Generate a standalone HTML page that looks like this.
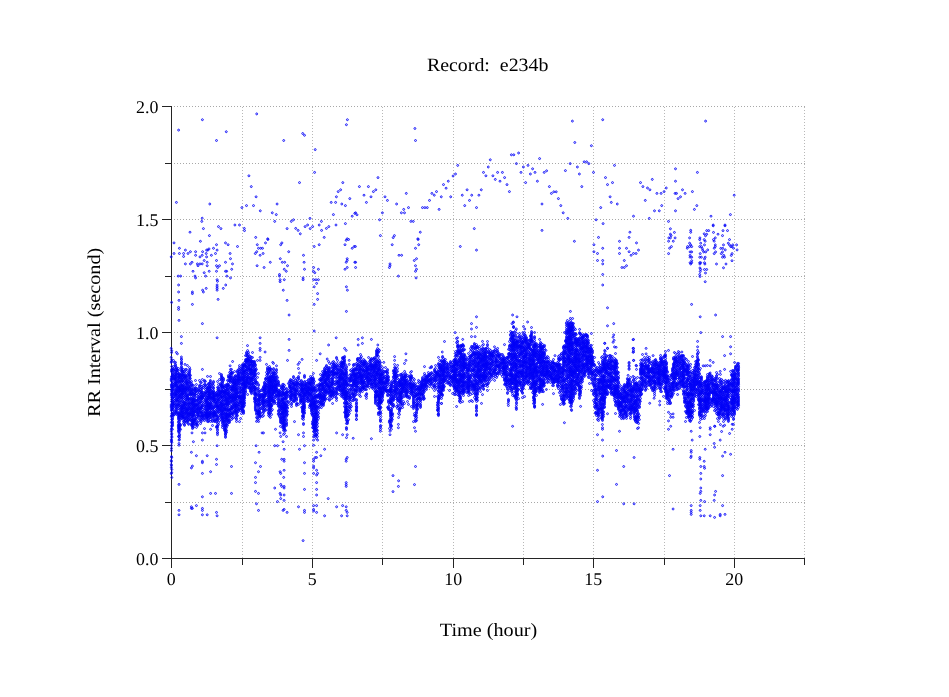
<!DOCTYPE html>
<html><head><meta charset="utf-8"><title>Record: e234b</title>
<style>
html,body{margin:0;padding:0;background:#fff;}
body{width:949px;height:697px;overflow:hidden;position:relative;font-family:"Liberation Serif",serif;color:#000;}
svg{position:absolute;left:0;top:0;}
text{font-family:"Liberation Serif",serif;fill:#000;text-rendering:geometricPrecision;}
</style></head><body>
<svg width="949" height="697" viewBox="0 0 949 697">
<rect width="949" height="697" fill="#fff"/>
<path d="M242.5 558V106M312.5 558V106M382.5 558V106M453.5 558V106M523.5 558V106M593.5 558V106M664.5 558V106M734.5 558V106M804.5 558V106" stroke="#b8b8b8" stroke-width="1" stroke-dasharray="1 2" fill="none"/>
<path d="M174 502.5H806M174 445.5H806M174 389.5H806M174 332.5H806M174 276.5H806M174 219.5H806M174 163.5H806M174 106.5H806" stroke="#a8a8a8" stroke-width="1" stroke-dasharray="1 2" fill="none"/>
<path d="M171.5 106V568M162 558.5H805M242.5 558.5v6.5M312.5 558.5v9.5M382.5 558.5v6.5M453.5 558.5v9.5M523.5 558.5v6.5M593.5 558.5v9.5M664.5 558.5v6.5M734.5 558.5v9.5M804.5 558.5v6.5M171.5 502.5h-6.5M171.5 445.5h-9.5M171.5 389.5h-6.5M171.5 332.5h-9.5M171.5 276.5h-6.5M171.5 219.5h-9.5M171.5 163.5h-6.5M171.5 106.5h-9.5" stroke="#242424" stroke-width="1" fill="none"/>
<defs><marker id="m" markerWidth="4" markerHeight="4" refX="2" refY="2" markerUnits="userSpaceOnUse"><circle cx="2" cy="2" r="0.95" fill="none" stroke="#0606f8" stroke-width="0.9"/></marker></defs>
<polyline points="172.5,369.4 172.6,372.6 172.5,373.4 172.5,374.4 172.5,375.4 172.5,376.6 172.5,377.5 172.5,378.5 172.5,383.5 172.5,384.5 172.6,386.6 172.5,387.6 172.6,388.5 172.5,389.5 172.4,390.5 172.5,393.4 172.5,394.4 172.5,395.5 172.5,397.4 172.5,398.5 172.6,401.5 172.6,402.5 172.6,403.5 172.5,404.5 172.4,405.4 172.5,406.5 172.5,407.6 172.5,408.6 172.4,409.6 172.5,411.5 172.6,413.6 172.5,414.4 172.6,415.5 172.6,417.5 172.4,418.5 172.5,419.5 172.5,421.6 172.4,422.5 172.4,423.4 172.5,424.4 172.6,425.6 172.4,429.4 173.5,360.5 173.5,366.6 173.5,368.6 173.5,369.5 173.5,370.4 173.5,375.5 173.6,376.4 173.5,378.5 173.5,379.5 173.4,382.5 173.4,384.6 173.6,386.5 173.5,388.5 173.5,391.5 173.5,392.6 173.4,396.5 173.5,397.5 173.5,399.6 173.4,401.4 173.5,403.5 173.5,404.4 173.5,405.4 173.4,407.4 173.5,409.5 173.5,413.4 173.5,414.5 173.5,415.5 174.5,362.5 174.5,371.6 174.6,374.6 174.6,378.6 174.4,379.5 174.5,383.4 174.5,385.5 174.4,386.5 174.5,393.5 174.5,394.5 174.5,398.6 174.6,400.6 174.5,403.5 174.6,405.5 174.5,411.5 174.5,414.4 175.5,362.4 175.5,364.5 175.5,365.5 175.4,366.5 175.6,369.5 175.5,371.5 175.5,373.6 175.6,374.6 175.5,375.5 175.4,376.6 175.5,377.4 175.5,378.4 175.5,379.6 175.5,381.5 175.5,382.5 175.4,383.4 175.5,384.5 175.4,385.5 175.4,389.6 175.5,390.5 175.5,391.5 175.5,393.6 175.5,394.5 175.5,395.4 175.4,396.6 175.5,401.5 175.6,404.5 175.6,407.6 175.5,411.4 175.5,412.4 176.5,367.5 176.5,368.4 176.5,369.4 176.6,370.5 176.6,371.5 176.5,373.4 176.5,374.4 176.5,376.4 176.5,377.4 176.5,379.5 176.5,380.5 176.5,381.5 176.4,382.5 176.4,383.5 176.6,384.5 176.6,385.6 176.6,386.5 176.6,387.5 176.6,388.5 176.6,389.6 176.4,390.5 176.5,391.4 176.4,392.5 176.5,393.5 176.5,394.5 176.6,395.6 176.5,396.4 176.5,398.5 176.5,399.5 176.5,400.5 176.5,401.6 176.4,404.5 176.5,405.4 176.4,406.4 176.5,407.5 176.5,408.5 176.5,409.6 176.4,410.5 176.5,411.5 176.5,412.5 176.5,413.6 176.5,414.5 177.5,370.5 177.5,372.5 177.5,383.5 177.5,387.5 177.5,391.6 177.5,393.5 177.5,398.5 177.4,399.5 177.5,401.4 177.5,404.5 178.5,368.5 178.5,370.4 178.4,373.5 178.6,374.4 178.4,375.5 178.5,376.5 178.4,377.5 178.5,378.5 178.6,379.5 178.6,380.6 178.5,381.6 178.5,382.4 178.5,385.5 178.6,386.5 178.4,387.5 178.5,388.5 178.4,389.4 178.5,390.6 178.5,391.6 178.5,392.4 178.6,394.6 178.5,396.5 178.5,397.5 178.6,399.5 178.6,401.4 178.5,403.5 178.6,404.5 178.4,405.5 178.5,406.5 178.5,408.5 178.5,412.5 178.5,413.5 178.6,414.5 178.5,415.5 178.5,416.5 178.5,417.5 178.5,418.5 178.6,419.5 178.6,421.4 178.4,422.5 178.5,424.6 178.4,425.5 178.4,426.5 178.6,427.5 178.5,428.5 178.5,430.5 178.5,431.5 178.5,436.5 179.5,373.6 179.5,374.6 179.6,375.5 179.4,376.5 179.5,377.5 179.5,379.4 179.6,381.5 179.5,382.5 179.4,386.6 179.6,387.5 179.6,388.4 179.4,389.4 179.6,390.6 179.5,391.5 179.5,393.5 179.5,394.5 179.5,395.5 179.5,396.5 179.5,397.5 179.5,398.4 179.5,400.5 179.5,401.5 179.6,403.6 179.5,405.5 179.5,407.5 179.4,409.5 179.5,412.5 179.4,413.4 179.5,414.5 179.5,415.5 179.5,416.5 179.4,417.6 179.6,419.5 179.5,421.5 179.5,423.4 179.6,424.4 179.5,425.5 179.6,426.6 179.5,427.5 179.4,428.6 179.5,429.6 179.5,431.5 179.6,434.5 179.4,435.6 179.5,437.5 179.4,439.5 180.5,377.6 180.6,381.5 180.5,384.5 180.5,385.4 180.5,388.5 180.6,389.6 180.5,390.5 180.5,394.5 180.5,404.4 180.5,406.5 180.5,409.5 180.5,412.5 180.4,415.4 180.5,419.4 180.4,424.5 180.5,425.5 180.6,429.4 181.5,359.5 181.5,361.5 181.5,362.6 181.5,363.5 181.4,364.4 181.5,366.5 181.5,367.5 181.6,368.5 181.6,369.5 181.5,370.5 181.5,371.5 181.6,373.5 181.6,374.5 181.5,375.5 181.5,376.4 181.5,377.5 181.5,378.6 181.6,379.5 181.4,380.5 181.5,381.4 181.5,382.5 181.5,384.5 181.6,385.5 181.5,386.6 181.5,387.5 181.6,388.5 181.5,389.4 181.5,390.4 181.5,391.4 181.5,392.5 181.5,393.5 181.5,394.4 181.5,395.5 181.5,396.6 181.5,397.5 181.4,398.4 181.5,399.5 181.5,401.6 181.5,402.5 181.5,405.4 181.5,406.4 181.5,407.5 181.4,408.5 181.4,409.5 181.4,410.5 181.4,411.5 181.5,412.5 181.5,413.5 181.5,414.4 181.5,415.5 181.5,416.4 181.6,417.5 181.5,418.4 182.4,370.5 182.5,371.6 182.5,372.5 182.4,374.5 182.5,375.5 182.5,377.5 182.5,380.6 182.5,381.5 182.5,385.5 182.5,386.5 182.5,388.5 182.4,389.5 182.4,390.4 182.5,391.4 182.5,392.5 182.6,393.6 182.5,394.5 182.5,396.5 182.5,398.5 182.5,401.5 182.5,405.5 182.4,406.4 182.6,407.6 182.5,408.5 182.6,410.6 182.5,411.4 182.5,412.5 182.5,414.4 182.5,415.5 182.5,416.6 182.5,417.5 183.5,369.4 183.5,371.5 183.4,373.4 183.4,375.4 183.6,376.5 183.5,378.5 183.4,379.5 183.6,382.6 183.6,384.5 183.4,385.4 183.4,386.5 183.5,388.4 183.6,389.4 183.5,390.5 183.5,392.6 183.6,395.5 183.6,397.4 183.5,399.5 183.5,402.5 183.6,403.5 183.5,404.5 183.5,405.5 183.4,407.4 183.5,408.4 183.5,409.5 183.6,412.5 183.6,414.5 183.5,416.5 183.5,417.5 183.4,419.5 183.5,421.5 183.5,423.6 184.5,371.5 184.5,373.5 184.6,375.4 184.6,376.5 184.5,377.6 184.6,378.4 184.5,380.6 184.6,381.6 184.6,383.4 184.5,386.5 184.6,387.5 184.5,388.4 184.5,389.5 184.5,390.6 184.6,392.5 184.5,393.4 184.5,394.6 184.4,396.5 184.6,398.4 184.5,400.6 184.5,402.5 184.5,403.5 184.5,404.5 184.4,406.5 184.4,407.4 184.5,409.5 184.5,411.5 184.5,412.4 184.5,413.6 184.5,414.5 184.5,416.5 184.5,417.6 184.6,418.5 184.6,419.5 184.5,421.4 184.5,422.5 184.5,424.5 184.5,425.4 185.5,369.5 185.5,375.5 185.5,376.5 185.5,387.5 185.6,389.5 185.4,390.5 185.4,392.5 185.5,395.5 185.5,397.4 185.5,401.5 185.5,403.5 185.5,405.4 185.5,406.5 185.5,408.4 185.5,409.5 185.6,412.4 185.4,420.6 186.5,369.4 186.6,371.5 186.5,376.6 186.5,377.5 186.5,378.5 186.5,379.5 186.4,380.6 186.5,381.5 186.5,382.4 186.5,383.5 186.5,384.5 186.5,385.6 186.5,386.6 186.5,387.5 186.5,388.5 186.5,389.5 186.4,391.5 186.5,392.5 186.5,394.5 186.6,395.6 186.5,396.6 186.4,398.5 186.5,399.5 186.4,401.6 186.4,403.5 186.5,404.6 186.5,406.5 186.5,408.5 186.5,409.5 186.4,410.6 186.5,411.4 186.5,412.6 186.6,413.5 186.5,414.6 186.6,415.5 186.5,416.5 186.6,417.5 186.5,418.5 186.5,419.4 186.5,421.4 186.5,422.5 187.4,374.6 187.5,375.5 187.5,380.5 187.5,382.6 187.5,383.5 187.5,384.4 187.5,388.5 187.5,389.5 187.5,390.5 187.6,394.5 187.6,395.5 187.5,396.4 187.5,397.5 187.4,398.5 187.5,399.5 187.6,400.4 187.5,404.5 187.4,408.6 187.5,409.5 187.5,410.5 187.5,412.5 187.6,413.4 187.6,416.4 187.6,418.5 187.5,420.4 187.5,421.6 188.5,373.5 188.5,381.5 188.5,386.6 188.4,387.6 188.4,389.6 188.4,395.5 188.5,398.5 188.5,399.5 188.5,402.5 188.6,403.4 188.5,404.5 188.5,406.5 188.5,407.5 188.5,409.5 188.5,410.5 188.5,413.5 188.5,414.6 188.5,415.6 188.4,417.5 188.5,419.5 188.5,420.5 188.5,423.5 188.6,424.4 189.5,367.6 189.5,370.4 189.6,371.4 189.5,372.4 189.4,373.4 189.5,374.5 189.5,375.6 189.5,376.4 189.5,377.6 189.4,378.5 189.5,379.5 189.5,381.6 189.5,382.6 189.5,384.5 189.4,385.4 189.5,386.4 189.5,387.5 189.5,388.4 189.5,389.4 189.5,390.5 189.5,391.5 189.6,392.5 189.5,393.5 189.6,394.5 189.5,398.6 189.4,399.5 189.5,400.4 189.4,402.5 189.5,403.5 189.5,405.4 189.5,406.5 189.5,407.4 189.5,408.5 189.5,410.4 189.6,412.5 189.6,413.5 189.5,414.6 189.5,415.5 189.5,417.5 189.6,418.5 190.5,375.4 190.4,378.5 190.5,382.4 190.4,393.5 190.5,394.5 190.4,398.5 190.6,404.5 190.5,408.5 190.6,409.5 190.5,412.5 190.5,413.4 190.5,414.5 190.5,419.6 190.5,420.5 191.5,381.5 191.5,383.4 191.6,384.6 191.4,385.5 191.4,387.5 191.5,388.5 191.5,389.5 191.5,390.4 191.5,391.4 191.5,392.5 191.6,393.6 191.5,394.5 191.5,396.5 191.5,398.5 191.5,400.5 191.5,401.5 191.5,402.5 191.5,403.5 191.5,404.6 191.5,405.6 191.5,408.5 191.5,409.6 191.5,410.5 191.5,411.5 191.6,412.5 191.5,414.5 191.5,415.5 191.6,416.5 191.5,418.6 191.5,420.5 191.5,423.5 191.5,424.6 191.5,425.5 192.5,385.5 192.5,390.4 192.5,391.5 192.5,393.5 192.4,394.5 192.4,395.5 192.4,398.4 192.5,399.5 192.5,400.5 192.6,401.6 192.5,402.5 192.6,403.5 192.5,404.5 192.5,406.6 192.5,407.5 192.6,408.5 192.5,409.6 192.4,411.5 192.5,412.6 192.5,414.5 192.4,415.5 192.6,416.5 192.4,417.4 192.6,418.5 192.4,420.4 192.4,421.5 192.5,422.5 192.5,423.5 192.5,424.5 192.5,425.4 192.5,426.5 192.6,427.5 192.5,428.6 193.5,385.4 193.5,388.6 193.5,393.5 193.5,398.6 193.5,399.5 193.6,401.4 193.4,403.5 193.5,405.6 193.5,406.5 193.5,408.6 193.5,410.5 193.5,411.5 193.5,412.5 193.4,413.5 193.6,414.5 193.5,415.5 193.4,419.5 193.5,420.4 193.5,421.6 193.5,422.6 193.5,423.5 193.5,425.5 193.5,427.4 194.5,388.5 194.5,389.5 194.4,390.4 194.5,392.4 194.6,393.4 194.5,394.5 194.5,395.5 194.4,396.6 194.5,397.5 194.5,399.5 194.4,400.6 194.4,401.4 194.6,402.5 194.4,403.6 194.6,404.4 194.5,405.5 194.5,406.5 194.4,407.5 194.4,408.5 194.5,409.5 194.5,410.5 194.4,411.6 194.5,412.5 194.5,414.5 194.5,415.6 194.5,416.5 194.6,419.4 194.6,420.5 194.6,421.5 194.5,423.6 195.5,380.5 195.5,387.5 195.6,388.5 195.4,390.4 195.5,391.5 195.5,394.5 195.5,400.5 195.5,404.6 195.5,405.4 195.5,406.4 195.4,411.4 195.5,418.4 195.4,419.4 195.5,420.4 195.5,424.5 196.4,384.5 196.5,388.5 196.6,390.5 196.5,391.5 196.5,393.4 196.4,395.5 196.5,398.5 196.4,400.6 196.4,401.4 196.5,404.5 196.5,405.4 196.4,407.5 196.4,408.5 196.6,409.5 196.4,410.5 196.5,411.6 196.5,412.4 196.5,416.6 196.5,418.4 196.5,422.5 196.5,423.5 196.5,424.5 196.4,427.4 197.5,400.4 197.5,403.4 197.5,404.6 197.5,405.5 197.6,406.5 197.5,408.5 197.5,409.4 197.5,412.4 197.5,413.5 197.5,414.5 197.4,415.5 197.5,422.4 197.4,424.5 197.6,425.5 198.4,388.4 198.6,389.5 198.5,390.5 198.5,391.5 198.5,394.4 198.5,396.5 198.5,397.5 198.5,398.5 198.5,399.4 198.5,400.5 198.4,401.6 198.4,403.6 198.5,405.6 198.4,407.4 198.6,408.6 198.4,409.5 198.5,410.5 198.5,412.5 198.5,413.5 198.5,415.4 198.5,416.5 198.4,417.5 198.5,420.5 199.5,380.5 199.5,385.5 199.5,386.6 199.6,390.5 199.5,392.5 199.6,395.6 199.5,397.5 199.5,402.5 199.5,403.4 199.5,404.5 199.4,407.5 199.5,408.5 199.4,409.5 199.4,410.4 199.6,412.5 199.4,415.5 200.5,382.5 200.5,385.5 200.5,387.4 200.5,389.5 200.5,391.5 200.4,394.5 200.6,396.5 200.5,397.5 200.6,398.6 200.5,399.5 200.5,401.5 200.5,402.5 200.5,407.5 200.5,408.5 200.4,410.4 200.5,411.6 200.5,412.5 200.4,415.6 200.5,418.5 200.5,419.5 200.5,421.4 200.5,423.6 201.4,382.5 201.5,386.5 201.5,388.4 201.5,390.5 201.5,391.5 201.4,392.4 201.5,393.5 201.5,394.5 201.4,396.6 201.5,397.5 201.5,398.4 201.4,399.5 201.5,401.5 201.4,405.5 201.6,406.5 201.4,407.6 201.6,408.5 201.6,412.5 201.5,413.5 201.5,415.5 201.5,416.5 201.5,417.5 201.6,419.5 201.4,421.5 202.4,388.5 202.5,392.5 202.6,394.5 202.6,395.5 202.5,396.5 202.5,397.5 202.5,398.6 202.6,402.4 202.4,404.6 202.5,405.5 202.5,406.4 202.5,409.4 202.5,411.6 202.5,413.5 202.5,414.5 202.5,415.5 202.6,416.5 202.5,418.4 203.4,385.5 203.5,387.5 203.6,392.6 203.5,395.6 203.5,396.4 203.5,399.5 203.5,403.4 203.5,411.5 203.5,415.5 203.5,418.5 203.4,419.6 204.5,380.4 204.5,381.5 204.5,384.4 204.6,386.5 204.5,393.4 204.5,397.6 204.5,402.4 204.5,406.4 204.5,408.6 204.5,413.5 204.5,415.4 204.4,416.5 204.6,417.5 204.5,420.6 205.4,381.4 205.4,384.5 205.5,385.6 205.5,387.5 205.6,389.5 205.6,391.5 205.5,392.5 205.4,393.5 205.4,394.5 205.5,395.5 205.6,396.6 205.6,399.5 205.5,400.5 205.5,401.5 205.4,404.5 205.6,405.5 205.5,406.5 205.5,408.5 205.5,409.6 205.5,411.5 205.4,412.5 205.5,413.5 205.5,414.4 205.4,415.5 206.6,388.6 206.4,392.4 206.5,397.5 206.5,399.5 206.5,400.5 206.6,401.5 206.5,402.5 206.6,403.4 206.5,405.6 206.6,406.4 206.5,409.5 206.5,410.5 206.5,412.5 206.5,413.5 206.6,414.5 206.5,415.6 206.5,416.5 206.4,417.5 206.5,418.5 206.5,419.5 207.5,385.5 207.6,387.5 207.6,388.4 207.6,389.5 207.4,390.5 207.4,392.4 207.5,393.5 207.6,395.5 207.5,397.5 207.4,398.6 207.5,399.5 207.5,401.4 207.4,402.5 207.5,403.5 207.5,404.6 207.6,405.5 207.4,406.4 207.4,407.4 207.5,408.5 207.5,409.5 207.5,410.6 207.5,411.5 207.6,412.5 207.5,413.4 207.5,414.4 207.5,415.6 207.6,416.6 207.5,417.5 207.4,418.5 207.5,421.5 208.5,383.5 208.6,384.5 208.5,386.4 208.4,387.4 208.4,390.5 208.4,391.5 208.5,392.5 208.5,394.5 208.5,395.4 208.5,396.5 208.5,397.5 208.5,398.5 208.6,400.6 208.5,403.5 208.5,404.5 208.5,405.5 208.5,406.5 208.6,407.5 208.5,408.5 208.5,409.5 208.5,413.5 208.6,414.5 208.5,415.5 208.5,416.5 208.6,418.6 208.4,420.6 208.5,421.6 209.5,383.4 209.6,387.5 209.6,388.4 209.5,389.5 209.4,391.6 209.5,392.5 209.6,393.5 209.5,394.5 209.5,395.4 209.4,396.4 209.5,397.5 209.5,399.5 209.6,401.5 209.4,403.5 209.5,404.5 209.5,405.4 209.4,406.5 209.5,407.5 209.6,410.6 209.5,412.4 209.5,413.5 209.5,414.4 209.5,415.6 209.5,417.5 210.5,376.5 210.4,380.4 210.4,381.5 210.4,382.5 210.4,384.5 210.4,385.5 210.5,386.5 210.5,387.4 210.6,389.4 210.5,390.4 210.6,391.6 210.5,393.5 210.4,394.5 210.5,395.4 210.4,396.5 210.5,397.5 210.5,398.5 210.4,399.4 210.6,402.5 210.4,403.5 210.5,404.5 210.5,405.5 210.5,406.5 210.5,407.5 210.5,408.6 210.5,409.5 210.5,411.5 210.5,412.5 210.5,413.6 210.5,414.4 210.6,415.5 210.5,416.5 210.5,417.5 210.5,419.6 210.6,421.4 211.4,390.5 211.5,393.4 211.5,397.5 211.4,398.5 211.4,401.6 211.5,404.4 211.5,405.6 211.4,406.5 211.4,408.6 211.5,412.5 212.5,383.5 212.5,384.5 212.4,387.5 212.5,391.5 212.6,392.5 212.5,393.4 212.5,394.5 212.5,396.5 212.5,397.4 212.5,398.5 212.5,400.5 212.5,402.5 212.5,408.5 212.4,409.4 212.6,411.5 212.5,413.4 212.6,414.5 212.6,415.5 212.6,417.4 212.5,418.4 212.5,420.4 212.4,421.5 212.5,425.5 213.5,381.4 213.6,382.5 213.5,385.4 213.5,387.6 213.5,388.5 213.5,390.5 213.5,391.4 213.5,392.5 213.5,393.5 213.4,394.6 213.4,395.5 213.4,396.6 213.5,397.4 213.6,398.4 213.5,399.5 213.5,400.5 213.4,401.5 213.5,405.5 213.5,406.5 213.5,407.4 213.5,408.4 213.6,411.5 213.5,412.5 213.4,413.5 213.5,414.5 213.6,415.6 213.5,416.5 214.5,392.5 214.5,394.5 214.5,395.5 214.5,396.5 214.5,397.5 214.5,398.6 214.5,399.5 214.5,400.5 214.6,403.5 214.5,406.5 214.5,409.6 214.6,411.6 214.6,412.5 214.5,413.5 214.6,414.5 214.5,416.5 214.4,419.4 214.5,420.5 214.4,421.5 215.4,393.5 215.5,395.5 215.5,399.5 215.4,401.5 215.5,402.4 215.5,403.6 215.5,406.5 215.5,412.4 215.5,414.5 215.6,415.4 215.5,416.4 215.5,419.4 215.5,421.5 216.5,392.5 216.5,393.5 216.5,394.5 216.4,395.5 216.4,396.6 216.5,399.5 216.6,400.6 216.4,402.5 216.4,403.5 216.6,404.5 216.4,405.6 216.5,406.5 216.6,407.5 216.6,409.6 216.4,411.5 216.6,412.6 216.6,414.5 216.5,415.6 216.6,419.5 216.5,421.5 216.5,426.5 216.5,427.4 217.5,387.5 217.5,391.4 217.6,394.6 217.6,395.6 217.5,396.5 217.5,398.6 217.5,401.5 217.4,402.6 217.5,405.6 217.5,406.5 217.6,407.5 217.5,409.5 217.5,410.6 217.5,416.5 217.6,417.5 217.4,418.5 217.6,419.5 217.4,420.4 217.5,423.5 217.5,425.5 217.5,426.5 217.5,427.4 217.5,430.5 217.5,432.5 218.5,384.6 218.5,387.4 218.5,388.5 218.5,389.6 218.5,390.4 218.6,391.5 218.5,393.5 218.5,394.5 218.4,395.5 218.5,397.6 218.5,398.5 218.5,399.5 218.5,400.5 218.4,401.5 218.5,404.5 218.4,405.5 218.4,406.4 218.5,407.5 218.4,408.6 218.5,411.6 218.4,412.5 218.5,416.6 218.5,422.6 218.5,424.6 219.5,373.5 219.5,379.5 219.4,391.5 219.6,393.5 219.4,394.5 219.6,396.5 219.5,399.5 219.6,403.5 219.6,405.4 219.5,408.5 219.6,409.5 219.4,411.5 219.4,413.5 219.5,417.5 219.5,420.5 220.4,383.5 220.5,384.5 220.5,385.5 220.5,387.6 220.4,390.5 220.5,391.5 220.6,392.5 220.4,393.5 220.5,394.5 220.5,395.5 220.5,396.5 220.5,397.5 220.5,400.4 220.5,402.5 220.6,403.5 220.5,405.5 220.5,406.5 220.5,408.5 220.5,409.6 220.4,410.5 220.5,414.5 220.5,415.6 221.5,374.5 221.4,375.5 221.5,376.4 221.5,377.5 221.6,378.5 221.5,379.5 221.5,380.5 221.6,384.5 221.5,385.5 221.5,386.5 221.5,387.5 221.6,390.5 221.4,391.4 221.5,392.5 221.5,394.5 221.5,396.5 221.5,397.4 221.5,399.5 221.5,401.4 221.5,402.6 221.6,403.4 221.6,404.5 221.5,405.5 221.5,406.5 221.5,407.4 221.5,408.5 221.5,410.6 221.5,411.5 221.5,412.6 221.5,413.5 221.5,414.4 221.5,415.6 221.5,417.5 221.6,418.5 221.5,420.5 222.5,377.5 222.5,381.5 222.5,382.5 222.5,383.5 222.5,386.5 222.5,387.4 222.5,388.5 222.4,390.4 222.5,391.5 222.6,392.4 222.5,393.5 222.6,395.5 222.5,396.5 222.6,397.4 222.5,398.5 222.4,400.5 222.4,402.5 222.5,404.5 222.6,405.5 222.6,407.5 222.5,408.5 222.4,410.5 222.5,411.5 222.6,413.5 222.5,415.5 222.5,417.5 222.5,418.5 222.4,419.5 222.5,420.4 222.5,422.5 222.5,423.5 222.4,425.6 222.5,427.5 223.5,378.5 223.5,379.5 223.4,380.5 223.5,385.6 223.6,386.5 223.5,387.5 223.5,389.5 223.4,391.5 223.6,392.6 223.6,394.5 223.4,397.5 223.5,399.6 223.4,400.5 223.5,401.5 223.5,404.5 223.6,405.5 223.4,406.6 223.5,409.5 223.5,410.4 223.5,412.5 223.5,413.5 223.5,415.5 223.4,416.4 223.4,417.5 223.6,418.4 223.6,420.5 223.5,421.5 223.4,422.5 223.5,425.5 224.6,385.5 224.5,387.4 224.5,390.5 224.5,391.5 224.5,392.5 224.5,393.6 224.6,394.5 224.5,395.5 224.4,396.5 224.4,403.6 224.5,404.5 224.4,407.5 224.5,408.5 224.5,409.6 224.5,410.4 224.5,413.5 224.6,419.4 224.4,421.5 224.6,422.4 224.4,424.5 224.5,425.5 224.5,427.5 224.5,428.5 224.5,429.4 224.5,430.5 225.6,388.5 225.5,390.5 225.6,391.6 225.5,392.5 225.4,393.6 225.4,396.5 225.4,397.5 225.5,398.4 225.6,399.5 225.5,400.5 225.4,401.5 225.6,403.6 225.5,404.5 225.4,405.5 225.4,407.6 225.5,408.4 225.5,409.5 225.4,412.4 225.4,413.4 225.4,414.6 225.5,415.5 225.5,416.4 225.6,417.5 225.5,418.5 225.5,419.5 225.5,424.5 225.6,425.5 225.5,426.4 225.6,427.5 225.5,429.5 225.5,430.5 225.5,431.4 225.5,432.4 225.4,433.5 225.5,434.6 225.5,437.4 226.4,384.5 226.5,385.4 226.4,386.6 226.4,387.5 226.6,389.4 226.5,390.5 226.4,392.5 226.5,393.6 226.4,395.6 226.6,397.6 226.6,398.4 226.5,399.5 226.4,400.6 226.5,401.5 226.5,403.5 226.5,404.4 226.6,407.5 226.5,409.5 226.6,410.6 226.5,413.6 226.5,414.5 226.4,415.4 226.5,416.6 226.4,417.5 226.5,418.5 226.4,420.5 226.4,421.5 226.6,422.6 226.5,424.5 226.4,425.5 226.5,427.6 226.6,430.5 226.5,432.4 227.5,380.4 227.5,384.5 227.4,385.5 227.5,387.4 227.5,389.6 227.4,391.6 227.5,393.6 227.4,394.6 227.4,395.5 227.4,398.5 227.5,401.5 227.6,402.5 227.5,403.5 227.4,404.5 227.6,405.5 227.5,406.6 227.4,409.6 227.4,410.5 227.5,412.4 227.5,413.5 227.6,414.6 227.5,416.4 227.5,417.5 227.5,419.5 227.4,420.4 227.5,423.5 227.5,425.4 228.4,375.5 228.6,376.6 228.5,377.5 228.6,380.5 228.5,382.6 228.5,384.6 228.5,385.5 228.5,387.4 228.5,389.4 228.6,391.6 228.4,392.5 228.6,393.5 228.4,394.5 228.5,395.6 228.6,397.5 228.4,398.5 228.5,399.5 228.5,400.4 228.6,401.5 228.4,402.6 228.5,403.4 228.5,404.5 228.5,408.5 228.5,409.4 228.4,410.4 228.5,414.5 228.5,415.5 228.4,416.5 228.5,418.5 228.5,419.5 228.5,420.4 228.5,422.5 229.6,372.5 229.6,376.6 229.5,377.5 229.5,380.5 229.5,386.5 229.6,389.6 229.5,392.5 229.6,395.6 229.4,396.6 229.5,397.6 229.4,398.6 229.5,400.4 229.4,405.5 229.4,409.5 229.5,410.6 229.5,411.5 229.5,413.5 229.4,414.5 229.5,415.5 229.5,416.5 229.5,420.4 229.5,421.4 229.5,422.5 230.5,369.5 230.6,371.5 230.5,373.4 230.5,374.5 230.6,375.5 230.5,377.6 230.4,378.5 230.5,379.5 230.6,380.5 230.5,381.5 230.5,382.5 230.5,386.6 230.5,388.4 230.5,393.5 230.5,395.5 230.5,396.6 230.5,397.5 230.5,401.5 230.5,402.5 230.5,403.5 230.4,408.4 230.5,409.4 230.5,410.5 230.5,412.5 230.5,413.4 230.5,414.5 230.5,416.6 231.6,372.5 231.5,373.4 231.4,375.6 231.6,377.5 231.5,380.4 231.5,386.5 231.5,388.6 231.5,389.5 231.5,390.4 231.5,392.4 231.5,394.4 231.6,396.5 231.6,397.4 231.5,398.5 231.5,399.4 231.5,400.5 231.5,401.5 231.5,406.5 231.6,407.5 231.5,408.5 231.5,410.6 231.5,413.5 231.5,415.5 231.5,417.5 231.5,419.5 232.5,372.6 232.5,373.6 232.6,377.6 232.6,378.6 232.4,381.5 232.5,382.5 232.5,384.5 232.5,386.5 232.5,387.5 232.5,388.5 232.5,389.5 232.5,390.5 232.4,393.6 232.6,394.6 232.4,395.4 232.5,397.5 232.4,398.5 232.4,400.5 232.4,405.5 232.6,406.4 232.4,407.5 232.5,408.5 232.5,412.5 232.5,413.5 232.5,414.5 232.5,418.5 233.5,379.4 233.5,380.4 233.5,381.5 233.5,382.4 233.6,383.5 233.5,384.6 233.5,386.5 233.6,387.4 233.6,388.5 233.4,390.5 233.6,395.4 233.5,396.4 233.6,397.6 233.6,398.5 233.5,399.5 233.5,400.5 233.4,401.5 233.4,402.4 233.4,403.6 233.5,404.4 233.4,406.5 233.5,409.4 233.6,412.4 233.5,414.5 233.4,417.5 234.6,376.5 234.5,378.5 234.5,379.5 234.5,381.4 234.6,382.4 234.5,383.5 234.5,384.5 234.4,385.5 234.4,386.5 234.5,388.5 234.5,389.6 234.5,390.6 234.6,391.6 234.5,392.5 234.6,393.4 234.5,395.5 234.5,396.4 234.6,398.6 234.5,401.4 234.5,404.4 234.5,405.4 234.6,406.4 234.4,408.4 234.6,410.5 234.6,411.5 234.4,412.5 235.5,375.5 235.5,376.6 235.5,377.4 235.6,379.5 235.4,380.5 235.5,382.5 235.5,383.6 235.5,385.5 235.4,387.5 235.5,388.5 235.5,389.5 235.5,393.5 235.4,394.5 235.6,396.6 235.6,397.6 235.5,398.6 235.5,399.4 235.5,401.5 235.5,403.5 235.6,404.5 235.4,405.5 235.5,406.5 235.5,407.5 235.4,408.5 235.6,410.5 235.5,411.5 235.4,412.4 235.4,417.6 236.5,380.5 236.5,381.6 236.5,382.5 236.5,383.6 236.6,384.6 236.5,385.4 236.6,386.5 236.6,387.4 236.5,388.5 236.5,389.5 236.5,390.5 236.4,391.5 236.5,392.6 236.4,393.4 236.5,394.5 236.6,395.4 236.5,396.5 236.6,397.5 236.5,399.6 236.5,400.5 236.5,402.4 236.4,403.5 236.5,405.5 236.6,406.5 236.5,407.6 236.5,409.5 236.5,410.5 236.5,411.6 236.5,412.5 236.4,413.5 236.5,414.5 236.4,415.5 236.6,416.5 236.5,418.4 236.5,419.5 236.5,421.5 237.5,370.6 237.5,371.6 237.4,372.5 237.4,375.4 237.5,376.6 237.5,378.5 237.4,379.5 237.4,380.6 237.5,389.6 237.6,390.5 237.5,392.5 237.6,393.5 237.5,396.5 237.5,398.5 237.5,403.4 237.6,405.5 237.4,408.5 237.5,412.5 237.5,415.5 238.4,369.6 238.4,373.5 238.5,374.4 238.5,375.5 238.6,376.6 238.5,377.5 238.5,378.6 238.5,379.5 238.5,380.5 238.4,381.6 238.5,382.6 238.5,383.5 238.6,384.4 238.6,385.5 238.5,387.5 238.5,392.5 238.5,394.4 238.5,396.5 238.5,397.5 238.5,401.4 238.6,402.6 238.5,404.5 238.5,405.6 238.5,406.5 238.5,408.5 238.4,409.5 238.5,410.4 238.4,411.5 239.5,365.6 239.5,367.4 239.5,369.5 239.5,371.5 239.5,373.5 239.5,376.5 239.5,378.5 239.5,380.4 239.5,381.4 239.6,383.5 239.5,387.5 239.5,388.5 239.5,392.4 239.5,395.6 239.4,396.5 239.4,397.6 239.5,398.5 239.5,399.5 239.6,402.6 239.5,404.5 239.6,408.5 239.5,409.5 240.4,368.4 240.6,370.5 240.5,371.5 240.6,373.5 240.5,376.5 240.5,378.5 240.5,379.5 240.4,380.5 240.5,389.5 240.5,390.5 240.4,391.5 240.5,392.5 240.5,395.6 240.4,396.4 240.6,397.6 240.4,398.4 240.5,400.5 240.5,401.6 240.5,402.5 240.4,405.5 240.5,410.6 241.5,369.5 241.5,373.4 241.5,376.5 241.4,377.6 241.5,379.5 241.4,380.5 241.5,382.5 241.5,383.5 241.5,384.6 241.4,386.4 241.5,387.4 241.6,388.4 241.5,391.5 241.5,393.5 241.5,396.4 241.5,397.5 241.5,398.5 241.5,400.5 241.4,401.4 241.5,402.6 241.5,403.4 241.6,405.5 241.4,406.5 241.5,407.5 241.5,408.5 241.6,409.6 241.5,413.6 242.5,364.5 242.5,365.4 242.6,366.5 242.5,367.5 242.4,368.5 242.5,369.4 242.6,370.5 242.5,372.4 242.5,373.5 242.4,374.6 242.5,375.5 242.5,377.6 242.4,378.5 242.4,379.4 242.5,383.6 242.5,384.5 242.6,389.5 242.5,390.5 242.5,393.5 242.5,395.4 242.5,396.5 242.5,397.4 242.4,398.5 242.5,399.4 242.5,403.5 242.5,404.5 242.5,405.5 242.5,406.5 242.5,407.5 242.5,409.5 242.5,410.5 242.5,411.6 243.5,364.6 243.6,365.5 243.4,366.5 243.4,367.5 243.5,370.5 243.5,371.5 243.5,372.5 243.5,373.5 243.5,376.5 243.4,377.5 243.5,378.5 243.4,379.5 243.5,380.5 243.5,381.4 243.6,382.5 243.6,383.5 243.5,384.5 243.5,385.5 243.5,387.5 243.5,388.5 243.6,389.5 243.5,390.5 243.5,391.5 243.6,392.5 243.5,393.6 243.6,394.5 243.5,395.6 243.5,396.6 243.5,397.5 243.6,398.6 243.4,399.5 243.6,400.5 243.4,401.5 243.4,402.5 243.6,403.6 243.5,405.5 243.5,406.5 243.4,407.5 243.5,410.4 243.6,411.5 243.5,412.5 243.6,413.4 244.5,362.5 244.6,364.5 244.5,365.5 244.5,367.5 244.6,370.6 244.5,371.6 244.6,372.5 244.6,374.6 244.4,375.5 244.5,376.6 244.5,377.5 244.4,379.6 244.4,380.5 244.5,381.5 244.5,382.6 244.4,383.5 244.5,384.5 244.4,385.5 244.5,386.5 244.5,387.4 244.5,388.4 244.4,391.4 244.5,393.5 244.5,394.5 244.5,395.4 244.5,396.5 244.5,397.6 244.6,398.4 244.5,400.5 244.5,402.5 244.5,403.6 244.5,405.5 245.5,355.6 245.6,359.5 245.6,360.5 245.5,361.6 245.5,364.5 245.4,365.5 245.6,366.5 245.5,368.5 245.5,370.4 245.5,372.5 245.4,374.5 245.5,376.5 245.5,378.4 245.5,382.4 245.5,384.4 245.6,385.5 245.5,386.5 245.5,387.6 245.5,388.5 245.4,390.5 245.6,391.5 245.5,392.5 246.5,352.4 246.5,353.4 246.5,355.5 246.5,359.6 246.5,360.5 246.4,361.5 246.6,362.5 246.5,364.4 246.5,366.5 246.5,367.4 246.4,369.5 246.5,370.5 246.6,371.5 246.5,373.5 246.5,375.5 246.5,377.5 246.5,378.5 246.5,379.6 246.4,380.5 246.6,381.6 246.5,382.5 246.5,383.5 246.4,385.5 246.5,386.5 247.6,350.6 247.6,353.6 247.5,355.5 247.5,356.6 247.4,358.5 247.4,359.6 247.4,360.6 247.5,362.6 247.5,367.6 247.6,369.5 247.5,373.5 247.5,374.6 247.5,376.4 247.6,377.5 247.6,378.5 247.5,379.4 247.5,380.4 247.6,381.5 247.4,382.5 247.5,383.6 247.5,384.6 247.6,387.4 248.5,352.4 248.5,354.4 248.5,357.5 248.5,358.4 248.5,359.6 248.4,360.5 248.4,361.4 248.5,362.5 248.5,364.5 248.6,365.5 248.6,366.5 248.5,367.6 248.4,369.6 248.4,370.5 248.5,372.6 248.5,376.5 248.5,379.4 248.5,383.5 248.6,387.4 249.5,356.4 249.5,358.6 249.5,361.5 249.6,364.5 249.5,365.5 249.5,368.6 249.5,369.5 249.5,373.5 249.4,375.5 249.5,377.5 249.5,378.5 249.5,381.5 249.5,382.5 249.4,383.5 249.5,384.4 249.5,385.4 249.5,387.5 249.5,388.6 250.5,356.5 250.5,359.5 250.5,360.5 250.5,361.5 250.5,363.5 250.5,367.5 250.4,368.6 250.5,369.4 250.5,370.6 250.5,371.4 250.5,372.4 250.5,373.5 250.5,374.5 250.5,377.5 250.4,378.5 250.5,379.5 250.5,380.5 250.5,381.5 250.5,384.5 250.5,386.5 250.6,387.4 250.6,388.5 250.5,390.5 250.4,391.5 251.4,357.5 251.5,360.6 251.5,361.5 251.5,362.5 251.6,363.5 251.5,364.4 251.5,365.5 251.5,368.6 251.4,369.4 251.6,370.6 251.5,372.5 251.5,373.4 251.5,374.5 251.6,377.4 251.4,378.5 251.5,379.4 251.5,380.5 251.5,382.5 251.5,384.5 251.5,385.4 251.5,387.4 251.5,388.4 251.5,389.5 251.6,390.6 251.5,391.5 251.6,392.6 251.5,393.6 252.5,352.5 252.5,357.5 252.5,361.5 252.5,363.5 252.5,365.5 252.5,366.5 252.5,368.6 252.6,370.5 252.5,371.5 252.4,373.5 252.5,375.5 252.5,377.5 252.6,378.4 252.6,379.5 252.5,382.6 252.5,383.5 252.4,384.5 252.5,387.6 252.4,390.5 253.5,361.5 253.4,362.5 253.4,365.5 253.4,366.6 253.5,371.5 253.6,373.5 253.5,374.5 253.5,375.4 253.6,377.5 253.6,379.5 253.5,381.5 253.5,383.5 253.5,385.5 253.5,386.5 253.5,387.4 253.5,389.6 254.6,361.4 254.6,362.5 254.5,363.5 254.5,364.5 254.5,366.5 254.5,368.6 254.6,369.6 254.5,370.4 254.4,371.5 254.4,372.4 254.4,373.4 254.4,375.6 254.5,376.4 254.5,378.5 254.5,382.5 254.4,384.5 254.4,386.6 254.5,387.5 254.5,388.6 254.5,389.5 254.6,390.6 254.4,391.5 254.6,392.5 254.5,393.5 254.4,394.5 254.6,397.4 254.5,398.4 254.5,399.5 254.6,401.6 255.4,364.5 255.5,365.5 255.5,367.5 255.5,369.5 255.4,370.5 255.5,371.5 255.5,373.5 255.5,374.5 255.4,375.4 255.5,377.5 255.5,379.5 255.6,380.5 255.6,381.6 255.6,382.6 255.5,385.5 255.6,387.5 255.6,388.5 255.6,389.5 255.5,393.5 255.5,394.5 255.5,395.4 255.5,397.5 255.6,398.5 255.4,399.5 255.5,400.4 255.4,401.4 255.4,402.5 255.4,403.5 255.5,404.5 255.5,405.5 255.4,406.6 255.4,407.5 255.4,408.5 255.5,409.5 255.5,410.5 256.5,369.5 256.5,382.4 256.4,383.6 256.4,389.5 256.4,392.5 256.5,393.5 256.5,394.5 256.4,395.5 256.4,400.5 256.5,402.5 256.5,410.5 256.6,412.4 256.5,413.4 256.5,414.4 256.5,417.5 256.5,421.4 257.5,377.4 257.4,382.5 257.6,388.5 257.5,397.6 257.5,400.4 257.6,403.6 257.6,404.5 257.4,405.5 257.5,410.5 257.5,411.4 257.6,413.6 257.5,417.5 257.5,418.6 257.5,420.6 258.5,384.5 258.6,385.5 258.5,388.4 258.4,390.6 258.6,391.5 258.6,394.5 258.5,395.5 258.5,398.6 258.5,399.5 258.5,400.5 258.6,401.5 258.5,402.5 258.5,404.4 258.5,405.5 258.5,407.5 258.4,408.5 258.6,411.4 258.5,412.4 258.5,413.4 258.5,414.5 258.5,415.5 258.6,421.5 259.5,391.4 259.5,393.5 259.5,394.4 259.6,395.6 259.5,396.5 259.6,397.5 259.6,398.5 259.5,399.5 259.5,400.5 259.5,403.5 259.6,404.6 259.5,409.6 259.4,410.6 259.4,411.5 259.5,412.4 259.6,413.4 259.6,414.5 259.5,415.5 259.6,416.6 259.4,418.5 260.5,390.6 260.5,396.6 260.5,397.5 260.6,401.4 260.4,403.5 260.4,406.4 260.4,408.5 260.5,412.5 260.5,415.5 260.6,416.6 261.5,390.5 261.6,394.5 261.5,395.4 261.5,400.6 261.6,405.5 261.5,408.6 262.6,388.6 262.4,394.5 262.5,395.5 262.4,396.4 262.6,397.5 262.4,398.5 262.5,399.5 262.6,400.5 262.4,401.5 262.5,402.6 262.4,403.5 262.5,408.5 262.5,413.5 262.5,416.5 263.5,386.5 263.5,387.6 263.6,388.4 263.5,389.4 263.4,390.4 263.5,391.5 263.6,393.5 263.5,395.5 263.5,396.6 263.5,397.5 263.5,398.6 263.6,400.4 263.5,401.5 263.5,402.5 263.5,403.6 263.4,404.4 263.6,405.6 263.6,406.4 263.4,407.5 263.6,409.5 263.5,410.5 263.5,411.4 263.6,412.6 263.5,415.6 264.4,382.4 264.5,383.5 264.6,384.5 264.6,385.5 264.6,386.6 264.6,388.4 264.5,389.4 264.6,390.5 264.6,391.4 264.5,393.6 264.6,394.4 264.4,395.6 264.5,396.5 264.5,397.5 264.5,400.6 264.6,401.5 264.4,402.5 264.4,404.5 264.5,406.5 264.5,408.6 265.5,378.5 265.6,379.4 265.5,381.5 265.5,384.5 265.4,386.4 265.4,387.5 265.5,388.4 265.4,389.5 265.5,390.5 265.5,392.5 265.5,393.6 265.5,394.5 265.4,395.5 265.4,400.5 265.5,402.5 265.5,407.6 265.6,409.6 265.5,410.5 266.5,372.4 266.6,375.4 266.5,377.6 266.5,378.6 266.5,380.4 266.5,382.5 266.5,385.4 266.5,386.4 266.6,387.5 266.5,390.5 266.5,392.5 266.6,395.5 266.4,399.4 266.5,401.4 266.5,402.5 266.5,404.5 266.5,405.6 267.6,367.5 267.5,368.6 267.5,369.5 267.5,370.4 267.5,373.6 267.5,374.5 267.5,379.5 267.5,383.4 267.4,385.6 267.5,389.5 267.5,392.4 267.5,393.6 267.4,399.5 267.5,401.5 267.5,405.5 268.5,371.5 268.5,372.4 268.5,373.5 268.5,376.6 268.6,377.5 268.6,378.4 268.5,379.5 268.5,380.6 268.5,381.5 268.5,383.5 268.6,384.5 268.4,386.6 268.5,387.5 268.6,388.5 268.5,389.5 268.5,390.5 268.5,391.5 268.6,392.5 268.6,393.4 268.4,395.5 268.5,396.6 268.5,397.6 268.5,398.4 268.6,400.4 268.5,401.5 268.6,402.6 268.5,403.5 268.4,404.5 268.6,405.5 268.5,407.5 268.4,409.5 268.5,410.5 268.5,412.4 268.5,413.5 268.6,415.4 269.5,366.5 269.5,368.4 269.5,369.5 269.5,370.4 269.4,377.4 269.5,378.5 269.5,379.4 269.5,380.5 269.5,381.5 269.5,382.5 269.4,384.5 269.5,385.4 269.5,386.5 269.4,387.5 269.6,388.4 269.5,390.5 269.5,391.5 269.5,392.4 269.4,393.4 269.4,394.4 269.6,395.6 269.5,396.5 269.5,397.5 269.5,398.5 269.4,399.5 269.4,400.5 269.5,401.6 269.4,402.5 269.5,403.5 269.5,405.5 269.5,406.4 269.5,407.5 269.5,408.4 269.5,409.6 269.5,411.4 269.5,413.5 269.6,414.5 269.5,416.4 270.5,368.5 270.5,369.4 270.5,371.4 270.5,372.5 270.5,375.5 270.5,376.5 270.6,377.5 270.5,378.5 270.5,379.5 270.5,380.6 270.5,381.4 270.5,382.5 270.5,383.6 270.6,385.5 270.4,386.5 270.5,387.5 270.4,388.5 270.5,389.4 270.5,390.6 270.6,391.5 270.5,392.5 270.4,393.6 270.4,395.6 270.5,396.5 270.5,398.5 270.5,400.5 270.4,401.6 270.5,403.5 270.5,404.5 270.5,405.6 270.5,406.5 270.5,407.4 270.5,408.4 270.4,409.6 270.5,411.5 270.5,412.6 270.4,417.4 271.5,369.5 271.6,374.5 271.5,376.5 271.5,379.5 271.5,380.5 271.5,381.4 271.5,382.5 271.5,383.6 271.5,384.5 271.5,385.5 271.5,386.5 271.5,387.4 271.5,388.5 271.5,389.5 271.5,393.6 271.5,394.5 271.6,396.5 271.5,397.6 271.5,398.5 271.6,399.4 271.4,400.5 271.6,402.5 271.5,404.5 271.5,405.6 271.5,406.5 271.6,410.6 272.6,373.5 272.4,376.6 272.5,377.4 272.5,378.6 272.6,380.5 272.4,382.6 272.5,383.5 272.5,385.5 272.4,386.6 272.4,387.4 272.5,389.5 272.5,390.4 272.5,391.5 272.6,392.5 272.4,393.5 272.4,394.4 272.5,395.4 272.4,396.5 272.5,398.5 272.4,399.5 272.5,400.5 272.4,401.5 272.4,404.6 273.5,363.4 273.6,368.5 273.6,369.6 273.4,371.6 273.5,372.5 273.5,373.5 273.5,374.5 273.5,375.4 273.5,376.5 273.5,377.4 273.5,378.5 273.5,379.5 273.4,380.6 273.5,381.5 273.5,383.5 273.6,384.4 273.5,385.6 273.5,386.5 273.6,387.6 273.5,388.5 273.6,389.6 273.5,390.6 273.5,391.5 273.5,392.6 273.5,393.5 273.5,396.6 273.4,398.5 273.6,400.5 273.5,401.4 274.5,373.6 274.5,377.5 274.5,380.6 274.5,381.5 274.5,382.5 274.6,385.5 274.5,386.6 274.4,387.5 274.5,390.6 274.6,391.5 274.5,392.5 274.6,394.4 274.5,401.5 274.5,402.4 274.5,403.4 275.5,371.5 275.6,373.5 275.5,375.5 275.4,377.5 275.5,378.5 275.4,379.6 275.5,380.4 275.5,381.5 275.6,383.4 275.5,384.5 275.5,385.5 275.5,386.6 275.4,387.4 275.5,388.5 275.5,389.5 275.5,390.4 275.5,391.5 275.5,396.4 275.5,397.6 275.5,399.5 276.5,370.5 276.5,372.5 276.5,375.6 276.6,377.4 276.5,380.4 276.6,383.5 276.5,384.5 276.5,385.5 276.5,386.4 276.4,387.4 276.5,388.5 276.4,389.5 276.5,390.5 276.6,391.4 276.5,393.5 276.4,394.5 276.5,395.5 276.4,396.4 277.6,377.6 277.6,380.5 277.5,382.5 277.5,389.5 277.6,391.6 277.6,394.6 278.5,381.5 278.5,382.6 278.4,383.5 278.4,384.5 278.5,385.5 278.5,390.5 278.5,391.5 278.5,392.6 278.5,393.5 278.4,394.6 278.5,395.6 278.5,396.5 278.4,397.5 278.5,398.6 278.5,399.4 278.5,400.5 278.5,401.6 278.5,402.6 278.5,403.5 278.6,404.5 278.4,405.5 278.5,406.5 278.5,410.5 278.5,411.4 278.4,413.5 278.4,414.5 279.6,385.5 279.5,391.5 279.5,392.5 279.5,393.5 279.5,394.6 279.4,395.5 279.5,401.6 279.5,406.5 279.5,408.5 279.5,410.5 279.6,413.6 279.5,415.5 279.4,416.6 280.6,389.5 280.4,391.6 280.6,394.4 280.5,395.5 280.4,396.5 280.5,399.5 280.5,402.5 280.5,403.5 280.5,404.5 280.5,405.6 280.5,406.5 280.5,408.5 280.5,409.5 280.5,412.5 280.6,414.5 280.6,417.5 280.4,418.4 280.5,419.5 280.6,420.5 280.5,421.5 280.6,422.6 280.4,426.4 281.5,386.5 281.5,387.5 281.4,388.5 281.5,392.5 281.4,395.5 281.4,399.5 281.5,400.5 281.5,402.5 281.4,405.6 281.5,406.4 281.5,408.4 281.5,410.5 281.4,413.5 281.5,414.6 281.5,417.6 281.6,419.6 281.4,422.6 282.6,384.4 282.5,386.5 282.6,389.4 282.5,391.5 282.4,392.4 282.6,393.4 282.5,394.5 282.5,395.5 282.6,397.5 282.5,398.5 282.5,399.4 282.5,400.4 282.6,401.5 282.5,403.6 282.5,404.5 282.5,406.5 282.6,407.5 282.5,408.5 282.5,409.4 282.6,410.5 282.5,411.4 282.5,412.5 282.4,413.5 282.5,414.6 282.5,416.4 282.5,417.4 282.6,418.5 282.5,420.4 282.4,422.6 282.5,424.6 282.5,427.4 283.5,384.4 283.5,386.5 283.5,387.4 283.6,389.4 283.5,390.6 283.5,392.5 283.5,393.6 283.5,394.4 283.5,398.5 283.5,399.5 283.5,401.5 283.5,402.5 283.6,403.5 283.6,404.5 283.5,406.5 283.5,407.6 283.5,408.5 283.5,411.5 283.4,412.6 283.5,413.5 283.5,416.4 283.5,417.6 283.4,419.5 283.4,420.5 283.5,421.5 283.5,422.4 283.4,423.5 283.5,424.5 283.5,425.5 283.5,426.5 283.5,427.4 283.4,428.5 283.5,430.4 284.5,385.5 284.5,388.5 284.5,393.5 284.5,394.5 284.5,395.5 284.4,397.5 284.5,398.5 284.4,399.5 284.5,402.5 284.4,403.4 284.6,404.5 284.4,405.4 284.6,406.5 284.4,407.4 284.5,408.5 284.5,409.5 284.5,410.5 284.6,411.5 284.5,412.4 284.4,413.5 284.5,414.5 284.5,415.5 284.5,416.5 284.6,417.5 284.4,418.5 284.5,419.5 284.4,420.5 284.6,421.6 284.5,423.5 284.5,424.5 284.6,425.5 284.5,426.5 284.5,427.5 284.5,428.5 284.5,429.5 284.5,430.4 284.5,433.4 285.6,392.6 285.5,393.4 285.5,395.5 285.4,396.5 285.5,398.5 285.5,404.5 285.6,405.5 285.4,407.5 285.5,408.5 285.5,409.6 285.4,410.5 285.5,411.5 285.6,430.5 286.5,388.4 286.5,389.5 286.5,391.6 286.6,392.6 286.6,393.6 286.5,394.4 286.5,396.5 286.5,397.5 286.5,398.5 286.5,400.5 286.5,401.5 286.4,402.6 286.5,404.6 286.5,405.5 286.6,406.6 286.5,407.4 286.5,410.4 286.6,411.6 286.6,412.5 286.5,413.6 286.4,414.5 286.5,415.5 286.4,416.6 286.4,419.4 286.5,420.6 286.5,422.6 286.5,423.5 286.5,424.5 286.5,425.6 287.4,391.4 287.5,392.5 287.5,394.6 287.5,407.5 287.5,408.4 287.5,411.5 287.5,414.5 288.4,383.5 288.5,395.4 288.5,396.5 288.5,401.6 288.5,402.5 288.5,404.5 289.4,381.4 289.5,383.5 289.5,385.6 289.5,386.4 289.6,387.5 289.6,389.5 289.5,391.5 289.5,392.5 290.5,379.5 290.5,380.6 290.5,381.4 290.5,384.4 290.5,385.6 290.6,386.6 290.4,387.5 290.6,388.5 290.4,390.4 290.5,391.4 290.5,393.6 290.5,395.5 290.4,396.4 290.5,397.5 290.6,398.5 290.5,399.5 291.5,380.4 291.6,382.5 291.5,383.5 291.5,386.5 291.5,388.5 291.4,390.4 291.5,391.5 291.5,392.5 291.6,393.6 291.5,394.5 291.5,395.5 291.5,396.5 291.4,397.5 291.5,398.4 291.5,399.6 291.5,401.5 291.6,403.5 291.5,404.4 291.5,406.5 292.6,383.5 292.6,387.5 292.4,388.5 292.4,390.4 292.4,392.5 292.4,394.6 292.4,397.5 293.5,376.5 293.5,377.5 293.6,379.5 293.4,381.5 293.5,382.5 293.5,383.4 293.6,384.5 293.5,385.5 293.6,387.5 293.5,388.5 293.6,391.5 293.4,394.5 293.5,395.5 293.4,400.6 293.5,401.5 294.5,383.4 294.6,384.6 294.4,385.4 294.5,388.5 294.5,389.5 294.5,391.5 294.6,393.4 294.4,394.4 294.5,395.4 294.5,396.5 294.6,397.5 294.5,398.5 294.5,399.5 294.4,400.6 294.5,401.5 295.5,380.6 295.5,385.5 295.6,386.5 295.4,389.5 295.5,390.4 295.4,391.5 295.5,393.4 295.6,394.6 295.6,395.5 295.5,397.4 296.5,378.5 296.5,381.5 296.5,382.5 296.5,383.5 296.5,384.5 296.6,385.5 296.5,388.4 296.5,389.5 296.6,390.6 296.5,391.6 296.5,394.5 296.5,397.4 296.5,398.6 296.6,399.4 296.5,400.5 296.5,403.6 296.5,405.6 297.5,379.5 297.5,382.4 297.5,383.6 297.5,387.5 297.5,392.6 298.5,376.5 298.5,377.6 298.5,378.5 298.6,383.5 298.5,384.5 298.4,385.5 298.5,387.5 298.4,390.4 298.4,391.5 298.6,393.5 298.6,394.6 299.5,380.5 299.6,382.5 299.5,394.5 299.4,396.6 300.5,384.5 300.5,385.5 300.5,387.5 300.5,388.6 300.4,391.5 300.5,393.5 300.5,394.5 300.5,395.5 300.5,396.5 300.6,398.6 300.6,399.5 300.5,400.5 300.5,401.4 300.5,402.5 301.4,380.5 301.5,381.5 301.5,383.6 301.4,384.4 301.4,385.5 301.5,386.5 301.6,388.5 301.6,389.4 301.4,390.5 301.4,391.4 301.5,393.5 301.5,395.6 301.5,396.5 301.5,398.5 301.4,399.5 301.5,400.5 301.5,401.5 301.4,403.5 301.6,407.4 302.6,382.5 302.6,383.5 302.5,384.5 302.6,385.4 302.5,386.4 302.5,388.4 302.6,389.5 302.5,390.5 302.5,391.4 302.4,392.5 302.6,397.5 302.5,399.4 302.5,402.5 302.6,406.5 302.6,407.4 302.6,408.5 302.5,409.5 302.5,410.5 302.4,411.4 302.5,412.4 302.6,415.5 302.5,416.5 302.4,418.6 303.6,387.4 303.4,388.6 303.5,389.5 303.4,390.5 303.5,391.5 303.5,392.6 303.5,393.6 303.6,394.5 303.5,395.5 303.6,396.5 303.5,397.6 303.5,398.5 303.4,399.4 303.5,401.5 303.6,402.5 303.5,403.5 303.5,404.5 303.5,405.5 303.5,406.6 303.4,407.5 303.5,408.5 303.4,409.5 303.5,410.6 303.6,411.5 303.5,412.4 303.4,413.4 303.5,415.5 303.5,416.5 303.5,417.5 303.4,419.5 303.5,423.4 303.5,424.5 304.5,375.4 304.5,377.5 304.6,381.5 304.5,382.4 304.6,384.5 304.4,385.5 304.6,386.5 304.5,388.4 304.4,389.5 304.5,393.6 304.5,394.4 304.5,395.4 304.5,396.4 304.5,399.5 304.5,401.4 304.5,402.6 304.5,404.5 304.5,405.5 304.5,406.5 304.6,407.5 304.5,408.6 304.5,410.5 304.5,412.4 304.5,413.4 305.4,384.5 305.5,385.4 305.5,387.4 305.5,388.5 305.4,389.6 305.5,391.5 305.5,392.5 305.6,393.4 305.4,394.6 305.6,396.4 305.4,399.6 306.5,381.5 306.5,383.5 306.5,384.6 306.5,385.4 306.5,387.4 306.6,389.5 306.5,390.6 306.5,391.5 306.6,392.5 306.4,394.4 306.5,396.4 306.5,398.5 306.5,400.6 307.5,383.4 307.6,386.6 307.5,387.5 307.6,388.4 307.4,390.5 307.6,391.5 307.5,392.5 307.5,394.5 307.5,395.6 307.5,397.4 307.5,398.5 307.5,399.5 307.6,401.5 308.5,379.6 308.5,380.4 308.5,382.5 308.5,383.4 308.4,386.5 308.5,387.5 308.4,388.5 308.5,389.5 308.4,390.5 308.4,391.5 308.4,392.5 308.5,393.5 308.5,394.4 308.6,396.5 308.4,397.5 308.5,399.5 308.6,401.5 309.5,382.6 309.6,383.6 309.5,384.4 309.4,385.4 309.5,388.5 309.6,389.5 309.5,391.5 309.5,393.5 309.6,394.5 309.5,397.6 309.4,400.5 309.6,405.5 309.5,407.5 310.5,376.5 310.5,378.4 310.5,379.5 310.6,381.5 310.5,382.4 310.4,383.4 310.5,384.5 310.5,386.5 310.6,388.4 310.5,389.6 310.5,390.5 310.5,392.5 310.6,393.5 310.4,394.5 310.4,395.5 310.6,399.6 310.5,400.5 310.5,401.4 310.5,403.6 310.5,404.5 310.4,405.6 310.4,406.4 311.5,378.5 311.6,379.4 311.5,381.5 311.6,382.6 311.5,384.4 311.5,385.5 311.5,386.5 311.4,387.5 311.4,388.5 311.5,389.5 311.5,390.5 311.6,391.5 311.5,393.5 311.5,394.4 311.5,395.5 311.6,396.5 311.5,397.5 311.6,398.6 311.6,400.4 311.5,401.5 311.5,402.6 311.5,403.6 311.4,404.5 311.4,405.5 311.5,406.6 311.5,407.6 311.5,408.5 311.5,409.5 311.5,410.5 311.5,411.4 311.5,413.5 312.5,376.5 312.5,378.5 312.5,379.6 312.6,381.5 312.6,389.5 312.4,390.6 312.5,398.6 312.5,401.6 312.5,403.5 312.4,404.6 312.4,405.5 312.6,406.5 312.4,409.5 312.6,411.5 312.5,413.5 312.4,414.5 312.4,415.5 312.5,421.6 312.4,423.4 312.6,424.5 312.5,427.6 313.4,373.4 313.6,378.5 313.5,379.5 313.5,380.6 313.6,382.5 313.5,383.5 313.6,384.5 313.5,386.5 313.4,387.4 313.4,388.5 313.5,389.6 313.4,390.4 313.5,391.5 313.5,392.6 313.6,395.5 313.5,396.6 313.6,397.5 313.4,398.4 313.5,399.5 313.6,400.5 313.5,401.5 313.5,402.5 313.5,403.5 313.4,404.5 313.4,405.4 313.5,407.4 313.4,408.4 313.5,409.5 313.5,410.6 313.6,412.5 313.5,414.6 313.5,416.4 313.6,417.5 313.6,418.5 313.5,419.5 313.5,420.4 313.4,421.5 313.5,422.4 313.6,423.4 313.5,424.5 313.6,425.4 313.4,426.5 313.5,427.5 313.6,428.5 313.5,431.5 313.6,436.5 314.4,381.4 314.4,387.5 314.5,388.4 314.4,389.5 314.5,390.5 314.5,394.5 314.5,397.5 314.4,399.5 314.6,401.6 314.4,402.6 314.5,403.4 314.6,404.6 314.5,405.5 314.6,407.4 314.4,408.5 314.6,412.5 314.5,414.5 314.4,416.5 314.5,417.5 314.6,420.5 314.5,423.5 314.5,425.6 314.6,427.5 314.5,428.5 314.5,429.4 314.5,430.4 314.4,431.5 314.4,432.5 314.5,434.5 314.5,436.5 315.5,388.5 315.6,391.5 315.4,394.4 315.5,396.4 315.5,397.5 315.5,400.5 315.5,401.5 315.5,403.5 315.4,404.5 315.6,405.5 315.6,406.6 315.4,407.6 315.5,409.6 315.4,410.4 315.6,412.5 315.6,413.5 315.5,414.5 315.5,416.4 315.4,417.6 315.4,418.5 315.5,419.5 315.5,420.5 315.5,421.4 315.5,422.4 315.6,423.5 315.5,424.4 315.5,425.5 315.5,426.4 315.5,427.5 315.5,428.6 315.6,430.4 315.5,434.4 315.5,435.5 316.6,385.4 316.6,386.5 316.5,390.5 316.5,391.5 316.5,395.6 316.4,396.5 316.5,397.4 316.5,398.6 316.4,401.5 316.5,402.5 316.5,406.5 316.4,407.4 316.5,408.5 316.5,409.5 316.5,410.5 316.5,412.5 316.5,413.5 316.6,414.5 316.4,415.6 316.6,417.5 316.5,418.4 316.5,419.5 316.4,420.5 316.5,421.5 316.6,422.5 316.5,424.4 316.6,427.5 316.6,429.5 316.5,430.5 316.4,432.5 316.6,434.5 316.5,435.5 316.4,438.5 317.6,389.5 317.5,395.4 317.5,396.6 317.5,401.5 317.5,406.6 317.4,407.5 317.5,412.5 317.5,414.6 317.5,416.4 317.4,420.6 317.5,423.5 317.5,426.4 317.5,430.5 317.5,433.4 317.4,436.5 318.5,384.5 318.6,386.5 318.6,389.6 318.4,394.4 318.4,395.5 318.4,396.4 318.6,397.5 318.6,401.5 318.5,403.5 318.4,405.5 318.6,407.5 318.5,410.5 318.6,413.4 318.5,416.6 318.5,418.5 319.4,379.6 319.5,384.6 319.6,385.4 319.4,386.5 319.5,387.6 319.6,388.5 319.5,389.6 319.6,391.6 319.5,393.6 319.5,394.4 319.4,395.5 319.5,396.4 319.6,397.6 319.5,400.5 319.5,402.5 319.6,404.5 319.5,407.5 320.5,374.5 320.6,378.5 320.6,379.6 320.6,380.4 320.4,382.5 320.6,384.5 320.5,385.5 320.5,390.5 320.6,391.4 320.4,392.5 320.6,394.5 320.4,396.5 320.5,397.4 320.5,398.5 320.5,399.5 320.4,402.4 320.5,403.5 321.6,377.5 321.5,379.4 321.5,380.6 321.5,383.5 321.5,384.5 321.6,385.5 321.6,388.6 321.4,389.5 321.4,393.5 321.4,394.6 321.5,395.6 321.6,396.5 321.5,397.5 321.4,398.5 321.6,400.6 321.5,401.5 321.5,402.5 321.5,403.6 321.4,404.5 321.5,405.4 321.4,407.6 322.5,371.5 322.5,374.6 322.5,375.5 322.5,377.5 322.5,379.5 322.5,380.5 322.5,383.5 322.4,384.4 322.4,385.4 322.5,386.6 322.5,387.5 322.5,388.5 322.5,389.5 322.6,391.5 322.5,394.6 322.4,396.4 322.5,397.5 322.5,398.5 322.5,400.5 322.5,404.4 323.4,372.5 323.5,374.5 323.6,375.5 323.5,376.4 323.5,377.5 323.6,378.5 323.4,382.6 323.5,383.5 323.5,385.6 323.5,386.6 323.5,387.6 323.5,388.4 323.5,390.5 323.6,392.5 323.5,393.5 323.5,395.5 323.5,396.4 323.4,397.5 323.5,398.5 323.4,399.4 323.6,400.5 323.6,402.6 323.5,403.5 323.4,404.5 323.4,405.6 324.5,368.4 324.6,369.6 324.5,370.4 324.6,371.6 324.5,372.5 324.5,373.5 324.5,374.5 324.5,375.4 324.5,378.4 324.6,380.5 324.5,381.4 324.6,382.5 324.5,384.5 324.5,386.5 324.5,389.5 324.4,390.5 324.5,391.4 324.5,393.5 324.6,395.5 324.5,396.5 324.5,397.4 324.4,398.4 324.5,399.6 324.5,401.4 325.5,367.4 325.5,371.5 325.6,372.5 325.5,373.5 325.6,374.5 325.5,377.5 325.5,379.5 325.5,380.6 325.5,381.5 325.5,382.5 325.6,383.5 325.5,385.4 325.4,388.4 325.6,389.6 325.5,391.5 325.5,392.5 325.5,394.5 325.5,395.6 325.5,398.5 325.5,399.6 326.5,365.4 326.5,366.5 326.5,368.5 326.5,370.4 326.5,372.6 326.4,374.4 326.5,375.5 326.5,376.5 326.6,377.6 326.5,379.4 326.5,380.4 326.6,382.4 326.4,383.6 326.5,384.4 326.4,385.5 326.5,386.4 326.4,387.5 326.6,389.5 326.5,390.6 326.5,391.4 326.5,392.4 327.5,368.5 327.4,371.5 327.5,372.6 327.5,374.5 327.5,376.5 327.5,378.4 327.5,379.4 327.5,384.5 327.6,385.4 327.4,392.5 327.6,393.5 327.5,398.5 328.5,361.4 328.4,367.6 328.5,369.5 328.5,370.5 328.5,371.6 328.6,372.5 328.6,374.6 328.5,375.5 328.4,376.5 328.5,377.5 328.5,378.5 328.5,380.6 328.5,382.4 328.4,384.5 328.5,385.5 328.5,386.5 328.6,387.5 328.4,388.4 328.4,390.5 328.5,392.6 329.6,363.4 329.5,367.5 329.5,368.5 329.5,369.6 329.5,371.6 329.4,373.5 329.5,374.5 329.5,375.6 329.5,378.5 329.5,380.6 329.4,381.5 329.5,382.5 329.6,385.6 329.6,386.5 329.6,387.6 329.6,388.4 329.4,389.4 329.4,390.4 329.5,391.5 329.5,392.6 329.5,394.6 329.5,396.4 329.4,399.5 329.5,400.4 330.5,371.5 330.5,374.6 330.4,377.5 330.4,383.5 330.5,387.5 330.5,390.5 330.5,391.5 330.5,392.4 330.4,394.4 330.6,395.5 330.5,396.5 331.5,364.5 331.5,371.6 331.5,372.4 331.6,373.5 331.6,379.5 331.4,382.5 331.5,383.5 331.6,384.4 331.5,385.5 331.4,386.5 331.4,390.5 331.5,391.5 331.6,392.5 331.6,394.6 331.5,395.5 331.6,398.5 332.4,362.4 332.4,366.5 332.6,367.5 332.4,368.4 332.5,370.5 332.5,371.5 332.6,372.4 332.5,374.5 332.4,375.5 332.5,377.5 332.5,378.6 332.5,379.6 332.4,380.5 332.5,381.5 332.5,382.5 332.5,383.4 332.4,384.6 332.5,386.5 332.5,388.5 332.6,389.5 332.4,391.5 332.6,392.5 332.5,393.5 332.4,394.5 332.5,397.5 333.5,361.5 333.6,363.5 333.4,364.5 333.6,367.5 333.5,369.6 333.5,370.5 333.5,372.5 333.5,373.5 333.4,374.5 333.5,375.5 333.6,377.5 333.6,381.4 333.5,383.5 333.5,388.5 333.5,390.4 333.5,391.5 333.6,392.4 333.5,394.5 333.5,395.5 334.4,362.6 334.4,364.5 334.5,365.6 334.6,367.4 334.5,369.6 334.5,371.6 334.6,372.5 334.6,373.5 334.5,374.5 334.5,382.5 334.5,384.6 334.5,388.4 334.5,391.5 334.5,392.5 334.5,394.5 334.4,396.5 335.5,365.6 335.4,366.5 335.6,367.5 335.5,368.6 335.5,373.5 335.6,374.5 335.5,377.5 335.5,384.5 335.5,395.5 336.5,357.4 336.6,358.5 336.4,364.6 336.5,369.5 336.4,372.5 336.6,373.4 336.6,374.5 336.6,377.5 336.4,380.5 336.6,381.6 336.5,383.4 336.6,387.5 336.5,388.6 336.5,389.5 336.4,390.5 336.6,391.5 336.4,392.4 336.5,393.4 336.5,394.5 336.4,397.5 336.5,398.4 336.5,400.5 337.5,360.5 337.4,363.5 337.5,365.6 337.5,366.5 337.5,367.6 337.5,369.5 337.5,370.4 337.5,372.6 337.5,373.5 337.6,374.5 337.5,376.5 337.6,381.5 337.4,382.5 337.5,383.5 337.4,384.5 337.5,387.5 337.5,393.6 338.6,369.5 338.4,371.4 338.5,372.5 338.5,377.5 338.6,378.6 338.5,380.4 338.5,382.6 338.5,383.5 338.5,385.5 338.5,386.6 338.6,388.4 338.5,389.5 339.5,365.4 339.6,369.5 339.5,370.5 339.5,373.6 339.5,375.6 339.4,376.5 339.5,377.4 339.5,379.5 339.4,380.5 339.5,381.4 339.5,385.5 339.4,386.6 339.5,387.5 339.5,389.4 339.6,390.5 339.6,394.5 340.5,362.4 340.5,364.5 340.5,366.6 340.5,367.6 340.5,370.5 340.5,372.5 340.5,373.4 340.5,374.5 340.5,375.6 340.5,376.5 340.6,377.4 340.5,378.5 340.5,379.5 340.4,381.5 340.5,382.5 340.5,383.5 340.5,384.4 340.5,385.5 340.5,386.6 340.4,387.5 340.5,390.6 341.5,362.5 341.4,363.5 341.5,364.6 341.5,365.4 341.5,366.5 341.4,368.4 341.5,370.5 341.6,371.6 341.4,373.5 341.5,374.5 341.5,377.4 341.5,378.4 341.4,379.6 341.5,385.4 341.5,386.4 341.5,387.5 341.4,389.5 341.5,390.5 341.4,392.5 341.4,394.4 341.5,396.4 342.5,357.6 342.5,358.5 342.4,360.6 342.5,362.6 342.5,363.5 342.4,366.4 342.5,367.5 342.5,369.5 342.5,371.5 342.5,372.5 342.5,374.6 342.5,375.5 342.5,377.5 342.6,378.5 342.5,379.4 342.5,380.4 342.5,382.4 342.5,383.5 342.5,384.6 342.5,388.5 342.5,389.5 342.5,390.5 342.4,391.5 342.4,392.6 342.4,394.4 342.4,396.5 343.5,357.5 343.6,358.5 343.5,361.4 343.6,362.6 343.5,363.5 343.5,364.6 343.6,365.6 343.5,367.4 343.5,369.6 343.4,372.5 343.5,373.5 343.6,374.4 343.5,376.5 343.5,377.5 343.6,379.5 343.5,380.5 343.5,382.6 343.6,383.5 343.5,384.4 343.5,385.4 343.5,386.6 343.5,387.4 343.4,388.4 343.4,389.6 343.4,390.4 343.5,391.5 343.5,392.5 343.4,393.6 343.6,394.6 343.4,396.5 343.6,398.5 344.6,356.4 344.5,357.6 344.5,359.5 344.5,360.6 344.5,361.4 344.4,362.5 344.5,364.5 344.4,367.5 344.5,373.5 344.6,374.5 344.5,375.4 344.5,377.5 344.5,380.4 344.5,381.5 344.5,382.6 344.4,384.5 344.4,385.5 344.5,387.5 344.5,388.5 344.4,390.6 344.5,391.5 344.4,393.5 344.5,394.6 344.5,395.5 344.6,397.6 344.5,398.4 344.5,402.6 344.5,403.5 344.5,406.5 345.5,364.5 345.5,369.4 345.5,370.4 345.5,371.4 345.4,373.4 345.6,375.6 345.5,377.6 345.5,379.4 345.4,380.5 345.5,381.5 345.6,383.5 345.5,384.4 345.4,386.6 345.5,387.6 345.5,389.5 345.4,391.5 345.4,392.5 345.5,393.5 345.5,394.5 345.5,395.4 345.6,396.6 345.5,397.5 345.6,398.4 345.5,399.5 345.5,400.5 345.5,401.5 345.5,403.6 345.5,406.5 345.5,407.4 345.6,408.5 345.5,409.5 345.5,410.4 345.5,411.6 345.5,412.5 345.5,413.5 345.6,414.5 345.5,415.5 345.5,416.5 345.5,417.5 346.6,366.5 346.5,367.5 346.6,369.5 346.4,371.5 346.5,372.5 346.5,373.5 346.5,374.6 346.5,375.5 346.6,377.5 346.5,379.6 346.5,381.4 346.5,382.5 346.5,383.5 346.5,384.5 346.5,385.5 346.5,389.6 346.5,391.5 346.5,392.5 346.6,393.6 346.5,394.6 346.6,395.5 346.5,396.5 346.5,398.5 346.5,399.5 346.5,402.5 346.6,403.5 346.5,404.5 346.6,406.5 346.4,407.4 346.4,409.4 346.4,410.4 346.4,411.6 346.6,412.4 346.5,414.5 346.4,415.5 346.5,416.5 346.5,417.5 346.6,419.4 346.4,420.5 346.4,423.5 346.4,427.5 346.5,428.4 346.5,429.5 347.5,377.6 347.5,378.5 347.5,381.5 347.5,383.6 347.6,384.5 347.5,385.4 347.5,387.5 347.6,390.6 347.6,392.4 347.5,393.5 347.6,396.4 347.5,397.6 347.4,400.4 347.4,402.5 347.5,403.6 347.5,405.5 347.6,407.4 347.4,409.5 347.4,410.5 347.6,414.4 347.6,415.4 347.5,416.5 347.5,420.6 347.5,421.5 347.5,422.5 347.4,423.6 348.5,392.5 348.5,395.5 348.4,397.5 348.5,411.5 348.4,412.5 348.4,415.4 348.6,419.6 349.5,375.4 349.5,378.6 349.5,379.4 349.5,380.4 349.5,381.5 349.5,384.5 349.5,385.5 349.6,389.4 349.5,390.5 349.6,393.5 349.5,395.5 349.5,396.6 349.5,398.4 349.5,399.5 349.5,400.5 349.5,404.5 349.5,406.5 349.5,407.6 349.4,409.5 349.4,413.5 350.4,370.4 350.4,374.5 350.6,377.4 350.4,378.5 350.5,380.5 350.5,381.4 350.4,385.4 350.5,389.4 350.5,393.6 350.4,396.4 350.5,397.5 350.5,398.4 350.4,401.5 350.5,403.5 350.5,405.4 350.4,407.6 350.5,410.4 351.6,369.5 351.5,371.5 351.5,374.6 351.6,375.5 351.5,376.5 351.5,377.5 351.5,378.5 351.5,379.6 351.5,380.5 351.6,385.5 351.5,387.5 351.5,388.5 351.5,390.5 351.5,391.5 351.5,395.6 351.4,406.5 352.5,371.5 352.5,374.5 352.5,376.5 352.5,381.5 352.6,384.4 352.4,385.5 352.6,386.4 352.5,389.5 352.6,393.5 352.6,394.5 352.5,398.4 352.5,400.5 353.5,364.6 353.5,365.5 353.5,367.6 353.4,370.4 353.5,371.5 353.4,372.5 353.5,373.5 353.5,374.5 353.5,375.5 353.5,378.5 353.5,379.5 353.4,380.6 353.4,381.5 353.6,382.5 353.5,383.5 353.6,384.5 353.5,386.4 353.6,389.5 353.5,392.5 353.6,393.6 353.5,394.5 353.5,396.6 353.4,397.5 353.5,400.5 354.4,364.4 354.6,369.5 354.5,370.4 354.5,373.5 354.6,374.5 354.4,375.5 354.4,376.5 354.5,377.5 354.5,379.4 354.4,380.4 354.5,381.6 354.5,382.5 354.6,383.6 354.6,385.5 354.5,387.4 354.6,389.4 354.5,390.5 354.5,395.5 354.5,396.4 354.5,398.5 354.5,399.5 355.6,369.5 355.5,370.5 355.4,373.4 355.5,374.5 355.6,375.6 355.6,376.4 355.6,377.6 355.4,378.4 355.4,379.5 355.6,381.5 355.5,382.4 355.5,383.5 355.5,385.6 355.5,386.4 355.5,389.6 355.4,390.4 355.5,391.5 355.5,392.6 355.5,394.6 356.5,363.5 356.6,365.5 356.4,367.5 356.5,368.5 356.5,369.5 356.5,373.5 356.5,374.4 356.5,375.5 356.4,378.4 356.5,379.5 356.4,381.6 356.5,383.4 356.4,384.4 356.5,385.5 356.6,386.4 356.6,389.4 356.4,390.5 356.6,391.5 356.5,394.5 357.5,358.6 357.5,359.4 357.5,360.4 357.5,362.6 357.6,364.6 357.4,365.4 357.4,367.5 357.5,371.5 357.4,373.4 357.5,376.5 357.5,377.4 357.6,379.4 357.5,380.6 357.6,381.6 357.5,383.6 357.5,386.5 357.4,387.6 357.5,388.5 357.6,391.5 358.4,358.5 358.5,360.5 358.6,366.6 358.4,369.6 358.5,370.5 358.5,372.5 358.5,373.4 358.6,374.5 358.4,376.6 358.5,377.5 358.4,378.5 358.5,381.5 358.4,382.5 358.5,383.5 358.5,385.5 358.6,387.4 359.4,363.6 359.6,365.6 359.5,366.5 359.6,368.6 359.5,369.5 359.5,371.5 359.5,372.4 359.5,373.6 359.6,375.5 359.4,376.4 359.5,378.5 359.5,389.5 359.4,390.4 359.6,393.5 359.5,395.4 360.5,354.5 360.5,357.6 360.5,358.5 360.5,360.4 360.6,361.5 360.5,362.6 360.5,364.5 360.4,366.5 360.5,368.5 360.6,369.4 360.4,370.5 360.5,373.5 360.5,374.5 360.5,375.5 360.5,376.4 360.6,378.5 360.5,379.6 360.5,380.5 360.6,381.5 360.6,382.5 360.5,383.6 360.5,387.5 360.6,388.4 360.4,389.5 360.6,390.6 360.5,391.5 360.5,396.5 361.5,356.6 361.5,361.5 361.5,363.5 361.4,365.6 361.5,367.5 361.6,370.5 361.5,371.5 361.6,373.5 361.4,374.5 361.5,375.5 361.5,376.6 361.5,377.5 361.6,378.4 361.6,379.5 361.5,380.4 361.5,381.5 361.4,383.5 361.6,384.5 361.6,386.5 362.5,361.5 362.6,363.5 362.6,365.5 362.4,366.6 362.6,368.4 362.6,369.6 362.4,375.4 362.5,376.6 362.5,377.5 362.4,380.5 362.5,381.6 362.5,382.5 362.5,383.5 362.5,385.5 362.6,386.5 362.6,387.5 362.5,388.5 362.5,389.5 362.4,391.5 363.5,359.5 363.5,362.5 363.6,363.6 363.4,364.5 363.5,369.5 363.5,370.4 363.5,371.5 363.5,372.4 363.5,374.5 363.6,375.6 363.5,376.5 363.6,379.5 363.5,380.5 363.4,381.4 363.5,382.6 363.5,383.5 363.5,386.5 363.5,387.5 363.5,388.5 364.5,360.4 364.6,361.5 364.6,362.5 364.5,363.5 364.5,364.5 364.5,365.5 364.5,366.5 364.6,368.5 364.5,370.5 364.6,371.6 364.5,373.6 364.5,374.5 364.4,378.5 364.5,382.5 364.5,383.4 364.5,384.5 364.6,386.5 364.6,387.5 364.6,389.6 365.5,361.4 365.5,363.5 365.5,365.5 365.5,367.5 365.5,371.5 365.5,372.5 365.5,374.5 365.5,376.5 365.5,377.5 365.6,380.5 365.4,382.5 365.5,385.5 365.5,389.5 365.5,395.6 366.5,362.6 366.6,363.6 366.6,366.5 366.6,367.5 366.6,368.5 366.5,369.5 366.5,370.5 366.5,371.5 366.4,374.5 366.5,376.5 366.5,377.4 366.5,378.6 366.6,379.5 366.4,385.6 366.6,386.6 366.5,389.6 366.6,393.6 366.6,394.4 366.5,396.4 367.5,365.5 367.5,366.6 367.5,368.5 367.5,369.5 367.6,370.5 367.5,371.5 367.5,372.4 367.5,373.5 367.5,374.5 367.5,376.5 367.5,377.5 367.5,378.4 367.6,380.5 367.5,381.5 367.5,383.4 367.5,384.4 367.5,385.6 367.5,386.6 368.4,364.5 368.5,368.5 368.5,369.5 368.5,373.5 368.5,374.5 368.5,375.5 368.6,377.5 368.5,378.5 368.6,380.5 368.4,381.5 368.4,382.5 368.5,383.5 369.5,361.5 369.5,363.6 369.6,365.5 369.5,366.6 369.4,367.6 369.5,369.5 369.5,372.6 369.5,373.5 369.5,374.5 369.5,376.5 369.5,379.5 369.4,380.4 369.6,381.5 369.5,385.5 369.5,387.6 370.5,359.6 370.4,360.4 370.6,361.5 370.6,363.5 370.5,365.5 370.4,366.5 370.5,369.5 370.6,370.5 370.5,372.6 370.4,376.5 370.5,377.6 370.6,379.6 370.5,380.6 370.6,383.4 370.4,384.4 371.5,358.5 371.5,359.4 371.4,363.5 371.6,364.5 371.4,365.5 371.6,366.5 371.6,367.4 371.6,368.6 371.5,369.5 371.4,370.5 371.4,372.4 371.5,374.5 371.5,375.5 371.5,376.5 371.4,378.5 371.5,379.6 371.5,380.6 371.5,383.4 371.4,384.5 371.5,386.6 372.4,360.5 372.5,365.5 372.5,366.4 372.5,367.5 372.5,368.5 372.5,373.4 372.6,374.5 372.5,376.6 372.5,380.5 372.4,382.5 372.4,383.5 372.4,384.5 372.5,386.5 372.5,387.5 372.6,388.5 373.5,358.5 373.5,359.5 373.6,361.5 373.5,365.5 373.5,366.6 373.4,367.5 373.5,369.4 373.6,370.4 373.5,371.6 373.4,372.5 373.5,374.5 373.4,376.5 373.4,378.5 373.6,381.5 373.5,384.5 374.5,357.6 374.5,358.5 374.6,362.4 374.5,363.5 374.4,364.6 374.5,365.4 374.5,367.5 374.5,368.6 374.4,369.4 374.5,370.6 374.5,371.4 374.5,372.6 374.5,375.4 374.5,376.5 374.4,377.6 374.5,378.4 374.5,379.5 374.4,380.5 374.6,381.5 374.5,382.5 374.6,383.6 374.5,385.5 374.5,387.5 374.5,390.5 375.5,359.5 375.5,361.5 375.6,364.5 375.4,365.5 375.5,366.5 375.4,367.5 375.5,368.5 375.5,372.4 375.4,374.4 375.5,375.6 375.5,378.4 375.5,379.5 375.6,380.5 375.5,383.6 375.5,384.5 375.5,385.5 375.4,386.5 375.4,387.5 375.5,389.5 375.5,391.6 375.5,392.5 375.6,394.5 375.5,395.4 375.5,396.6 375.4,397.5 376.5,350.5 376.5,351.4 376.6,352.5 376.6,353.5 376.5,354.4 376.5,355.6 376.5,356.6 376.5,359.5 376.5,361.4 376.5,362.4 376.5,363.5 376.4,364.5 376.6,365.5 376.5,366.5 376.5,367.6 376.5,370.5 376.6,372.5 376.5,373.4 376.5,374.5 376.6,376.4 376.5,377.6 376.5,380.5 376.5,383.6 376.6,385.5 376.6,390.5 376.5,391.5 376.5,392.4 376.5,393.5 376.5,395.4 377.5,348.6 377.5,350.5 377.6,352.4 377.5,354.5 377.5,355.6 377.6,361.5 377.5,363.5 377.5,367.6 377.5,369.4 377.4,370.5 377.5,371.6 377.5,372.5 377.6,373.4 377.5,374.5 377.5,375.4 377.5,377.4 377.5,379.5 377.5,382.6 377.5,384.5 377.6,385.5 377.5,387.6 377.5,389.4 377.5,391.5 377.4,393.5 377.5,394.6 377.4,395.5 377.5,396.6 377.6,397.4 377.5,401.5 377.5,404.4 377.5,405.6 378.5,351.5 378.5,352.5 378.6,356.5 378.5,359.5 378.5,361.5 378.6,362.4 378.6,364.5 378.6,365.5 378.5,366.6 378.4,368.4 378.5,369.6 378.6,370.5 378.5,372.5 378.5,375.4 378.6,378.5 378.5,380.5 378.5,382.6 378.5,383.4 378.5,387.5 378.5,388.4 378.4,391.5 378.5,392.4 378.5,395.5 378.5,396.6 378.5,399.6 378.5,400.5 378.5,402.5 378.6,403.5 378.5,405.6 378.6,408.4 378.5,412.6 378.5,413.4 378.4,414.6 379.5,360.4 379.5,362.4 379.5,363.6 379.5,365.4 379.4,367.5 379.5,368.5 379.5,369.5 379.5,370.6 379.5,373.4 379.5,374.5 379.6,375.6 379.4,377.4 379.4,378.5 379.5,379.4 379.5,380.6 379.5,381.5 379.5,382.5 379.4,384.6 379.5,386.5 379.6,387.5 379.5,388.6 379.5,389.4 379.6,391.5 379.5,393.4 379.6,394.5 379.5,395.5 379.6,396.6 379.6,397.5 379.5,398.5 379.4,399.6 379.5,401.5 379.6,402.5 379.5,403.5 379.4,404.5 379.6,406.5 379.5,407.6 379.6,408.5 379.5,409.4 379.6,412.5 380.5,362.5 380.6,365.5 380.5,367.4 380.5,370.5 380.6,372.5 380.5,373.5 380.5,374.5 380.5,375.6 380.4,376.6 380.5,377.5 380.4,378.5 380.5,379.5 380.4,380.6 380.5,381.5 380.5,382.6 380.5,383.5 380.6,384.4 380.6,385.4 380.6,387.6 380.5,388.6 380.5,389.4 380.6,390.6 380.5,391.5 380.5,393.5 380.4,394.5 380.4,397.5 380.4,398.6 380.4,399.6 380.5,401.5 380.5,402.6 380.6,403.5 380.5,406.6 380.5,407.4 381.5,370.5 381.6,373.5 381.5,374.5 381.5,375.6 381.5,378.5 381.5,379.4 381.6,380.5 381.6,381.5 381.4,383.5 381.5,388.5 381.4,391.6 381.5,392.5 381.5,393.5 381.4,395.5 381.5,396.6 381.5,401.5 381.5,402.5 382.6,367.6 382.6,370.4 382.5,372.5 382.6,373.5 382.5,375.4 382.6,376.6 382.5,378.4 382.5,380.5 382.4,381.5 382.5,382.5 382.6,383.5 382.5,385.5 382.5,386.5 382.4,387.6 382.5,388.4 382.6,389.5 382.6,390.6 382.5,391.5 382.5,392.6 382.5,393.5 382.4,394.6 382.6,395.5 382.5,396.5 382.5,397.6 382.4,399.6 382.5,400.6 383.5,371.6 383.6,373.5 383.5,375.4 383.5,377.5 383.6,378.5 383.5,380.5 383.5,382.4 383.6,383.6 383.5,384.6 383.5,386.6 383.5,387.5 383.5,388.5 383.5,393.4 384.6,371.4 384.4,377.6 384.4,382.5 384.6,383.5 384.5,388.5 384.5,389.5 384.5,390.5 384.5,391.4 385.5,367.5 385.5,371.6 385.5,376.4 385.5,378.5 385.4,381.4 385.5,382.6 385.5,383.5 385.4,385.6 385.4,386.5 385.5,387.5 385.5,389.5 385.6,390.5 386.4,371.6 386.5,372.5 386.5,375.6 386.5,377.6 386.6,378.6 386.5,379.6 386.6,380.6 386.5,381.5 386.5,384.5 386.5,387.5 386.5,389.5 386.5,390.4 386.4,391.5 387.5,369.5 387.5,370.5 387.6,372.4 387.5,373.5 387.5,375.5 387.6,377.4 387.4,379.4 387.6,380.5 387.4,381.5 387.5,382.6 387.5,384.5 387.5,386.5 387.5,390.4 387.4,391.5 387.5,392.5 387.6,394.4 387.5,395.6 388.4,376.5 388.5,377.6 388.5,379.5 388.5,380.5 388.5,382.5 388.6,390.5 388.5,395.4 388.5,400.4 388.5,401.5 388.5,402.5 388.5,406.5 388.5,407.6 388.5,408.4 388.5,409.5 389.5,384.5 389.5,389.5 389.5,390.6 389.5,391.5 389.5,393.4 389.6,401.4 389.5,404.4 389.5,409.5 389.6,420.5 389.4,421.4 389.4,422.5 390.4,385.6 390.6,387.6 390.5,388.5 390.4,389.5 390.5,390.4 390.4,391.5 390.5,392.5 390.5,394.5 390.5,395.4 390.6,397.5 390.5,398.6 390.5,399.5 390.6,400.5 390.5,401.6 390.5,402.5 390.5,403.5 390.6,408.5 390.5,410.5 390.5,411.6 390.4,412.5 390.5,413.5 390.6,414.5 390.6,415.6 390.5,416.5 390.4,418.5 390.5,420.6 390.5,421.6 390.6,423.5 390.4,424.4 390.4,425.4 390.6,426.6 391.6,381.5 391.6,382.4 391.5,383.6 391.6,384.6 391.5,385.5 391.5,386.5 391.5,387.5 391.5,388.5 391.5,389.5 391.5,390.5 391.5,391.4 391.5,392.5 391.6,393.6 391.5,395.5 391.5,396.6 391.4,398.5 391.5,400.6 391.6,402.5 391.4,403.6 391.5,404.5 391.6,409.5 391.5,410.5 391.5,411.5 391.4,413.5 391.5,414.4 391.4,415.5 391.5,417.4 391.5,418.5 391.5,419.6 391.6,421.6 391.5,425.5 391.4,426.5 392.5,390.5 392.4,398.5 392.5,400.5 392.5,403.5 392.5,405.5 392.4,407.5 392.6,413.5 392.6,414.6 392.5,416.4 392.4,419.5 393.5,370.4 393.4,371.4 393.6,373.4 393.4,376.6 393.4,377.5 393.4,379.5 393.5,382.5 393.4,384.5 393.5,386.6 393.6,391.6 393.4,392.5 393.5,394.5 393.5,395.6 393.5,396.6 393.5,397.5 393.5,398.5 393.5,399.5 393.5,400.5 393.6,404.5 393.5,405.6 393.4,406.5 394.6,364.5 394.5,367.6 394.6,370.5 394.5,371.4 394.5,372.5 394.5,373.5 394.4,374.5 394.5,375.4 394.5,376.5 394.5,378.5 394.4,380.6 394.5,381.5 394.4,382.6 394.5,386.5 394.4,387.5 394.5,389.5 394.5,390.5 394.6,391.4 394.5,393.5 395.5,367.6 395.5,368.5 395.5,369.5 395.6,372.5 395.5,373.4 395.4,374.4 395.4,375.4 395.5,376.5 395.5,377.5 395.4,378.4 395.4,379.4 395.5,380.4 395.5,381.6 395.6,383.6 395.5,384.5 395.6,385.5 395.6,387.6 395.4,389.5 395.6,390.5 395.5,391.5 395.4,393.6 395.5,395.5 395.5,396.4 395.4,398.5 396.5,371.6 396.6,374.5 396.5,376.4 396.5,377.5 396.6,382.4 396.5,384.6 396.5,387.4 396.5,388.5 396.5,390.5 396.5,393.5 396.5,394.5 397.6,365.4 397.5,368.6 397.5,371.4 397.4,375.4 397.5,378.5 397.5,382.5 397.4,385.5 397.5,386.5 397.5,388.6 397.5,389.5 397.4,391.4 397.4,392.5 397.6,393.5 397.5,396.4 397.5,397.5 397.5,398.5 397.4,399.4 397.5,400.5 397.5,402.5 397.5,405.6 397.5,408.5 398.6,375.6 398.6,379.5 398.6,382.4 398.5,383.5 398.5,385.5 398.5,387.5 398.5,389.6 398.5,398.5 398.5,400.5 398.5,405.6 398.5,407.5 398.5,413.6 398.6,417.5 399.5,380.5 399.6,381.5 399.5,382.5 399.6,383.5 399.5,385.5 399.6,386.4 399.5,388.6 399.6,391.5 399.5,392.5 399.5,393.6 399.5,394.5 399.5,395.4 399.5,396.5 399.5,399.6 399.5,400.4 399.5,401.5 399.5,408.5 399.5,409.5 399.5,410.5 399.5,411.5 399.5,414.5 400.4,374.5 400.6,379.5 400.5,380.5 400.5,382.5 400.5,383.6 400.6,384.6 400.5,385.5 400.5,387.4 400.5,390.6 400.5,391.5 400.5,393.5 400.5,394.4 400.5,395.4 400.5,396.5 400.5,397.5 400.6,398.5 400.6,399.5 400.5,400.4 400.5,401.6 400.5,402.5 400.6,403.5 400.5,404.5 400.5,407.4 400.5,408.5 401.5,374.4 401.5,375.5 401.4,376.5 401.6,377.6 401.5,378.5 401.5,380.6 401.6,382.4 401.5,383.5 401.6,384.5 401.5,385.4 401.5,386.4 401.5,388.4 401.5,389.4 401.6,391.5 401.4,392.5 401.5,393.4 401.5,394.6 401.5,396.5 401.4,397.5 401.6,398.5 401.4,400.5 402.5,373.6 402.5,378.5 402.5,379.4 402.5,380.4 402.5,381.5 402.4,383.6 402.4,384.5 402.5,385.5 402.4,386.6 402.5,387.6 402.5,388.5 402.5,389.5 402.5,391.4 402.6,392.4 402.5,394.4 402.5,397.5 403.6,375.5 403.5,376.6 403.4,377.5 403.5,380.5 403.5,383.5 403.5,384.6 403.6,387.5 403.4,388.5 403.4,389.5 403.5,391.5 403.5,401.6 404.6,371.4 404.4,376.5 404.5,377.4 404.6,378.5 404.5,379.5 404.6,380.6 404.5,381.4 404.5,382.4 404.6,383.4 404.5,384.5 404.4,385.6 404.4,386.5 404.6,387.4 404.6,388.6 404.5,390.5 404.5,391.5 404.5,395.5 404.5,396.5 405.5,373.6 405.5,374.6 405.5,375.6 405.5,376.6 405.5,379.4 405.5,381.5 405.4,382.6 405.5,384.4 405.6,386.4 405.5,390.6 405.5,392.5 405.6,393.4 406.5,376.5 406.5,378.6 406.5,380.5 406.5,381.5 406.5,382.4 406.5,383.6 406.6,384.6 406.6,385.5 406.5,387.5 406.4,388.5 406.6,389.4 406.5,390.4 406.6,392.4 406.5,393.4 406.5,394.5 406.5,395.5 406.4,396.5 407.6,375.5 407.5,380.4 407.4,384.5 407.6,386.4 407.5,388.5 407.4,390.5 407.4,391.5 407.4,392.6 407.5,395.5 407.5,396.5 407.5,397.5 407.5,401.5 408.4,382.5 408.5,383.5 408.5,385.5 408.5,386.5 409.5,376.6 409.6,377.4 409.5,381.4 409.6,383.5 409.5,384.5 409.5,388.5 409.5,390.6 409.4,392.5 409.5,396.5 409.5,397.6 409.5,398.5 410.5,372.5 410.5,375.5 410.4,377.5 410.4,378.5 410.4,379.5 410.6,380.5 410.5,382.6 410.4,383.4 410.6,384.5 410.6,385.6 410.5,386.5 410.5,387.5 410.4,388.4 410.4,389.5 410.6,391.5 410.4,393.5 411.5,375.6 411.5,376.5 411.6,377.5 411.4,378.5 411.5,381.5 411.5,384.6 411.5,386.6 411.5,387.6 411.5,388.4 411.4,390.4 411.4,391.5 411.4,393.5 411.5,394.4 412.5,384.5 412.5,385.5 412.5,387.4 412.5,388.5 412.5,389.5 412.4,390.5 412.4,391.5 412.4,392.4 412.5,395.5 413.4,378.5 413.4,381.6 413.5,383.4 413.4,384.4 413.5,385.6 413.4,386.4 413.4,387.5 413.5,392.4 413.5,393.5 413.4,395.5 413.5,396.5 413.5,397.6 413.5,398.5 413.5,399.5 413.5,400.4 413.4,401.5 413.5,402.5 413.5,403.4 413.5,404.5 413.6,405.4 413.5,406.5 413.6,407.4 413.4,408.6 414.4,379.6 414.6,384.5 414.5,386.6 414.5,389.6 414.4,392.5 414.6,396.5 414.4,402.5 414.6,413.5 414.4,415.4 415.5,383.6 415.5,385.5 415.5,386.5 415.5,388.5 415.5,389.5 415.5,390.4 415.5,392.5 415.5,394.4 415.5,395.5 415.6,396.6 415.5,403.5 415.5,406.5 415.5,415.5 415.5,416.6 415.5,418.6 415.5,420.5 415.5,421.5 416.6,387.5 416.5,389.6 416.5,393.6 416.5,394.5 416.6,395.5 416.4,397.5 416.5,399.4 416.5,400.5 416.6,402.4 416.5,404.4 416.5,405.5 416.4,406.6 416.5,408.4 416.5,409.6 416.5,411.4 416.5,412.5 416.5,413.5 416.4,415.6 416.6,417.6 416.6,420.5 417.5,386.4 417.4,388.6 417.5,389.4 417.5,392.5 417.6,394.6 417.5,395.4 417.5,398.6 417.5,399.5 417.5,403.5 417.5,404.5 417.6,405.5 417.4,406.5 417.4,408.4 417.5,409.5 418.5,380.4 418.5,382.5 418.5,386.5 418.5,387.5 418.5,388.5 418.5,389.5 418.5,391.5 418.6,392.6 418.5,394.5 418.5,397.6 418.5,398.5 418.4,400.5 418.4,402.5 419.5,381.4 419.5,383.5 419.4,387.6 419.5,389.5 419.5,390.5 419.5,392.4 419.5,393.4 419.5,394.5 419.5,395.4 419.4,397.5 419.5,398.5 419.5,403.5 420.4,385.6 420.5,386.5 420.5,387.6 420.5,388.5 420.5,389.5 420.5,390.6 420.6,391.5 420.5,394.5 420.4,397.6 420.5,398.5 420.6,400.5 421.5,381.6 421.5,382.4 421.4,383.6 421.5,384.6 421.4,385.5 421.5,386.6 421.5,387.5 421.4,388.4 421.5,390.6 421.4,393.5 421.5,394.5 421.5,395.5 422.6,377.4 422.5,378.5 422.5,379.6 422.4,380.5 422.6,381.5 422.5,383.6 422.4,384.4 422.5,385.4 422.5,386.5 422.5,387.6 422.6,389.6 422.4,392.5 422.5,393.5 422.6,394.4 422.5,398.5 423.6,380.5 423.5,384.6 423.5,385.6 423.5,387.5 423.5,389.6 423.6,390.5 423.6,391.4 423.5,393.4 423.4,395.6 423.5,396.4 423.5,397.5 423.4,398.6 424.5,373.5 424.4,375.5 424.6,379.5 424.6,380.4 424.5,381.6 424.6,382.4 424.4,383.4 424.5,384.5 424.4,385.5 424.5,386.5 424.4,387.5 424.5,389.5 424.5,391.6 425.6,375.5 425.5,377.6 425.5,378.5 425.4,379.5 425.5,380.5 425.6,383.5 425.5,384.5 425.5,385.4 425.5,388.5 426.6,376.5 426.6,377.5 426.5,380.6 426.4,381.6 426.4,382.5 426.4,383.5 426.5,385.5 426.6,386.4 426.6,387.6 426.5,389.5 427.5,376.4 427.5,377.5 427.4,379.6 427.6,380.6 427.5,381.4 427.5,384.6 428.4,372.5 428.5,374.4 428.5,375.5 428.5,376.4 428.5,378.5 428.6,379.6 428.6,380.5 428.5,381.5 428.4,382.5 429.5,374.5 429.6,375.5 429.5,379.5 429.5,380.4 429.5,381.5 429.6,383.6 429.5,386.6 430.5,373.5 430.4,376.5 430.5,379.6 430.4,380.4 430.5,382.6 430.5,384.5 431.5,366.5 431.5,367.4 431.6,372.5 431.5,373.5 431.5,375.6 431.5,377.4 431.5,378.5 431.4,379.4 431.5,382.6 431.5,383.5 431.5,384.4 432.6,374.6 432.6,378.5 432.5,380.6 432.5,381.5 432.5,387.6 433.5,379.5 433.5,385.5 434.6,369.4 434.5,370.4 434.5,371.4 434.4,373.4 434.5,375.5 434.5,376.5 434.5,377.5 434.5,378.5 434.5,379.5 434.4,380.5 434.5,382.5 434.5,384.4 434.5,385.4 434.4,386.4 434.6,387.6 434.5,390.5 435.6,365.5 435.5,368.4 435.5,371.4 435.4,372.5 435.5,374.6 435.4,377.5 435.4,380.6 435.5,386.5 436.5,372.5 436.5,373.5 436.6,374.6 436.4,375.4 436.5,376.5 436.4,377.5 436.5,379.5 436.4,380.5 436.5,382.5 436.5,387.6 437.5,371.5 437.5,372.5 437.5,373.6 437.5,374.6 437.6,376.4 437.6,379.5 437.5,384.4 437.5,389.6 437.5,396.5 438.5,363.5 438.5,364.5 438.5,366.5 438.5,369.5 438.4,371.5 438.5,374.6 438.5,375.6 438.5,377.4 438.5,382.4 438.5,384.5 438.5,386.4 438.6,387.4 438.6,390.6 438.6,391.5 438.5,393.5 438.6,396.5 438.6,397.5 438.5,398.5 439.6,360.5 439.4,364.4 439.5,366.5 439.6,367.5 439.6,368.4 439.5,370.5 439.6,372.5 439.5,373.6 439.6,374.6 439.4,375.4 439.5,376.5 439.5,377.5 439.4,379.4 439.4,380.6 439.4,382.4 439.6,383.5 439.5,385.6 439.6,386.5 439.6,387.5 439.6,388.5 439.5,391.5 439.5,394.5 439.5,395.5 439.5,396.6 439.5,398.5 440.5,364.4 440.5,365.4 440.6,366.6 440.6,367.6 440.5,368.5 440.5,369.4 440.5,370.4 440.5,371.5 440.4,375.5 440.5,376.5 440.6,377.5 440.6,379.5 440.5,380.4 440.6,382.6 440.5,383.5 440.5,386.5 440.6,387.4 440.5,388.6 440.5,391.5 440.5,392.6 441.5,360.5 441.4,361.4 441.5,363.5 441.5,366.4 441.5,367.5 441.5,368.5 441.5,369.5 441.5,371.5 441.4,372.5 441.5,374.5 441.5,375.5 441.5,379.5 441.4,381.5 441.5,384.5 441.5,389.6 441.6,390.5 441.4,392.5 441.4,393.5 441.6,394.4 442.6,356.4 442.4,357.5 442.5,361.4 442.5,362.6 442.5,364.4 442.5,365.4 442.5,366.4 442.5,369.5 442.5,370.6 442.5,371.5 442.4,373.4 442.4,374.6 442.4,375.6 442.4,377.5 442.5,378.5 442.5,379.5 442.5,380.5 442.6,381.5 442.6,382.4 442.6,383.4 442.6,384.6 442.5,385.6 442.5,386.5 442.5,387.5 442.5,388.4 442.5,389.5 442.5,390.5 442.5,394.5 442.5,395.5 443.5,358.5 443.6,360.5 443.5,361.5 443.5,363.5 443.5,365.5 443.5,367.4 443.5,368.5 443.5,369.5 443.5,370.5 443.6,371.5 443.5,372.4 443.5,373.6 443.5,374.5 443.5,375.6 443.5,376.4 443.5,378.5 443.5,379.5 443.6,381.4 443.4,385.5 443.5,386.5 443.6,387.5 443.4,388.5 443.6,390.4 444.5,360.5 444.5,361.5 444.5,362.5 444.5,363.5 444.4,364.5 444.4,365.4 444.5,366.5 444.4,367.5 444.5,368.6 444.5,369.5 444.5,370.5 444.6,371.6 444.5,372.4 444.4,373.4 444.5,375.5 444.5,376.5 444.6,377.5 444.5,378.5 444.6,379.5 444.5,380.6 444.4,381.5 444.5,383.4 444.5,386.5 445.4,359.5 445.4,363.5 445.5,378.4 445.6,380.5 446.5,362.4 446.6,364.5 446.5,366.5 446.4,367.5 446.4,368.5 446.5,369.5 446.5,371.5 446.5,372.5 446.5,374.5 446.5,375.5 446.5,376.5 446.6,377.5 446.6,380.5 447.5,363.5 447.5,364.4 447.5,366.5 447.6,367.5 447.6,368.6 447.5,369.6 447.5,370.5 447.5,372.5 447.5,373.5 447.4,375.4 447.5,376.5 447.5,379.5 447.6,382.5 447.5,383.4 448.5,364.6 448.5,372.4 448.5,382.5 449.5,366.5 449.5,368.5 449.4,369.5 449.4,371.6 449.4,373.6 449.4,374.6 449.5,375.5 449.5,376.5 449.6,377.6 449.5,378.5 449.4,380.4 449.4,382.5 449.5,384.5 449.5,390.5 450.5,361.5 450.5,362.5 450.5,363.5 450.5,364.5 450.6,366.5 450.5,372.4 450.5,376.6 450.5,377.4 450.4,379.4 450.5,382.5 450.5,384.5 450.5,385.6 451.5,366.5 451.6,367.4 451.5,369.5 451.6,370.5 451.5,371.4 451.6,374.5 451.6,376.5 451.4,377.5 451.5,378.5 451.5,380.4 451.6,383.6 452.5,362.4 452.4,366.5 452.4,368.5 452.6,370.6 452.5,371.5 452.5,375.5 452.5,377.5 452.5,378.5 452.5,380.5 452.5,381.6 453.6,360.5 453.5,363.4 453.4,364.6 453.5,365.6 453.5,366.5 453.5,367.5 453.5,368.6 453.5,370.5 453.5,371.6 453.6,372.4 453.6,374.6 453.6,375.5 453.6,376.6 453.6,377.6 453.5,378.5 453.4,379.5 453.4,380.4 453.5,381.5 453.5,382.5 453.5,383.6 453.4,385.5 453.5,386.5 454.5,359.5 454.5,360.5 454.5,361.6 454.5,362.5 454.5,364.5 454.4,365.5 454.5,366.5 454.6,368.4 454.4,370.5 454.5,371.5 454.5,372.4 454.4,373.6 454.4,374.6 454.6,375.6 454.5,376.6 454.4,377.5 454.5,378.5 454.5,379.5 454.5,384.5 454.6,385.5 454.5,386.5 454.5,387.5 454.4,388.5 454.5,389.5 454.5,392.5 454.6,394.5 455.5,351.6 455.5,353.5 455.5,355.5 455.6,356.5 455.5,358.5 455.6,359.6 455.5,360.5 455.5,361.5 455.5,362.4 455.6,363.5 455.4,364.4 455.5,366.6 455.5,368.5 455.5,369.4 455.5,370.5 455.5,371.5 455.5,372.5 455.5,373.5 455.4,374.5 455.5,375.5 455.5,376.5 455.5,377.5 455.5,378.5 455.5,379.5 455.6,380.5 455.5,381.5 455.5,382.5 455.6,383.5 455.4,385.5 455.5,387.5 455.5,388.5 455.5,391.5 455.5,394.5 456.5,338.5 456.6,342.5 456.5,353.5 456.5,355.5 456.5,359.5 456.5,362.6 456.5,363.5 456.5,364.4 456.6,365.5 456.6,368.5 456.5,369.5 456.5,371.5 456.5,375.5 456.5,378.5 456.5,379.6 456.5,380.4 456.5,381.5 456.5,382.5 456.5,384.5 456.6,386.4 456.5,387.6 456.4,388.5 456.5,389.5 456.5,390.6 456.5,391.6 457.6,341.5 457.4,343.5 457.5,345.5 457.6,346.4 457.6,347.4 457.5,350.5 457.4,351.5 457.5,354.6 457.6,355.5 457.6,361.5 457.5,362.5 457.5,364.4 457.4,365.5 457.6,368.4 457.5,369.4 457.5,371.5 457.5,373.5 457.5,374.6 457.6,375.4 457.4,377.5 457.5,380.5 457.6,381.5 457.5,382.5 457.5,384.6 457.5,386.5 457.5,389.5 457.5,390.5 457.5,394.5 458.4,345.5 458.4,346.6 458.5,348.6 458.5,350.6 458.5,351.6 458.5,352.5 458.5,353.5 458.5,357.5 458.5,360.5 458.6,361.5 458.4,362.5 458.5,364.5 458.5,365.4 458.5,366.5 458.5,370.5 458.5,375.5 458.5,379.5 458.6,380.5 458.4,381.5 458.4,382.5 458.6,383.5 458.5,384.4 458.5,385.5 458.6,386.5 458.5,387.4 458.5,388.4 458.5,389.5 458.5,391.5 458.6,392.4 458.5,393.5 458.5,395.4 459.6,348.6 459.5,351.5 459.5,352.5 459.5,353.4 459.5,358.5 459.5,359.5 459.5,361.5 459.4,367.5 459.5,371.6 459.5,372.5 459.5,373.6 459.5,374.5 459.5,375.5 459.5,377.5 459.5,379.5 459.6,380.5 459.6,381.5 459.5,382.5 459.5,383.5 459.6,386.5 459.5,391.5 459.5,392.6 459.5,394.5 459.4,395.5 459.6,396.5 459.5,398.4 459.6,400.5 459.5,401.5 460.4,345.5 460.5,346.5 460.4,350.5 460.5,351.5 460.5,352.4 460.6,353.6 460.5,354.5 460.5,356.4 460.5,357.4 460.5,359.5 460.5,360.5 460.4,361.5 460.5,362.5 460.4,363.5 460.5,364.5 460.5,365.5 460.5,366.5 460.4,367.5 460.5,368.4 460.6,369.4 460.5,371.5 460.4,373.4 460.5,374.6 460.5,375.5 460.5,376.5 460.5,377.6 460.4,378.6 460.6,379.4 460.5,380.5 460.5,381.4 460.4,382.4 460.5,384.6 460.5,385.5 460.5,387.5 460.4,388.5 460.5,390.4 460.5,391.5 460.4,392.4 460.5,394.5 460.5,396.5 460.4,397.5 460.6,398.5 460.4,399.4 460.5,402.5 461.5,345.5 461.4,346.5 461.5,348.5 461.5,350.4 461.4,353.5 461.4,354.5 461.5,355.6 461.5,356.5 461.5,357.4 461.5,358.4 461.5,360.5 461.5,363.5 461.5,364.6 461.4,366.5 461.5,369.5 461.5,370.6 461.5,374.5 461.5,375.5 461.5,376.5 461.5,378.5 461.5,380.6 461.5,381.5 461.5,385.5 461.5,386.4 461.5,388.4 461.6,392.5 462.6,345.5 462.4,347.5 462.4,350.6 462.4,352.5 462.4,357.5 462.4,358.5 462.4,359.5 462.6,361.5 462.4,362.6 462.5,364.5 462.4,365.4 462.5,366.5 462.5,367.6 462.5,370.5 462.5,371.5 462.5,373.5 462.5,375.5 462.6,376.4 462.6,377.4 462.4,378.5 462.5,379.6 462.5,381.5 462.5,382.5 462.5,383.4 462.5,385.6 462.5,386.5 462.6,389.4 462.5,390.5 462.5,391.4 462.5,393.5 463.5,345.5 463.6,346.4 463.5,349.5 463.5,350.5 463.5,354.5 463.6,355.6 463.6,356.5 463.5,357.4 463.6,358.5 463.5,359.5 463.6,360.5 463.5,361.5 463.5,362.5 463.4,363.4 463.5,364.5 463.4,365.5 463.5,366.5 463.5,367.5 463.5,368.4 463.5,369.4 463.5,370.6 463.5,372.5 463.4,373.6 463.5,374.5 463.5,375.5 463.6,376.5 463.5,377.5 463.6,378.5 463.5,379.5 463.4,381.5 463.5,382.4 463.4,383.6 463.5,384.4 463.4,385.6 463.5,386.4 463.6,387.6 463.4,388.4 463.4,389.5 463.5,390.6 463.4,391.6 463.4,392.5 463.5,393.5 463.5,395.5 464.6,349.6 464.6,354.4 464.4,355.5 464.5,358.5 464.5,359.4 464.5,360.5 464.5,362.6 464.5,363.6 464.5,365.5 464.5,366.5 464.6,367.6 464.4,368.6 464.5,373.5 464.4,374.5 464.6,375.5 464.6,378.5 464.6,381.6 464.5,382.5 464.5,384.4 464.5,385.6 464.5,389.5 464.5,390.5 464.5,391.6 465.4,356.4 465.5,357.5 465.6,359.5 465.5,362.5 465.6,363.5 465.6,364.5 465.6,365.5 465.5,367.4 465.5,369.5 465.5,373.5 465.5,376.4 465.5,377.5 465.5,381.5 465.4,382.4 465.5,385.6 465.5,388.5 466.4,359.5 466.5,364.5 466.5,366.5 466.5,367.5 466.5,368.5 466.4,371.5 466.5,376.5 466.6,378.5 466.5,382.5 466.4,383.6 466.5,385.5 466.5,387.4 466.6,388.5 466.5,392.5 467.5,359.5 467.5,361.6 467.5,364.6 467.6,366.6 467.5,368.6 467.6,369.6 467.6,370.5 467.5,371.5 467.4,372.4 467.5,373.5 467.5,374.5 467.5,376.5 467.5,379.5 467.6,380.5 467.5,382.6 467.5,383.4 467.5,385.4 467.6,386.4 467.5,387.6 467.6,388.5 467.6,390.4 467.6,392.4 468.4,357.5 468.4,364.5 468.5,365.5 468.5,368.5 468.5,369.5 468.4,370.5 468.5,374.5 468.6,376.5 468.5,377.5 468.4,378.5 468.5,379.4 468.6,380.4 468.4,381.5 468.6,383.5 468.5,384.5 468.5,385.6 468.5,386.5 468.5,387.5 468.5,389.5 468.4,390.5 468.5,391.6 468.6,392.5 468.6,395.5 469.5,356.5 469.5,359.5 469.4,361.5 469.5,362.5 469.5,363.4 469.5,364.5 469.6,365.6 469.4,366.4 469.6,367.5 469.5,368.5 469.5,369.5 469.4,370.5 469.5,371.4 469.5,374.6 469.5,376.5 469.5,378.5 469.6,379.5 469.5,380.4 469.6,381.4 469.4,382.5 469.5,384.6 469.5,385.6 469.4,386.4 469.6,387.6 469.5,389.5 469.4,390.5 469.5,392.5 470.5,348.5 470.5,351.4 470.6,355.4 470.4,356.5 470.5,357.5 470.5,358.5 470.5,359.5 470.5,361.6 470.4,363.5 470.5,366.5 470.6,375.5 470.5,376.4 470.5,377.5 470.5,378.5 470.5,381.4 470.5,382.4 470.5,383.5 470.5,387.5 470.5,394.5 471.5,346.4 471.6,349.5 471.4,355.5 471.5,356.5 471.5,361.5 471.5,364.5 471.5,367.5 471.5,370.5 471.4,371.5 471.5,374.5 471.5,384.5 471.4,385.5 472.5,346.5 472.5,347.5 472.4,350.6 472.5,353.5 472.6,354.5 472.5,355.5 472.5,357.5 472.5,360.5 472.6,361.5 472.5,363.5 472.5,364.5 472.5,365.5 472.5,368.5 472.5,369.5 472.5,370.5 472.5,372.6 472.5,374.4 472.6,377.6 472.5,380.5 472.5,381.5 472.5,382.6 472.6,383.5 472.5,384.5 472.4,385.5 472.5,386.6 472.6,387.5 472.4,388.5 472.5,389.5 472.4,390.5 472.5,393.5 473.6,347.6 473.4,352.5 473.5,353.5 473.4,358.4 473.5,360.4 473.5,363.5 473.6,369.6 473.4,370.5 473.5,375.6 473.4,384.6 473.5,385.4 473.4,386.5 474.4,343.5 474.5,344.5 474.5,345.5 474.5,348.6 474.4,350.5 474.5,352.5 474.5,353.5 474.5,354.5 474.4,355.5 474.5,357.6 474.5,360.5 474.4,361.5 474.5,363.5 474.5,364.6 474.4,366.5 474.5,367.5 474.5,368.4 474.5,369.5 474.5,370.5 474.6,371.5 474.6,373.5 474.5,374.5 474.6,375.5 474.4,376.5 474.5,377.4 474.6,379.5 474.5,380.4 474.5,384.4 474.5,385.4 474.6,386.6 474.4,387.5 474.5,388.5 474.5,389.5 474.6,390.5 474.6,391.5 474.5,393.4 474.5,397.5 475.4,347.6 475.5,348.4 475.5,353.5 475.5,354.5 475.4,355.5 475.4,357.4 475.5,358.4 475.5,359.5 475.5,361.5 475.5,362.5 475.5,363.4 475.4,365.5 475.4,366.5 475.5,370.5 475.6,372.5 475.6,375.4 475.5,377.5 475.5,380.6 475.5,381.5 475.5,382.5 475.6,383.5 475.5,384.5 475.6,386.5 475.4,387.5 475.5,388.5 475.6,390.5 475.5,393.5 475.5,394.4 475.5,395.5 475.5,399.5 476.5,344.6 476.5,346.5 476.5,347.4 476.5,351.6 476.5,353.4 476.6,359.6 476.5,365.4 476.5,366.5 476.6,372.6 476.5,373.5 476.5,375.5 476.5,376.5 476.5,378.4 476.4,380.5 476.6,383.4 476.5,385.5 476.5,387.6 476.5,389.4 476.4,393.4 476.5,394.5 476.5,396.4 476.5,399.5 476.6,401.5 477.5,346.5 477.6,347.5 477.5,349.4 477.4,351.6 477.5,353.6 477.4,354.5 477.5,355.6 477.6,356.5 477.5,357.5 477.5,358.5 477.5,361.4 477.5,362.5 477.5,363.5 477.5,364.6 477.5,366.5 477.4,367.4 477.5,368.4 477.5,369.5 477.5,370.4 477.5,371.5 477.6,372.5 477.5,373.5 477.5,374.5 477.5,375.5 477.5,376.5 477.5,379.5 477.5,381.5 477.4,382.5 477.4,383.4 477.6,385.5 477.5,386.4 477.5,389.4 477.4,390.4 477.4,391.4 477.5,392.5 477.4,393.4 477.6,394.6 477.5,397.5 477.6,400.4 478.5,352.5 478.5,354.5 478.6,356.6 478.5,357.5 478.5,358.4 478.5,359.6 478.5,362.5 478.5,363.5 478.5,364.5 478.5,365.5 478.5,368.4 478.5,369.5 478.5,370.5 478.5,371.5 478.4,374.5 478.5,376.5 478.5,377.4 478.6,378.5 478.5,380.6 478.4,383.5 478.5,384.6 478.6,387.5 478.6,388.5 478.4,389.5 479.5,346.6 479.5,348.5 479.5,351.5 479.5,352.5 479.5,353.5 479.5,354.4 479.5,355.5 479.4,357.6 479.5,358.4 479.5,361.4 479.6,362.5 479.6,363.5 479.6,365.6 479.5,366.5 479.4,367.5 479.4,369.5 479.4,370.4 479.6,371.6 479.6,373.4 479.5,374.5 479.5,375.6 479.6,376.5 479.5,377.5 479.4,378.5 479.5,379.4 479.4,380.5 479.4,381.6 479.5,383.5 480.6,354.5 480.5,355.5 480.5,358.6 480.6,359.5 480.5,360.5 480.5,361.5 480.6,366.5 480.4,368.5 480.4,369.4 480.5,370.5 480.5,371.6 480.5,372.5 480.5,374.5 480.4,375.5 480.4,376.5 480.6,377.5 480.4,379.5 480.5,380.5 480.4,381.5 480.4,386.6 480.6,387.6 480.5,388.6 480.5,391.5 481.5,349.4 481.4,350.4 481.6,353.4 481.6,354.5 481.4,355.6 481.5,357.5 481.6,358.5 481.4,359.5 481.4,360.4 481.5,361.6 481.4,363.5 481.5,364.5 481.5,366.5 481.6,368.5 481.5,369.5 481.4,374.5 481.5,375.5 481.5,376.6 481.5,378.5 481.4,380.5 481.5,381.5 481.5,382.6 481.4,384.6 482.5,345.5 482.5,348.5 482.6,350.6 482.6,352.5 482.6,354.4 482.6,356.5 482.5,357.5 482.6,358.6 482.5,360.4 482.5,361.6 482.5,363.4 482.5,364.5 482.4,365.5 482.4,366.5 482.5,367.5 482.6,369.4 482.5,371.5 482.5,373.5 482.5,375.5 482.6,376.5 482.5,377.5 482.5,378.5 482.6,380.5 482.6,381.6 482.4,383.4 482.5,385.5 482.6,386.4 483.5,344.5 483.5,348.5 483.5,349.5 483.5,351.5 483.6,352.5 483.5,355.5 483.5,356.5 483.4,357.5 483.5,359.5 483.5,360.5 483.5,361.4 483.5,364.5 483.5,365.5 483.5,366.5 483.5,368.5 483.5,372.5 483.5,373.4 483.5,374.5 483.5,375.6 483.6,376.5 483.5,377.5 483.5,378.5 483.5,379.5 483.5,384.5 483.4,385.5 483.5,386.5 483.5,388.6 483.6,389.4 484.6,353.5 484.5,354.5 484.5,355.5 484.5,356.6 484.6,358.4 484.5,359.6 484.5,360.5 484.5,362.5 484.5,363.5 484.4,364.6 484.5,365.5 484.5,366.5 484.4,369.5 484.5,370.5 484.5,371.5 484.6,372.6 484.5,374.5 484.4,375.5 484.5,376.5 484.6,377.4 484.4,378.5 484.5,379.5 484.5,380.5 484.5,383.6 485.4,348.5 485.5,349.4 485.4,350.4 485.5,351.6 485.6,352.4 485.5,353.5 485.6,354.5 485.5,355.4 485.6,356.5 485.5,357.6 485.4,358.5 485.4,359.5 485.4,360.5 485.4,362.6 485.4,363.5 485.5,364.5 485.6,366.4 485.4,367.6 485.5,368.5 485.4,369.6 485.5,370.4 485.5,372.4 485.5,373.5 485.5,375.5 485.5,376.4 485.5,377.6 485.5,378.4 485.5,380.5 485.5,381.5 485.5,385.5 486.4,348.4 486.5,351.5 486.5,353.5 486.4,356.4 486.4,357.5 486.5,360.5 486.6,362.5 486.5,363.4 486.4,364.5 486.6,365.5 486.5,366.4 486.5,367.6 486.6,369.5 486.5,370.5 486.4,374.6 486.5,375.5 486.5,376.5 486.5,377.5 486.5,380.4 486.5,384.5 487.5,344.5 487.4,345.5 487.5,347.5 487.5,349.4 487.5,352.5 487.5,356.5 487.6,357.5 487.5,359.5 487.5,360.6 487.5,361.6 487.4,362.5 487.4,363.6 487.5,364.5 487.5,365.6 487.6,366.5 487.5,367.4 487.5,368.5 487.6,372.5 487.4,373.4 487.6,375.6 487.6,377.5 487.5,381.5 487.5,383.6 487.5,384.5 487.5,386.5 488.5,351.5 488.5,352.4 488.4,356.5 488.4,363.5 488.5,368.5 488.5,370.6 488.5,373.5 488.4,379.4 488.4,380.5 488.5,383.5 489.5,349.5 489.5,352.5 489.5,353.5 489.5,354.5 489.5,355.5 489.5,357.6 489.4,358.6 489.4,359.5 489.4,362.5 489.5,363.5 489.5,364.5 489.6,365.5 489.5,367.5 489.4,368.5 489.5,369.5 489.5,371.4 489.6,372.6 489.5,373.5 489.5,375.5 489.5,377.5 489.5,378.5 489.6,381.5 490.6,350.5 490.5,353.5 490.6,354.5 490.6,355.6 490.5,356.5 490.5,358.5 490.5,359.5 490.5,361.6 490.6,363.5 490.5,364.4 490.5,366.5 490.5,367.5 490.4,369.6 490.5,370.5 490.4,372.6 490.5,373.5 490.6,374.6 490.5,376.5 491.5,352.6 491.5,353.4 491.6,354.6 491.5,355.6 491.5,356.4 491.4,357.5 491.5,360.6 491.5,362.6 491.5,365.6 491.6,368.4 491.5,369.5 491.6,374.5 491.6,375.5 491.5,376.5 491.5,379.5 492.5,351.5 492.5,353.5 492.5,354.4 492.5,355.5 492.5,356.5 492.5,358.5 492.5,359.5 492.6,360.5 492.5,361.6 492.5,362.5 492.5,363.6 492.5,364.4 492.5,365.5 492.5,370.6 492.6,371.6 492.6,374.5 493.5,351.5 493.6,353.5 493.4,355.4 493.6,356.5 493.5,357.5 493.5,361.6 493.4,366.5 493.5,368.5 493.5,371.5 493.5,372.5 493.5,373.6 493.6,375.4 493.5,377.5 494.5,350.4 494.5,351.6 494.5,354.4 494.5,362.5 494.5,365.5 494.5,368.4 494.5,369.5 494.5,370.5 494.6,371.5 494.5,372.6 494.6,380.4 495.5,349.4 495.5,351.5 495.5,355.5 495.5,356.5 495.6,358.5 495.6,359.5 495.5,360.5 495.6,361.5 495.5,362.6 495.5,364.5 495.6,365.4 495.5,366.6 495.5,369.6 495.5,370.5 495.5,373.5 495.6,374.6 495.5,376.5 496.6,353.6 496.4,358.4 496.5,359.5 496.5,361.6 496.5,362.5 496.6,365.5 496.5,366.6 496.5,367.5 496.5,369.5 496.5,373.5 496.6,377.5 497.4,350.5 497.6,351.5 497.5,352.5 497.5,354.5 497.5,355.5 497.4,356.5 497.5,360.5 497.4,361.5 497.5,364.5 497.5,365.6 497.6,366.5 497.5,372.6 497.4,373.5 497.5,375.5 498.5,355.5 498.5,356.5 498.5,361.6 498.5,364.5 498.5,365.5 498.6,366.5 498.6,367.5 498.5,371.5 498.5,373.4 499.4,353.6 499.5,354.5 499.5,355.5 499.5,356.5 499.5,357.5 499.5,358.5 499.4,360.5 499.5,362.5 499.5,365.4 499.5,366.5 499.5,367.4 499.5,368.5 499.4,369.5 499.5,370.5 499.6,371.5 499.5,373.5 500.4,359.5 500.4,362.5 500.4,363.5 500.4,364.5 500.5,365.6 500.4,367.5 500.6,371.4 501.4,354.6 501.4,358.5 501.5,359.4 501.5,362.6 501.5,363.5 501.5,369.4 501.5,374.6 502.5,354.5 502.5,357.4 502.5,359.6 502.5,360.4 502.5,361.5 502.5,362.5 502.4,363.5 502.5,365.5 502.4,366.5 502.6,367.6 502.5,368.5 502.6,370.5 502.6,372.5 502.5,376.5 503.6,356.4 503.4,357.5 503.5,359.6 503.4,360.4 503.5,362.5 503.5,363.5 503.5,366.4 503.5,367.5 503.5,368.6 503.4,369.6 503.5,370.5 503.6,372.5 503.6,373.5 503.5,374.5 504.6,358.4 504.6,359.6 504.6,360.6 504.4,361.6 504.5,362.6 504.5,363.5 504.4,364.5 504.4,365.6 504.5,366.5 504.5,367.5 504.5,368.5 504.6,369.5 504.6,371.4 504.5,372.5 504.5,373.5 504.5,374.4 504.5,377.6 504.5,378.5 504.5,379.6 504.4,380.5 505.6,358.5 505.5,362.5 505.4,365.6 505.6,367.5 505.6,368.5 505.5,369.4 505.4,371.6 505.6,373.5 505.5,374.4 505.5,375.5 505.5,378.6 505.5,380.5 505.5,382.5 505.4,383.5 505.5,384.5 506.6,357.5 506.6,359.6 506.5,362.4 506.5,364.5 506.5,365.6 506.5,366.5 506.5,369.5 506.5,371.5 506.6,372.4 506.5,375.6 506.6,376.5 506.5,377.5 506.5,378.5 506.4,379.5 506.5,380.5 506.5,381.6 506.5,384.5 506.4,386.5 507.5,357.5 507.4,358.5 507.4,360.4 507.4,362.5 507.4,363.4 507.4,365.5 507.4,366.5 507.5,367.5 507.5,368.4 507.5,370.5 507.6,372.6 507.5,374.5 507.4,375.6 507.5,378.5 507.4,381.4 507.5,382.5 507.5,384.5 507.5,386.6 507.5,388.5 507.6,389.5 507.5,392.5 507.5,393.5 508.5,349.4 508.6,353.5 508.6,354.5 508.4,356.4 508.5,357.5 508.5,361.5 508.5,374.5 508.4,376.5 508.6,379.4 508.5,380.4 508.6,381.5 508.5,383.5 509.5,341.5 509.5,345.5 509.5,346.5 509.5,347.6 509.6,349.5 509.5,353.4 509.6,354.4 509.5,356.5 509.5,359.6 509.6,361.4 509.5,362.5 509.6,363.6 509.5,364.5 509.5,369.5 509.6,372.6 509.6,374.5 509.5,375.5 509.5,379.5 509.5,380.4 509.4,382.4 509.5,383.6 509.5,385.5 509.4,386.6 509.4,390.5 510.6,331.5 510.4,334.5 510.5,335.5 510.5,338.5 510.5,339.5 510.5,344.5 510.5,345.4 510.5,350.5 510.5,352.5 510.6,354.4 510.6,355.5 510.5,356.4 510.5,360.5 510.6,364.5 510.6,368.5 510.5,369.5 510.5,370.5 510.4,371.5 510.5,372.6 510.6,374.5 510.5,375.5 510.5,377.5 510.5,379.5 510.5,380.5 510.5,383.5 510.5,384.4 510.6,386.6 510.4,387.5 510.5,388.5 511.5,332.6 511.5,333.5 511.6,337.5 511.5,338.6 511.5,340.5 511.5,341.5 511.5,345.5 511.5,346.5 511.5,347.5 511.6,348.5 511.5,349.6 511.5,350.5 511.6,353.6 511.5,354.5 511.4,357.5 511.5,358.6 511.5,359.5 511.5,362.5 511.5,363.5 511.5,364.5 511.5,366.5 511.5,367.5 511.6,369.6 511.5,370.5 511.6,372.4 511.5,373.6 511.5,374.6 511.6,375.6 511.5,376.4 511.5,377.5 511.5,378.5 511.5,379.6 511.5,380.6 511.5,381.4 511.6,382.6 511.5,383.6 511.6,389.4 511.5,391.5 512.5,332.5 512.5,334.5 512.5,335.4 512.5,336.5 512.5,337.5 512.6,338.6 512.6,341.4 512.6,342.6 512.5,343.6 512.6,344.6 512.5,345.6 512.5,346.5 512.5,347.6 512.5,348.5 512.6,350.5 512.5,353.6 512.5,354.5 512.5,356.5 512.5,357.5 512.5,358.4 512.4,359.5 512.4,361.5 512.5,363.5 512.4,364.6 512.5,365.6 512.5,367.4 512.6,368.5 512.5,369.4 512.5,370.4 512.4,373.6 512.5,374.5 512.6,375.6 512.5,376.5 512.5,378.5 512.5,381.4 512.5,382.5 512.6,383.5 512.4,385.5 512.5,387.5 512.4,388.5 512.5,389.4 512.4,391.5 512.6,393.5 512.6,395.4 513.5,322.4 513.5,326.4 513.4,327.4 513.5,332.5 513.5,335.5 513.4,336.4 513.5,339.5 513.5,340.5 513.5,341.5 513.4,342.5 513.5,343.4 513.4,344.6 513.5,345.5 513.5,347.5 513.5,349.4 513.6,350.5 513.5,351.6 513.5,355.5 513.4,356.5 513.5,357.5 513.5,360.6 513.6,361.6 513.5,364.5 513.5,366.5 513.4,367.4 513.6,377.5 513.4,378.6 513.5,379.6 513.4,381.5 513.6,383.5 514.5,332.5 514.5,335.4 514.4,338.5 514.5,339.5 514.6,342.6 514.5,343.5 514.6,344.6 514.5,345.5 514.5,346.6 514.5,347.4 514.5,348.5 514.5,349.4 514.5,350.5 514.5,352.4 514.4,353.6 514.4,354.5 514.5,355.5 514.5,356.6 514.4,357.4 514.5,359.4 514.5,361.4 514.5,362.5 514.5,363.5 514.5,364.6 514.5,366.5 514.5,367.5 514.5,369.5 514.5,370.6 514.5,371.5 514.6,374.5 514.4,375.5 514.6,376.5 514.5,377.4 514.5,378.6 514.5,379.5 514.5,380.4 514.5,381.5 514.6,382.5 514.5,383.5 514.6,384.5 514.5,386.5 514.5,387.4 514.5,388.4 514.5,395.6 514.5,396.5 515.5,335.6 515.5,340.5 515.5,342.4 515.5,343.6 515.5,344.6 515.5,346.5 515.5,347.5 515.4,353.5 515.5,354.5 515.5,355.6 515.5,357.5 515.5,358.5 515.5,359.5 515.4,363.5 515.6,364.5 515.4,365.5 515.5,366.5 515.6,368.5 515.4,370.5 515.5,372.4 515.4,374.4 515.5,375.4 515.6,377.5 515.4,378.5 515.5,379.5 515.5,380.5 515.5,383.6 515.5,384.5 515.4,386.5 515.4,388.6 515.5,389.5 515.5,391.5 515.5,392.5 515.6,395.5 515.5,396.5 515.5,398.5 516.5,337.4 516.4,340.5 516.6,341.5 516.4,342.5 516.6,343.5 516.4,344.5 516.4,345.5 516.4,346.4 516.4,349.4 516.5,350.6 516.5,352.6 516.4,355.4 516.4,356.5 516.6,358.5 516.5,359.6 516.4,360.5 516.4,362.5 516.5,363.4 516.6,364.5 516.5,365.5 516.5,366.6 516.5,367.5 516.5,368.5 516.4,369.5 516.5,370.5 516.5,372.6 516.6,373.5 516.5,374.6 516.6,375.4 516.5,376.4 516.5,377.4 516.6,379.5 516.6,380.5 516.5,381.4 516.6,382.5 516.5,383.5 516.5,384.4 516.5,385.5 516.4,386.4 516.6,387.5 516.5,388.5 516.4,390.5 516.5,391.5 516.5,392.4 516.4,394.6 516.5,397.4 517.5,337.4 517.4,340.5 517.5,341.6 517.4,342.6 517.5,345.6 517.5,346.4 517.5,347.5 517.5,348.4 517.5,349.5 517.5,351.5 517.6,354.5 517.4,356.6 517.5,358.5 517.6,360.5 517.5,361.4 517.5,364.6 517.6,367.6 517.5,369.5 517.6,371.6 517.5,372.6 517.6,374.5 517.5,376.5 517.6,377.4 517.5,381.6 517.5,382.5 517.5,383.4 517.4,385.5 517.5,386.4 517.5,388.6 517.5,389.4 517.5,390.5 517.5,391.6 517.6,393.6 517.5,394.4 517.6,395.5 518.5,341.4 518.6,342.6 518.6,344.6 518.5,345.5 518.6,346.4 518.5,347.4 518.5,351.5 518.5,353.5 518.6,356.4 518.5,360.5 518.5,361.5 518.5,365.6 518.6,371.5 518.5,372.5 518.6,373.5 518.5,375.5 518.5,376.5 518.6,380.5 518.6,381.5 518.5,389.5 519.5,333.5 519.5,335.5 519.5,336.6 519.5,337.5 519.5,339.5 519.6,341.6 519.5,345.4 519.5,346.6 519.4,348.5 519.6,353.5 519.5,354.5 519.6,356.5 519.5,358.4 519.6,360.4 519.6,361.4 519.5,362.6 519.5,363.4 519.4,364.5 519.6,366.4 519.6,367.5 519.5,368.5 519.5,370.6 519.5,371.5 519.4,372.5 519.6,373.5 519.5,374.5 519.6,376.4 519.5,377.5 519.5,378.5 519.5,379.4 519.5,381.6 519.4,382.5 519.6,383.5 519.5,384.4 519.5,385.6 520.4,338.4 520.5,339.5 520.5,342.5 520.5,345.6 520.5,346.6 520.4,347.5 520.6,348.6 520.5,349.4 520.5,350.5 520.6,351.4 520.6,353.5 520.5,354.6 520.5,356.5 520.4,360.5 520.5,361.4 520.6,364.6 520.4,365.5 520.5,366.5 520.6,370.5 520.4,372.6 520.6,373.5 520.5,382.5 520.4,383.4 520.4,384.5 520.5,389.5 521.4,337.6 521.5,340.5 521.6,341.4 521.5,342.5 521.5,343.6 521.5,344.5 521.5,345.6 521.4,346.6 521.6,347.6 521.5,348.4 521.5,351.5 521.6,352.5 521.4,353.5 521.6,354.4 521.4,359.5 521.5,361.5 521.5,364.5 521.5,365.4 521.5,366.5 521.5,370.5 521.4,372.5 521.5,373.5 521.4,374.5 521.6,375.5 521.4,376.5 521.5,380.5 521.5,383.4 521.5,386.5 521.5,387.5 521.5,390.6 521.6,391.5 522.5,335.5 522.6,337.6 522.6,339.5 522.6,342.5 522.5,343.5 522.5,347.5 522.5,351.6 522.4,353.4 522.6,355.5 522.4,357.5 522.5,358.5 522.6,361.5 522.4,362.4 522.6,363.5 522.5,365.5 522.5,366.4 522.4,368.6 522.5,370.6 522.5,371.4 522.6,372.5 522.6,374.5 522.5,375.6 522.5,376.5 522.6,377.6 522.4,379.5 522.5,381.6 522.5,385.5 522.5,388.4 522.6,389.5 523.6,336.5 523.5,340.5 523.6,341.5 523.4,342.5 523.6,345.4 523.4,346.5 523.5,347.5 523.5,348.5 523.5,349.4 523.4,350.5 523.5,351.5 523.4,352.5 523.5,354.5 523.6,355.6 523.5,356.5 523.6,357.6 523.5,359.4 523.6,360.4 523.5,361.6 523.5,362.5 523.6,363.5 523.5,364.5 523.5,365.6 523.6,366.5 523.5,367.5 523.5,368.4 523.4,369.6 523.4,371.6 523.5,372.5 523.5,373.5 523.4,374.5 523.5,375.4 523.4,376.4 523.5,378.5 523.5,379.4 523.5,380.4 523.6,381.5 523.5,383.5 523.5,384.5 523.4,385.5 523.4,386.5 523.5,388.5 524.5,332.5 524.5,334.4 524.6,335.4 524.6,338.6 524.5,339.6 524.5,342.5 524.5,343.5 524.6,346.6 524.4,349.6 524.5,350.5 524.5,352.5 524.6,356.5 524.5,357.4 524.4,359.5 524.4,361.6 524.4,362.6 524.5,364.5 524.5,369.5 524.5,377.5 524.5,379.5 524.6,381.5 524.5,384.6 525.5,335.4 525.5,337.5 525.5,338.5 525.6,339.5 525.5,340.5 525.4,341.5 525.5,347.5 525.5,348.4 525.5,350.4 525.5,353.5 525.6,354.6 525.5,355.4 525.5,356.5 525.5,357.4 525.4,358.5 525.5,360.5 525.5,361.6 525.5,362.4 525.5,363.5 525.6,365.6 525.4,366.6 525.5,368.5 525.6,371.5 525.5,372.6 525.5,373.4 525.5,375.6 525.4,376.5 525.5,377.5 525.4,378.6 525.4,382.6 525.5,383.4 526.5,337.5 526.5,338.4 526.5,340.5 526.5,341.6 526.5,342.5 526.5,343.5 526.6,344.6 526.6,345.5 526.4,346.5 526.5,348.4 526.4,349.5 526.5,350.6 526.5,351.5 526.5,352.4 526.4,353.5 526.4,354.5 526.5,355.5 526.4,356.4 526.5,357.6 526.5,360.5 526.5,361.4 526.5,362.5 526.5,363.5 526.4,365.6 526.5,366.5 526.6,367.4 526.4,368.5 526.5,369.6 526.6,370.5 526.5,371.5 526.4,372.6 526.5,373.6 526.5,374.5 526.5,375.5 526.5,376.5 526.4,377.4 526.5,378.6 526.6,380.5 526.5,381.5 527.6,340.4 527.5,343.5 527.5,347.4 527.5,348.5 527.5,354.4 527.6,358.5 527.4,359.5 527.4,363.6 527.5,367.5 527.5,368.5 527.5,370.5 527.5,375.5 527.5,376.5 527.5,381.5 527.5,382.5 527.4,383.5 528.5,340.4 528.5,343.5 528.5,344.5 528.5,345.4 528.6,346.6 528.5,347.5 528.4,349.5 528.5,352.5 528.6,354.5 528.6,358.6 528.5,361.5 528.5,362.4 528.5,363.4 528.5,365.5 528.5,367.6 528.5,368.5 528.6,370.5 528.4,372.6 528.5,373.5 528.5,374.5 528.4,375.4 528.6,379.4 528.4,380.5 528.6,381.5 528.5,384.5 529.5,340.5 529.6,342.5 529.5,343.5 529.5,344.5 529.6,345.6 529.5,346.4 529.4,347.5 529.4,348.5 529.4,350.5 529.6,352.5 529.4,353.4 529.5,355.5 529.5,356.5 529.4,357.4 529.5,358.5 529.6,359.6 529.4,360.6 529.5,361.5 529.6,363.5 529.5,364.5 529.6,365.5 529.6,366.5 529.5,367.4 529.6,369.6 529.5,370.4 529.5,372.6 529.5,373.5 529.4,376.5 529.4,377.6 529.5,378.5 529.5,381.5 529.6,383.5 530.5,335.6 530.4,336.5 530.6,338.5 530.6,339.6 530.6,340.5 530.6,344.5 530.5,348.5 530.4,349.5 530.5,354.5 530.5,355.6 530.5,358.5 530.5,359.5 530.4,360.5 530.5,362.5 530.4,363.4 530.6,364.4 530.5,365.6 530.6,366.4 530.6,367.5 530.5,368.5 530.5,369.5 530.4,371.5 530.5,372.4 530.4,373.4 530.4,374.5 530.5,375.4 530.5,376.5 530.5,377.5 530.5,378.5 530.5,382.5 530.5,386.6 530.5,387.5 530.4,388.6 531.5,327.5 531.5,331.5 531.5,333.5 531.5,334.5 531.5,335.5 531.5,336.6 531.6,337.5 531.6,338.6 531.6,339.5 531.5,340.5 531.5,341.5 531.5,342.4 531.5,343.5 531.4,349.5 531.4,350.5 531.5,353.5 531.6,354.6 531.4,356.5 531.5,358.5 531.5,360.5 531.5,361.6 531.5,363.5 531.4,364.5 531.6,365.6 531.5,367.5 531.5,368.4 531.5,369.5 531.5,370.5 531.6,371.5 531.6,372.4 531.4,374.5 531.5,375.6 531.6,383.4 531.4,384.6 531.6,387.6 531.6,388.4 532.5,340.5 532.4,341.5 532.4,345.5 532.5,348.5 532.5,350.5 532.4,351.5 532.5,352.5 532.5,354.4 532.6,355.5 532.4,356.5 532.5,357.5 532.5,358.5 532.5,359.5 532.6,360.5 532.5,361.5 532.4,362.5 532.4,364.5 532.5,365.5 532.4,369.4 532.5,372.6 532.5,373.5 532.5,374.5 532.5,375.5 532.5,376.4 532.5,377.6 532.5,378.6 532.5,379.4 532.4,380.4 532.5,382.5 532.4,384.4 532.4,385.5 532.5,386.5 532.4,388.5 532.6,392.5 533.5,345.4 533.5,346.5 533.6,347.5 533.5,349.5 533.5,350.5 533.6,351.4 533.5,352.5 533.6,353.5 533.5,354.5 533.5,356.6 533.5,359.5 533.4,360.5 533.5,361.4 533.5,362.6 533.6,363.5 533.5,364.4 533.6,365.5 533.5,367.5 533.5,368.5 533.5,369.6 533.6,370.5 533.5,371.5 533.4,372.5 533.5,373.5 533.5,375.5 533.5,376.4 533.6,377.5 533.4,378.5 533.5,380.4 533.5,381.5 533.5,382.5 533.5,383.4 533.5,384.4 533.5,385.4 533.4,386.5 533.5,390.5 533.5,391.5 533.5,393.5 533.5,396.6 533.5,397.6 534.5,336.6 534.5,337.5 534.5,338.5 534.6,340.6 534.5,342.5 534.6,343.4 534.5,344.5 534.5,345.5 534.5,346.5 534.5,347.4 534.6,348.5 534.5,349.6 534.6,350.4 534.4,352.5 534.5,353.5 534.4,354.5 534.6,355.4 534.5,356.6 534.6,357.4 534.5,359.6 534.4,360.5 534.5,361.6 534.5,363.5 534.5,364.5 534.5,366.5 534.5,367.5 534.5,368.5 534.6,369.5 534.6,370.5 534.5,371.4 534.5,372.4 534.6,373.4 534.5,375.6 534.4,377.5 534.4,378.4 534.5,379.4 534.6,381.5 534.5,382.5 534.5,383.5 534.6,385.5 534.4,387.4 534.5,388.4 534.5,389.6 534.5,390.6 534.5,391.5 534.6,392.5 534.5,393.5 534.4,395.5 534.5,396.6 534.5,398.6 534.4,399.5 535.5,344.5 535.5,345.5 535.5,346.5 535.5,352.5 535.5,353.5 535.6,355.4 535.5,356.5 535.5,366.4 535.5,367.5 535.5,368.6 535.6,369.5 535.5,370.4 535.5,372.5 535.4,375.5 535.4,381.6 535.4,383.5 535.6,384.5 535.5,385.5 535.4,387.4 535.5,388.6 535.5,390.6 535.5,391.4 535.5,392.5 536.5,343.6 536.4,344.5 536.5,346.5 536.6,347.5 536.5,349.4 536.4,350.6 536.4,351.5 536.5,352.5 536.4,353.6 536.6,354.5 536.5,356.5 536.5,357.5 536.5,359.4 536.5,363.5 536.4,364.5 536.5,365.5 536.5,366.5 536.5,367.5 536.5,369.5 536.4,370.6 536.4,371.6 536.4,372.5 536.4,373.5 536.5,374.5 536.4,375.5 536.5,376.5 536.4,377.5 536.5,380.5 536.5,381.4 536.4,382.4 536.5,383.4 536.5,384.4 536.4,386.6 536.6,388.5 536.5,389.5 536.4,390.5 536.5,391.5 536.5,395.4 537.4,346.5 537.4,349.4 537.4,352.5 537.5,354.5 537.6,357.4 537.5,358.6 537.4,359.5 537.5,360.5 537.6,362.5 537.4,363.4 537.6,367.4 537.5,368.6 537.5,370.4 537.6,371.5 537.5,372.6 537.4,373.5 537.4,375.6 537.5,377.6 537.4,379.5 537.5,380.4 537.6,382.5 537.5,387.5 538.5,345.5 538.5,350.5 538.6,351.5 538.5,353.5 538.6,354.5 538.6,355.4 538.5,356.4 538.4,359.5 538.5,360.5 538.5,362.5 538.5,366.5 538.5,371.5 538.5,372.5 538.5,375.5 538.5,376.5 538.6,378.4 538.6,380.5 538.5,385.5 538.5,387.4 538.6,388.5 539.6,344.5 539.5,346.5 539.5,347.4 539.4,351.6 539.5,352.6 539.6,354.5 539.5,356.5 539.4,357.4 539.5,358.5 539.6,359.4 539.5,360.5 539.5,362.5 539.5,363.5 539.5,366.5 539.5,367.5 539.6,368.5 539.5,369.6 539.6,371.4 539.5,377.5 539.4,378.5 539.6,379.4 539.5,380.4 539.5,384.5 539.6,386.5 539.5,387.5 539.5,388.6 539.5,389.5 539.5,390.5 539.5,391.5 539.4,392.5 540.5,342.4 540.5,344.6 540.5,345.5 540.5,346.5 540.4,347.5 540.6,348.5 540.4,349.5 540.6,350.4 540.5,351.4 540.5,353.6 540.5,354.5 540.6,355.5 540.5,356.6 540.4,357.5 540.5,358.4 540.4,359.4 540.4,361.5 540.5,362.5 540.6,363.5 540.5,364.5 540.5,365.6 540.5,368.5 540.5,370.5 540.5,371.5 540.4,372.5 540.5,373.5 540.5,374.5 540.5,375.4 540.6,376.5 540.5,378.5 540.5,379.5 540.6,380.6 540.4,381.6 540.5,382.5 540.5,383.4 540.4,384.5 540.5,385.5 540.4,386.5 540.5,387.5 540.5,389.5 541.5,347.4 541.6,348.5 541.5,349.5 541.5,351.5 541.4,352.5 541.6,354.5 541.4,355.4 541.4,356.6 541.5,357.4 541.5,358.6 541.5,360.6 541.5,361.5 541.6,362.5 541.5,363.6 541.4,365.5 541.5,366.5 541.6,367.4 541.5,369.5 541.5,372.6 541.6,373.6 541.5,374.5 541.6,379.5 541.5,380.6 541.5,382.5 541.6,384.6 541.5,386.5 541.5,387.4 541.4,388.5 541.5,389.6 541.5,391.4 542.5,344.5 542.6,346.4 542.4,347.5 542.5,348.6 542.5,349.4 542.5,350.6 542.4,352.5 542.5,353.5 542.5,354.5 542.5,356.5 542.5,358.5 542.4,359.4 542.5,360.6 542.6,361.5 542.5,364.6 542.5,366.4 542.5,368.5 542.6,369.5 542.5,370.5 542.6,371.5 542.4,372.5 542.5,374.5 542.6,376.5 542.4,379.4 542.4,381.5 542.4,382.5 542.4,384.5 542.5,385.5 542.5,389.5 542.5,391.5 543.5,346.5 543.5,352.4 543.5,353.6 543.5,355.5 543.4,356.5 543.5,357.6 543.6,360.6 543.5,361.5 543.4,362.4 543.6,363.6 543.6,364.6 543.5,365.5 543.6,366.5 543.5,367.5 543.4,368.5 543.5,369.4 543.6,370.5 543.4,371.5 543.5,372.5 543.4,373.6 543.5,374.5 543.5,375.5 543.5,376.5 543.5,379.5 543.5,380.5 543.4,381.5 543.5,382.6 543.5,383.4 543.4,384.5 543.5,385.5 543.5,386.5 543.5,391.6 544.6,345.4 544.4,346.5 544.5,348.5 544.5,350.4 544.5,352.4 544.5,353.5 544.6,354.4 544.5,355.5 544.5,357.5 544.5,359.4 544.4,361.6 544.5,362.5 544.4,367.5 544.5,368.4 544.4,372.5 544.6,374.5 544.5,375.5 544.6,377.6 544.5,380.6 544.5,382.6 544.5,383.5 544.4,385.6 545.4,358.5 545.6,361.6 545.4,362.5 545.5,363.5 545.5,364.6 545.6,365.5 545.4,366.6 545.6,368.5 545.5,370.4 545.4,371.4 545.6,372.6 545.5,374.5 545.5,375.5 545.6,376.6 545.5,378.6 546.5,357.5 546.4,358.4 546.5,361.5 546.5,362.5 546.5,365.5 546.6,366.5 546.5,368.4 546.6,369.4 546.6,370.5 546.5,371.5 546.6,372.5 546.5,373.5 546.5,374.5 546.5,376.5 547.4,356.5 547.5,361.5 547.5,362.4 547.6,364.6 547.4,366.5 547.6,367.6 547.6,368.5 547.5,370.5 547.6,371.5 547.6,372.4 547.4,373.6 547.5,374.4 547.5,375.4 547.4,377.5 547.6,378.6 547.5,379.5 547.5,381.5 547.5,382.6 548.4,357.6 548.5,359.5 548.5,361.4 548.5,362.4 548.6,363.5 548.5,364.6 548.5,365.6 548.5,367.4 548.5,370.5 548.5,371.6 548.5,372.5 548.5,374.5 548.5,375.5 548.5,377.5 548.6,380.6 549.5,369.4 549.4,371.6 549.5,372.4 549.5,375.4 549.6,376.5 549.6,378.5 550.5,361.5 550.5,363.4 550.5,364.5 550.5,365.5 550.6,366.5 550.5,367.5 550.5,368.5 550.5,370.5 550.5,373.5 550.5,374.5 550.5,375.4 550.5,376.5 550.4,377.5 550.5,379.4 550.4,382.5 551.6,362.5 551.5,365.5 551.5,367.5 551.5,368.5 551.5,369.6 551.5,371.6 551.5,372.4 551.5,373.6 551.4,374.5 551.5,375.4 551.5,376.4 551.5,377.5 551.6,378.6 551.4,379.5 552.5,361.6 552.6,362.4 552.4,364.4 552.6,366.6 552.4,367.6 552.5,368.6 552.6,370.4 552.6,375.4 552.6,377.5 552.5,378.5 552.6,379.5 552.6,380.4 552.5,381.5 552.4,382.5 552.5,385.5 553.5,359.5 553.6,362.6 553.6,363.5 553.4,364.4 553.4,366.5 553.5,367.5 553.5,369.5 553.5,370.4 553.5,371.4 553.4,372.5 553.6,373.6 553.5,374.6 553.6,377.5 553.4,378.6 553.5,379.5 553.5,382.5 553.4,383.4 553.5,385.6 554.5,363.6 554.5,366.5 554.6,369.5 554.5,370.5 554.5,371.5 554.4,373.5 554.5,375.4 554.5,378.5 554.5,379.5 554.5,380.5 554.5,381.5 554.5,382.5 555.6,363.6 555.5,364.5 555.5,366.5 555.4,367.6 555.4,369.4 555.4,370.5 555.5,371.5 555.4,372.6 555.5,374.5 555.5,375.6 555.5,376.5 555.6,377.6 555.5,378.5 555.5,379.4 555.5,381.5 556.6,364.5 556.4,365.5 556.5,369.5 556.5,371.5 556.5,375.5 556.5,376.4 556.5,378.4 556.4,379.5 556.5,381.5 557.5,362.5 557.4,364.5 557.5,365.4 557.5,366.6 557.5,367.5 557.5,371.5 557.5,372.4 557.5,373.5 557.4,374.5 557.5,375.6 557.6,378.5 557.5,379.5 557.5,380.5 557.4,381.5 557.6,382.5 557.5,384.5 557.5,385.4 557.5,386.5 558.5,356.5 558.5,358.4 558.6,359.5 558.5,361.6 558.6,363.6 558.5,364.6 558.5,365.4 558.6,366.6 558.4,367.5 558.5,368.6 558.6,369.5 558.5,370.6 558.4,371.6 558.5,373.5 558.6,374.5 558.5,376.6 558.6,377.4 558.5,378.5 558.6,379.5 558.5,380.6 558.6,381.5 558.5,382.5 558.5,386.5 558.4,388.6 559.5,355.5 559.6,358.5 559.5,359.5 559.5,360.4 559.5,364.5 559.6,365.5 559.4,366.5 559.5,369.4 559.5,370.5 559.5,371.5 559.5,374.4 559.4,375.6 559.5,376.5 559.5,377.5 559.5,380.5 559.6,382.5 559.5,384.5 559.4,392.6 560.6,359.6 560.6,364.5 560.5,367.5 560.4,368.5 560.6,369.5 560.5,372.5 560.5,373.5 560.5,377.4 560.6,378.5 560.5,381.5 560.5,385.4 560.5,388.4 560.5,390.4 560.5,391.5 560.5,395.6 561.5,353.6 561.4,355.5 561.4,357.5 561.5,358.5 561.5,367.5 561.5,368.5 561.4,371.5 561.5,372.4 561.5,373.6 561.5,374.5 561.5,376.6 561.5,377.5 561.5,380.5 561.6,381.6 561.5,383.5 561.5,384.5 561.6,386.5 561.5,387.5 561.5,392.6 561.5,395.5 561.5,397.5 561.4,398.4 561.5,399.4 562.5,359.5 562.4,367.5 562.5,370.5 562.6,371.5 562.4,372.6 562.6,375.5 562.5,377.4 562.4,378.6 562.5,380.5 562.5,386.5 562.5,388.5 562.5,389.5 562.6,399.5 562.5,400.4 562.6,402.5 563.5,346.5 563.4,347.5 563.5,348.5 563.4,351.5 563.6,352.4 563.4,353.5 563.4,354.5 563.4,355.6 563.6,356.6 563.5,357.5 563.6,358.4 563.5,359.5 563.6,360.5 563.5,361.5 563.5,362.5 563.5,363.5 563.5,364.5 563.4,365.4 563.4,366.5 563.5,367.4 563.6,368.6 563.5,369.5 563.5,370.4 563.5,371.5 563.5,372.5 563.5,373.6 563.6,374.5 563.4,375.5 563.4,377.5 563.6,379.5 563.4,380.5 563.6,381.5 563.4,382.5 563.6,384.5 563.4,385.5 563.5,386.5 563.4,387.4 563.5,388.5 563.4,389.5 563.4,391.5 563.5,392.5 563.4,394.6 563.4,395.5 563.5,396.5 563.6,397.5 563.6,398.4 563.5,399.4 563.6,400.5 563.5,401.4 563.5,402.5 563.6,403.5 563.6,404.5 564.5,345.5 564.5,346.5 564.5,349.5 564.6,350.5 564.5,351.6 564.5,353.6 564.4,355.6 564.6,357.4 564.5,358.5 564.5,361.6 564.5,362.4 564.4,365.5 564.4,369.6 564.5,370.5 564.5,378.5 564.4,379.6 564.5,380.6 564.5,381.4 564.5,383.5 564.5,391.6 564.5,394.6 564.5,395.4 564.6,396.5 564.6,399.6 564.5,400.4 564.6,403.5 565.5,340.5 565.5,341.4 565.5,346.6 565.5,347.5 565.5,351.6 565.5,352.4 565.4,353.5 565.5,359.5 565.4,361.4 565.5,362.5 565.6,365.5 565.5,366.5 565.6,370.5 565.5,377.5 565.5,384.6 565.5,385.5 565.5,387.6 565.6,388.5 565.5,391.5 565.6,392.5 566.5,322.6 566.4,323.6 566.5,325.4 566.5,327.5 566.6,329.4 566.6,330.5 566.4,331.5 566.4,332.6 566.5,333.6 566.6,334.5 566.6,336.5 566.6,337.4 566.5,338.4 566.6,339.6 566.5,340.5 566.5,341.5 566.4,342.5 566.5,343.4 566.5,344.4 566.5,346.5 566.5,347.5 566.5,348.5 566.4,350.5 566.5,353.5 566.5,354.5 566.5,357.5 566.5,358.5 566.6,359.6 566.5,360.5 566.5,361.6 566.5,363.5 566.5,364.5 566.5,367.5 566.5,369.5 566.5,370.5 566.4,371.5 566.5,372.4 566.4,373.4 566.6,374.6 566.5,375.6 566.5,376.5 566.4,378.5 566.5,379.5 566.5,380.5 566.5,382.6 566.4,384.5 566.6,385.5 566.5,387.5 566.5,388.5 566.4,389.5 566.5,390.5 566.4,391.6 566.4,392.4 566.6,393.5 566.5,394.5 566.5,395.4 566.5,396.6 566.5,397.5 566.6,398.5 567.4,320.5 567.5,325.6 567.6,331.6 567.5,333.5 567.5,337.5 567.5,340.5 567.4,342.5 567.5,344.5 567.4,347.5 567.5,350.5 567.5,353.5 567.5,355.5 567.4,356.5 567.5,358.6 567.5,364.5 567.5,365.5 567.5,367.6 567.5,368.4 567.5,377.6 567.4,378.4 567.6,383.6 567.5,387.5 567.4,391.5 567.6,394.4 568.5,322.5 568.5,323.5 568.6,324.6 568.6,325.5 568.6,327.5 568.6,328.5 568.5,329.6 568.5,330.6 568.5,331.6 568.5,332.5 568.5,333.5 568.5,334.4 568.6,336.5 568.5,337.5 568.5,338.4 568.5,339.5 568.4,340.5 568.5,342.5 568.6,343.5 568.4,344.6 568.5,345.4 568.5,346.6 568.5,347.4 568.5,348.4 568.4,349.5 568.6,350.5 568.6,351.5 568.6,353.5 568.4,355.4 568.6,356.5 568.5,357.5 568.5,358.5 568.5,359.5 568.6,360.5 568.5,361.5 568.5,362.5 568.4,363.4 568.5,365.5 568.5,369.5 568.4,370.4 568.5,371.6 568.6,373.5 568.5,374.5 568.6,375.5 568.4,376.5 568.6,377.5 568.6,379.4 568.4,381.4 568.6,382.4 568.4,384.5 568.5,385.5 568.5,387.6 568.5,388.5 568.5,389.6 568.5,391.5 568.5,395.5 568.5,396.4 568.6,398.6 569.6,323.4 569.5,325.5 569.5,326.5 569.4,327.4 569.4,328.4 569.5,329.5 569.5,330.4 569.6,331.4 569.5,332.5 569.5,333.4 569.5,335.6 569.6,336.4 569.5,337.5 569.5,338.5 569.4,339.4 569.5,340.5 569.6,342.5 569.5,343.5 569.5,345.6 569.4,347.5 569.6,349.5 569.4,350.5 569.5,351.6 569.4,352.5 569.6,354.5 569.5,356.5 569.5,357.4 569.5,358.6 569.5,359.5 569.5,361.5 569.4,362.5 569.5,363.5 569.5,365.5 569.5,367.5 569.5,368.5 569.5,370.5 569.4,371.5 569.5,372.4 569.5,374.5 569.5,377.5 569.5,378.5 569.5,383.5 569.5,385.5 569.5,386.5 569.5,390.5 569.5,391.5 569.4,392.5 569.5,393.5 569.4,396.6 569.5,397.5 569.6,399.5 569.4,400.5 569.6,402.5 570.4,318.4 570.5,320.5 570.5,323.4 570.5,325.5 570.5,326.5 570.6,328.6 570.5,329.6 570.5,330.6 570.6,331.5 570.4,332.4 570.6,333.5 570.4,335.4 570.5,336.4 570.5,337.6 570.5,339.6 570.5,340.5 570.5,342.4 570.5,343.4 570.5,344.6 570.5,345.5 570.5,346.6 570.5,347.5 570.5,349.6 570.5,350.5 570.5,352.5 570.5,353.6 570.5,354.5 570.5,357.5 570.5,359.5 570.5,360.6 570.5,361.5 570.6,364.4 570.4,366.5 570.5,367.5 570.5,368.6 570.5,369.5 570.5,370.6 570.6,371.5 570.4,372.5 570.5,373.5 570.4,374.5 570.6,375.6 570.5,376.5 570.6,379.5 570.5,380.4 570.5,381.5 570.5,382.5 570.6,383.5 570.5,384.6 570.5,385.6 570.6,387.5 570.5,388.5 570.5,391.5 570.6,393.5 570.6,394.5 570.6,395.5 570.5,396.6 570.6,397.5 570.6,398.5 570.6,399.6 570.5,400.5 570.4,401.5 570.5,402.6 570.5,406.4 571.5,322.5 571.5,323.5 571.6,326.6 571.5,327.4 571.5,328.5 571.5,329.5 571.5,330.5 571.5,332.5 571.5,334.5 571.5,335.5 571.5,337.6 571.5,338.4 571.4,339.5 571.5,340.5 571.5,341.4 571.5,342.4 571.5,343.5 571.5,344.5 571.6,345.4 571.5,346.5 571.6,348.5 571.5,349.5 571.6,350.5 571.5,351.5 571.5,353.4 571.6,354.4 571.6,355.5 571.4,359.5 571.5,361.5 571.5,362.5 571.6,363.5 571.5,365.5 571.6,367.5 571.5,368.5 571.5,370.5 571.5,371.6 571.5,372.6 571.6,374.5 571.5,375.4 571.6,377.5 571.5,380.4 571.4,381.5 571.5,383.5 571.5,384.4 571.5,386.4 571.5,387.5 571.5,388.5 571.5,389.5 571.4,390.4 571.6,391.5 571.5,392.5 571.5,394.5 571.4,395.5 571.6,397.5 571.5,398.5 571.5,399.5 571.6,400.5 571.6,401.5 571.5,402.5 571.5,403.5 571.4,404.6 571.4,406.4 571.4,409.6 571.6,410.5 572.6,318.5 572.5,323.4 572.6,324.6 572.5,325.5 572.5,326.4 572.5,327.4 572.5,328.5 572.5,330.6 572.5,331.5 572.6,333.5 572.5,334.5 572.5,336.5 572.6,338.4 572.5,342.5 572.5,343.5 572.5,344.5 572.5,345.4 572.5,346.5 572.5,347.4 572.5,348.5 572.5,349.5 572.5,350.5 572.5,353.5 572.5,356.5 572.5,358.5 572.5,359.5 572.6,360.5 572.4,361.5 572.5,362.5 572.5,365.5 572.5,369.4 572.5,370.5 572.5,371.5 572.5,372.5 572.5,373.4 572.5,374.6 572.5,375.6 572.5,376.5 572.5,378.5 572.5,379.5 572.5,380.5 572.5,381.5 572.5,382.5 572.5,383.5 572.5,385.4 572.5,386.5 572.5,387.5 572.5,389.5 572.5,390.6 572.5,392.5 572.6,393.5 572.6,395.5 572.4,398.5 572.6,401.6 573.5,323.5 573.5,326.5 573.6,329.5 573.4,330.6 573.5,333.6 573.6,335.6 573.4,336.5 573.5,342.5 573.5,347.5 573.6,349.5 573.5,352.4 573.5,353.5 573.6,357.5 573.4,359.4 573.5,361.5 573.5,362.5 573.6,363.6 573.5,364.6 573.4,366.5 573.5,367.4 573.5,369.5 573.6,370.4 573.5,371.5 573.5,372.5 573.5,373.5 573.5,374.4 573.6,376.4 573.4,377.4 573.5,380.6 573.6,381.4 573.5,384.6 573.5,385.5 573.5,389.4 573.6,390.5 573.5,393.5 573.6,395.5 573.5,396.5 573.5,397.5 573.5,399.5 574.5,328.4 574.6,333.5 574.5,335.5 574.6,337.5 574.6,339.5 574.6,340.4 574.4,342.5 574.5,343.5 574.5,344.5 574.5,348.6 574.5,350.5 574.5,352.4 574.5,354.4 574.5,355.5 574.6,356.5 574.5,357.4 574.5,358.5 574.5,359.5 574.5,361.5 574.4,363.5 574.5,364.6 574.4,365.5 574.5,366.6 574.6,368.4 574.5,371.4 574.5,372.4 574.5,373.6 574.6,376.5 574.5,377.4 574.5,379.4 574.5,381.4 574.5,386.4 574.5,387.5 574.4,388.4 574.4,390.5 574.5,393.5 575.5,329.5 575.5,333.5 575.5,334.5 575.4,337.6 575.5,339.4 575.5,340.5 575.5,341.5 575.5,342.6 575.6,343.4 575.5,345.5 575.5,347.5 575.4,349.6 575.5,350.5 575.5,351.5 575.5,352.4 575.5,353.5 575.6,354.5 575.5,355.5 575.5,356.4 575.4,357.5 575.6,358.5 575.5,359.5 575.4,360.5 575.5,361.5 575.4,362.4 575.5,363.5 575.5,365.5 575.5,366.5 575.5,367.5 575.5,368.4 575.5,369.5 575.5,370.5 575.4,371.5 575.5,372.6 575.5,373.6 575.6,374.5 575.6,376.5 575.4,380.6 575.4,381.5 575.5,382.5 575.4,383.5 575.5,384.5 575.6,385.5 575.5,387.5 575.6,388.5 575.5,389.5 575.5,391.6 575.5,393.6 576.4,334.5 576.6,338.5 576.6,339.5 576.4,340.4 576.5,341.5 576.4,342.6 576.6,343.5 576.6,345.5 576.5,346.5 576.6,348.5 576.4,349.4 576.5,350.4 576.6,351.5 576.4,353.5 576.4,354.5 576.5,357.5 576.5,358.5 576.5,359.5 576.5,360.5 576.4,361.5 576.5,362.5 576.6,363.5 576.5,365.5 576.6,366.5 576.5,367.5 576.5,368.5 576.5,370.5 576.5,371.4 576.5,374.4 576.5,376.5 576.6,378.5 576.4,379.5 576.5,380.6 576.4,382.6 576.6,384.5 577.5,340.4 577.5,341.5 577.5,342.5 577.5,343.5 577.4,344.6 577.5,345.5 577.5,349.6 577.5,350.5 577.5,351.4 577.6,352.5 577.6,354.4 577.5,355.4 577.5,356.5 577.6,357.5 577.5,358.5 577.5,360.4 577.5,364.6 577.6,366.5 577.6,368.6 577.5,369.4 577.6,370.5 577.6,374.4 577.6,376.5 577.5,377.5 577.4,378.5 577.5,379.4 577.6,382.4 577.6,383.5 577.5,384.5 578.4,338.5 578.5,339.5 578.5,340.4 578.5,341.4 578.5,343.4 578.6,345.5 578.5,353.5 578.6,354.6 578.4,355.5 578.4,358.4 578.4,359.5 578.5,360.6 578.6,361.6 578.5,362.5 578.5,363.5 578.5,364.4 578.5,365.4 578.6,366.6 578.6,367.5 578.5,369.5 578.5,370.6 578.5,373.6 578.6,374.5 578.5,375.6 578.4,376.6 578.6,378.4 578.5,381.4 578.6,382.5 578.5,383.6 578.5,385.6 578.4,386.5 578.6,389.4 579.5,332.6 579.4,333.5 579.4,338.5 579.4,339.5 579.6,341.5 579.5,342.4 579.6,343.5 579.6,344.6 579.5,345.6 579.5,347.4 579.6,349.5 579.5,351.6 579.5,352.5 579.5,354.5 579.5,355.6 579.6,357.5 579.4,358.5 579.4,359.5 579.6,360.6 579.6,361.5 579.5,362.5 579.5,365.4 579.5,366.5 579.5,367.5 579.4,368.4 579.4,370.5 579.4,371.4 579.5,372.5 579.5,373.4 579.5,376.5 579.5,379.6 579.5,380.6 579.5,383.5 579.4,385.5 579.5,386.5 579.5,387.5 579.5,388.6 579.6,389.5 579.4,390.5 579.4,391.5 579.4,393.4 579.4,394.4 579.4,395.5 579.4,397.5 579.5,398.5 580.5,333.4 580.6,334.5 580.5,336.5 580.5,339.5 580.5,344.5 580.5,345.5 580.4,347.6 580.6,348.5 580.5,349.5 580.6,350.5 580.5,353.4 580.5,354.5 580.5,357.5 580.6,358.6 580.5,360.5 580.4,362.6 580.5,365.5 580.6,369.5 580.6,371.5 580.5,373.5 580.5,378.5 580.5,380.5 580.5,382.5 580.4,386.5 580.5,387.5 580.5,388.5 580.5,390.5 580.5,391.5 580.5,392.5 580.4,393.6 580.5,395.5 581.4,335.4 581.4,337.5 581.6,338.4 581.4,340.5 581.6,341.5 581.4,342.5 581.5,343.5 581.5,345.5 581.6,347.5 581.5,348.5 581.5,349.4 581.4,352.4 581.6,355.5 581.5,361.4 581.5,362.5 581.6,364.5 581.5,365.5 581.6,367.4 581.6,368.6 581.5,369.5 581.4,370.6 581.5,371.5 581.5,375.5 581.5,376.6 581.5,377.5 581.5,378.6 581.6,380.6 581.6,382.5 581.4,385.6 581.5,387.4 582.5,336.6 582.5,337.5 582.6,338.5 582.5,340.4 582.6,342.5 582.5,343.5 582.5,346.5 582.5,347.6 582.5,348.6 582.5,350.6 582.5,352.5 582.5,353.6 582.5,355.5 582.5,356.5 582.5,357.5 582.5,358.4 582.5,359.4 582.5,361.5 582.5,364.5 582.6,365.5 582.6,367.5 582.5,372.5 582.5,373.5 582.5,376.6 582.5,378.6 582.5,379.5 582.5,381.5 583.5,334.5 583.5,335.5 583.5,336.6 583.5,337.4 583.6,339.4 583.5,340.6 583.6,341.5 583.6,342.5 583.6,343.6 583.6,344.5 583.5,345.4 583.5,346.5 583.5,347.5 583.5,348.5 583.5,349.5 583.5,350.5 583.4,351.4 583.5,352.5 583.4,354.5 583.4,355.4 583.6,356.6 583.4,359.6 583.4,360.5 583.5,363.6 583.5,364.5 583.6,366.5 583.6,367.5 583.4,368.5 583.5,369.5 583.5,370.5 583.5,371.5 583.4,373.6 583.5,375.5 584.5,342.6 584.5,343.5 584.5,345.5 584.4,346.4 584.5,348.5 584.5,351.5 584.5,353.4 584.5,354.5 584.4,355.5 584.5,363.4 584.5,364.5 584.5,365.5 584.4,366.6 584.4,367.5 584.6,372.4 584.5,373.6 584.6,374.5 584.5,375.4 584.4,376.6 585.5,334.5 585.5,335.6 585.5,337.5 585.4,339.5 585.6,340.5 585.6,341.6 585.5,344.5 585.6,345.5 585.4,346.5 585.5,347.5 585.4,348.5 585.5,350.5 585.4,351.5 585.5,352.5 585.5,355.5 585.6,356.4 585.5,357.5 585.5,358.5 585.5,359.5 585.5,360.5 585.4,364.5 585.5,367.5 585.5,369.5 585.4,370.4 585.4,371.6 585.6,372.5 586.5,334.5 586.5,335.5 586.5,336.5 586.5,340.6 586.6,342.5 586.5,343.5 586.6,345.5 586.5,346.5 586.4,347.5 586.5,348.4 586.6,350.5 586.5,351.6 586.5,352.6 586.6,353.4 586.5,355.5 586.5,356.5 586.5,358.5 586.4,359.5 586.6,361.5 586.5,362.5 586.5,363.5 586.5,364.5 586.5,365.4 586.4,366.6 586.6,368.5 586.4,370.5 587.5,335.5 587.5,336.5 587.6,337.6 587.4,339.5 587.4,340.6 587.5,341.6 587.4,342.6 587.5,343.5 587.5,344.5 587.6,345.4 587.6,347.4 587.5,348.5 587.5,349.5 587.5,351.5 587.6,352.6 587.5,356.4 587.5,357.5 587.6,358.5 587.5,359.5 587.5,360.4 587.5,361.5 587.5,362.6 587.4,363.6 587.5,364.6 587.5,365.5 587.6,366.6 587.5,367.4 587.6,368.5 587.5,369.5 587.5,370.5 587.6,375.5 588.6,340.5 588.5,342.4 588.6,343.5 588.4,347.6 588.6,348.4 588.5,349.5 588.5,350.4 588.4,351.5 588.4,354.4 588.5,356.5 588.5,357.5 588.6,359.5 588.5,360.5 588.5,362.5 588.4,364.5 588.5,368.5 588.5,369.4 588.6,371.4 588.5,372.4 588.5,373.5 588.5,377.5 589.5,346.6 589.5,349.5 589.6,351.5 589.5,352.4 589.5,353.5 589.5,354.5 589.5,355.5 589.5,356.5 589.5,357.5 589.6,358.6 589.6,360.4 589.5,362.5 589.5,363.6 589.5,365.5 589.5,367.4 589.5,370.4 589.6,371.5 589.4,373.6 589.5,374.6 589.5,377.5 590.4,345.5 590.6,347.5 590.4,348.5 590.5,349.4 590.5,351.5 590.5,352.4 590.4,356.6 590.5,357.4 590.4,359.5 590.5,360.6 590.4,361.6 590.5,362.5 590.6,363.5 590.5,364.5 590.5,366.5 590.5,367.5 590.4,368.5 590.5,369.5 590.5,371.6 591.5,345.4 591.5,348.5 591.6,349.5 591.5,351.4 591.6,353.5 591.5,354.6 591.5,355.6 591.6,356.4 591.6,358.4 591.5,359.5 591.4,360.5 591.4,361.4 591.5,362.5 591.4,363.5 591.5,364.5 591.5,365.5 591.4,367.6 591.4,369.4 591.5,371.5 591.5,372.4 591.6,373.5 591.4,374.5 591.4,377.5 591.4,379.5 592.4,350.5 592.4,351.6 592.5,352.6 592.6,356.6 592.6,357.5 592.4,358.5 592.4,359.5 592.5,360.5 592.5,361.5 592.4,362.4 592.5,363.6 592.4,364.5 592.5,365.5 592.4,366.5 592.5,370.5 592.5,372.6 592.4,373.5 592.4,374.5 592.6,375.5 592.4,377.5 592.4,379.5 592.5,380.5 592.6,382.5 592.5,383.6 593.5,361.5 593.4,363.6 593.5,364.6 593.6,369.6 593.4,371.5 593.6,372.5 593.5,374.5 593.5,383.4 593.6,385.5 593.5,390.4 593.4,391.5 593.5,393.4 593.4,394.5 593.5,400.5 594.6,364.6 594.5,365.6 594.6,370.4 594.5,373.6 594.4,375.5 594.4,377.6 594.6,378.5 594.5,379.5 594.5,381.5 594.5,384.6 594.5,385.5 594.4,386.5 594.5,387.5 594.6,389.4 594.5,393.5 594.5,395.6 594.5,402.5 594.6,404.4 594.5,406.6 595.5,366.6 595.5,370.5 595.5,372.4 595.5,374.5 595.5,375.5 595.5,376.4 595.4,378.5 595.4,379.5 595.5,381.5 595.5,384.5 595.6,385.5 595.5,389.5 595.5,390.5 595.5,391.5 595.5,392.6 595.6,394.4 595.5,396.5 595.5,398.6 595.5,399.5 595.5,400.5 595.5,402.5 595.5,403.4 595.5,406.5 595.5,407.5 595.5,408.5 595.4,412.5 595.5,413.5 596.5,368.5 596.5,369.5 596.5,370.4 596.5,371.4 596.5,373.5 596.5,375.4 596.5,382.5 596.4,387.5 596.4,388.6 596.5,389.5 596.4,390.5 596.5,392.5 596.5,393.5 596.5,394.5 596.5,395.5 596.5,396.5 596.5,398.4 596.5,399.5 596.6,401.5 596.5,403.4 596.5,404.5 596.6,405.4 596.5,406.5 596.5,411.6 596.6,412.5 596.5,413.5 596.4,415.5 597.6,367.5 597.5,372.5 597.5,379.5 597.6,383.5 597.5,386.5 597.5,389.5 597.5,396.4 597.5,399.5 597.5,404.5 597.5,405.6 597.5,406.6 597.5,408.5 597.6,409.5 597.5,413.5 597.4,414.5 597.5,419.5 598.5,362.5 598.5,368.5 598.6,370.4 598.5,371.5 598.4,372.5 598.5,373.4 598.4,375.6 598.5,379.5 598.4,380.5 598.5,382.5 598.5,383.5 598.4,385.5 598.4,386.6 598.5,387.5 598.6,389.5 598.4,391.5 598.5,394.5 598.6,400.5 598.6,402.5 598.5,408.5 598.5,409.5 598.5,410.5 598.4,411.5 598.5,412.4 598.5,413.4 598.6,414.5 598.6,415.5 598.4,416.5 598.5,418.6 598.5,420.5 599.5,364.4 599.5,367.4 599.6,369.6 599.5,370.5 599.4,371.6 599.6,373.5 599.5,379.4 599.4,380.6 599.5,382.4 599.5,383.4 599.5,385.4 599.5,386.5 599.5,387.6 599.5,388.5 599.6,389.5 599.4,390.5 599.5,391.4 599.5,393.5 599.6,394.5 599.6,397.4 599.5,401.4 599.6,402.5 599.5,405.5 599.5,407.5 599.6,408.5 599.5,409.6 599.5,412.5 600.5,365.4 600.5,367.5 600.6,371.5 600.5,372.4 600.6,374.5 600.4,375.6 600.6,377.5 600.5,379.4 600.5,380.4 600.4,381.4 600.5,382.6 600.6,383.4 600.5,387.5 600.5,390.5 600.5,392.6 600.5,393.5 600.4,398.5 600.5,399.6 600.5,400.5 600.5,403.5 600.5,404.5 600.5,405.5 600.5,406.5 600.5,408.6 600.6,409.5 601.5,368.5 601.5,369.6 601.4,371.5 601.5,372.5 601.5,377.5 601.6,379.4 601.5,380.5 601.5,381.5 601.5,385.5 601.5,387.6 601.4,388.6 601.5,389.5 601.5,393.6 601.5,394.5 601.5,396.5 601.5,397.5 601.5,398.5 601.5,399.5 601.5,400.4 601.5,401.4 601.5,403.5 601.5,407.5 601.4,408.5 601.5,409.6 601.5,411.5 601.5,412.4 601.5,413.4 601.4,415.5 601.5,417.5 601.5,418.5 602.5,356.5 602.6,358.5 602.5,360.5 602.6,361.5 602.5,362.5 602.5,363.5 602.5,364.6 602.6,366.5 602.4,367.4 602.5,368.5 602.5,369.5 602.5,370.6 602.5,371.5 602.5,374.5 602.6,375.5 602.5,376.4 602.6,377.5 602.6,379.5 602.5,381.6 602.5,382.5 602.5,383.5 602.4,384.4 602.6,385.5 602.5,386.5 602.4,387.5 602.5,388.5 602.4,389.6 602.4,390.4 602.5,391.5 602.5,392.5 602.5,394.5 602.5,395.5 602.5,396.5 602.5,397.6 602.5,398.5 602.4,399.5 602.4,400.5 602.4,403.6 602.5,404.5 602.5,405.4 602.5,406.6 602.4,407.5 602.5,408.5 602.5,409.5 602.5,411.5 602.5,413.5 602.4,414.5 602.5,415.5 602.4,416.5 602.5,417.4 602.5,418.4 602.4,419.5 602.5,420.5 602.4,424.5 603.5,363.5 603.6,364.6 603.5,365.6 603.5,367.5 603.5,368.5 603.5,369.5 603.4,376.5 603.5,377.5 603.5,379.6 603.6,380.5 603.4,381.5 603.5,382.5 603.5,383.4 603.5,384.5 603.5,386.5 603.4,387.6 603.5,390.6 603.4,392.5 603.5,393.6 603.5,394.5 603.5,396.5 603.5,398.4 603.6,399.5 603.4,400.5 603.6,402.4 603.5,404.5 603.6,407.5 603.5,411.5 603.4,412.4 603.6,414.5 603.5,416.6 604.6,353.6 604.5,354.5 604.5,357.4 604.5,359.5 604.5,360.6 604.4,361.5 604.5,362.5 604.5,363.6 604.5,364.5 604.4,365.5 604.4,366.5 604.5,367.5 604.6,368.5 604.4,369.5 604.5,371.5 604.5,372.4 604.6,374.5 604.6,375.5 604.5,376.5 604.5,377.4 604.5,378.5 604.5,379.5 604.5,380.5 604.4,381.5 604.5,383.5 604.5,385.5 604.4,386.6 604.4,388.5 604.5,389.6 604.4,390.5 604.5,391.5 604.6,392.5 604.4,393.5 604.4,395.5 604.6,396.6 604.6,397.6 604.5,398.5 604.5,399.4 604.5,400.5 604.5,401.5 604.6,402.5 604.4,403.5 604.5,404.6 604.5,406.6 604.5,407.5 605.4,357.5 605.4,358.5 605.4,359.4 605.5,363.4 605.5,365.5 605.5,366.4 605.5,367.5 605.5,368.6 605.4,369.5 605.5,370.5 605.5,372.5 605.5,376.6 605.5,380.4 605.5,381.4 605.5,382.5 605.4,385.5 605.5,386.5 605.6,387.5 605.5,388.5 605.5,389.4 605.4,390.6 605.6,391.5 605.5,392.5 605.5,393.5 605.5,394.6 605.4,397.5 606.6,355.5 606.5,356.5 606.5,361.4 606.5,363.5 606.5,364.5 606.5,366.5 606.5,368.5 606.4,369.5 606.6,370.6 606.6,371.5 606.5,372.6 606.5,373.5 606.5,381.5 606.5,382.5 606.6,384.5 606.5,385.5 606.5,386.5 606.5,390.5 606.4,393.5 606.6,394.5 607.5,360.6 607.6,361.5 607.5,363.6 607.5,364.4 607.5,365.4 607.4,366.6 607.5,367.5 607.5,369.5 607.5,371.5 607.5,373.5 607.5,374.4 607.5,376.5 607.5,378.5 607.4,379.5 607.5,380.6 607.4,382.5 607.6,384.6 607.5,385.4 607.6,386.5 607.5,387.6 607.4,388.4 607.5,391.4 607.5,392.5 607.5,393.4 607.5,394.5 608.5,356.5 608.6,362.5 608.5,364.4 608.5,365.5 608.5,366.6 608.5,367.5 608.5,368.5 608.5,372.5 608.6,374.5 608.4,376.5 608.5,380.5 608.5,381.5 608.5,383.5 608.5,385.5 608.5,386.5 608.5,387.5 609.5,355.5 609.5,358.5 609.5,359.5 609.5,360.5 609.5,362.5 609.6,364.5 609.5,366.4 609.6,368.5 609.5,369.6 609.4,372.5 609.5,373.5 609.5,374.5 609.4,375.5 609.5,379.5 609.5,381.6 609.4,382.4 609.5,385.5 609.5,386.5 609.5,387.6 610.5,355.5 610.5,356.5 610.4,361.5 610.5,362.5 610.6,363.6 610.6,364.5 610.4,367.5 610.4,368.6 610.5,369.5 610.4,373.5 610.4,375.5 610.5,377.4 610.4,378.4 610.4,379.5 610.5,380.5 610.4,381.5 610.4,383.4 610.4,384.5 610.4,385.5 610.6,386.5 610.5,387.5 610.5,388.4 610.5,389.5 610.5,392.5 611.5,357.5 611.5,358.6 611.5,360.6 611.6,361.4 611.6,365.5 611.6,366.4 611.5,367.5 611.4,368.6 611.6,369.6 611.5,371.5 611.5,372.4 611.5,373.4 611.5,375.6 611.5,376.5 611.5,377.5 611.5,380.5 611.5,381.6 611.6,383.5 611.5,384.4 611.5,386.6 611.6,388.5 611.5,389.5 611.5,391.6 611.6,392.5 611.6,393.5 611.4,394.5 612.4,356.5 612.6,360.6 612.5,361.6 612.5,362.6 612.5,365.5 612.6,366.5 612.6,370.5 612.6,373.4 612.4,376.5 612.5,377.4 612.6,379.4 612.5,380.5 612.5,381.5 612.6,382.5 612.5,385.5 612.5,388.5 612.4,390.6 613.5,360.5 613.5,366.5 613.5,368.6 613.5,369.4 613.5,377.5 613.5,378.4 613.5,379.5 613.6,385.6 613.5,387.6 613.4,389.4 613.5,392.6 613.6,393.5 613.5,394.5 613.5,395.4 614.5,358.4 614.4,361.5 614.6,362.5 614.5,363.5 614.5,364.5 614.4,365.6 614.5,366.5 614.5,367.6 614.5,368.5 614.5,369.5 614.5,370.5 614.5,371.5 614.4,372.6 614.5,373.4 614.5,374.5 614.5,378.5 614.5,379.4 614.5,380.5 614.4,381.5 614.5,384.5 614.4,385.5 614.5,386.5 614.5,387.5 614.5,388.5 614.4,389.5 614.6,390.4 614.4,391.5 614.5,392.5 614.5,393.5 614.5,394.4 614.4,395.5 614.5,396.5 614.4,398.5 614.6,400.5 615.5,353.5 615.6,359.5 615.5,360.5 615.4,362.4 615.5,363.4 615.5,364.5 615.5,366.5 615.5,367.5 615.5,368.5 615.5,371.6 615.6,372.6 615.5,374.5 615.5,376.6 615.5,377.4 615.5,379.6 615.5,380.5 615.4,382.5 615.5,386.5 615.5,388.5 615.4,389.6 615.4,390.5 615.5,391.5 615.6,392.6 615.6,393.5 615.5,394.5 615.5,396.5 615.5,398.5 615.5,401.5 615.6,402.5 615.5,404.5 615.6,405.6 616.5,360.5 616.5,361.5 616.5,362.5 616.5,363.5 616.6,364.5 616.5,365.5 616.5,366.5 616.4,367.5 616.5,369.5 616.5,370.6 616.6,373.5 616.5,374.6 616.5,376.5 616.6,378.5 616.5,379.5 616.5,380.5 616.6,383.4 616.5,385.5 616.6,386.6 616.6,387.5 616.6,388.6 616.5,389.5 616.5,390.5 616.5,392.5 616.4,394.4 616.5,395.6 616.6,397.4 616.4,401.5 616.5,403.5 617.5,363.5 617.5,367.5 617.4,371.6 617.5,372.5 617.5,373.4 617.5,377.4 617.5,379.5 617.6,380.5 617.4,384.5 617.4,385.6 617.5,386.5 617.5,387.4 617.5,389.4 617.6,390.5 617.5,391.6 617.5,392.5 617.4,393.6 617.4,394.5 617.5,396.4 617.5,397.5 617.5,398.6 617.6,401.5 617.4,403.5 617.4,406.4 618.6,372.5 618.5,375.5 618.5,377.5 618.5,378.5 618.4,381.5 618.5,382.5 618.5,383.5 618.5,386.5 618.5,387.6 618.6,388.5 618.6,390.5 618.4,391.4 618.6,393.5 618.6,394.5 618.5,395.5 618.6,396.5 618.4,398.5 618.5,400.5 618.4,401.5 618.5,403.5 618.5,404.4 618.5,405.4 618.5,406.5 618.4,407.4 618.5,408.5 618.4,409.5 619.5,384.6 619.5,392.5 619.4,393.5 619.4,394.4 619.5,396.5 619.4,397.5 619.5,399.5 619.5,401.6 619.5,402.4 619.5,403.4 619.5,404.6 619.5,405.5 619.5,406.5 619.5,409.4 619.5,411.5 619.6,413.5 619.5,416.5 620.5,391.5 620.6,394.4 620.4,396.5 620.4,397.5 620.6,398.5 620.5,402.5 620.5,403.4 620.4,404.6 620.5,405.6 620.6,406.6 620.4,410.4 620.6,411.5 620.5,412.5 620.4,414.4 620.5,415.5 621.5,386.5 621.5,388.4 621.5,389.5 621.5,392.6 621.5,393.5 621.5,394.5 621.5,395.5 621.5,396.5 621.5,397.5 621.5,398.5 621.5,401.6 621.4,402.6 621.6,403.6 621.5,404.5 621.5,405.5 621.5,406.6 621.5,408.5 621.5,410.5 621.5,411.4 621.4,412.5 621.5,414.5 621.5,416.5 621.5,418.6 622.5,389.6 622.6,393.6 622.5,395.5 622.5,397.6 622.6,398.5 622.5,399.5 622.5,400.4 622.5,401.4 622.4,402.4 622.6,405.5 622.4,406.5 622.5,408.4 622.5,409.4 622.4,410.6 622.4,415.5 622.4,417.5 623.5,387.6 623.4,390.5 623.5,391.5 623.5,396.5 623.5,397.5 623.5,398.5 623.6,399.5 623.6,400.5 623.5,401.5 623.5,407.5 623.4,409.6 623.5,410.5 623.5,413.5 623.4,414.5 623.4,415.5 623.5,417.5 623.6,418.6 624.4,384.5 624.4,385.5 624.5,386.4 624.4,387.4 624.5,388.5 624.5,389.5 624.5,390.6 624.6,391.5 624.5,392.4 624.5,393.5 624.4,394.6 624.5,395.5 624.4,396.6 624.5,397.5 624.5,399.5 624.5,401.5 624.6,402.4 624.5,403.5 624.5,405.5 624.4,407.5 624.4,408.5 624.5,409.4 624.6,410.5 624.6,411.4 624.5,413.4 625.5,391.6 625.5,392.5 625.4,396.5 625.5,397.5 625.5,398.5 625.5,399.6 625.4,401.5 625.6,402.5 625.5,405.5 625.5,406.5 625.5,407.4 625.5,411.5 625.4,412.5 625.5,413.6 625.5,414.4 625.6,416.5 626.4,384.5 626.6,385.5 626.4,386.5 626.6,387.6 626.5,390.5 626.4,392.5 626.5,393.5 626.5,394.5 626.4,395.4 626.5,396.5 626.5,397.5 626.5,400.5 626.4,401.4 626.5,403.5 626.5,405.6 626.5,406.5 626.5,407.5 626.6,408.5 626.6,411.4 626.5,412.5 626.4,413.6 626.5,415.5 626.4,416.6 626.5,418.4 627.4,378.5 627.5,379.5 627.5,381.5 627.5,382.5 627.5,383.5 627.6,384.4 627.6,387.4 627.5,389.5 627.6,391.4 627.5,393.5 627.5,394.5 627.5,395.5 627.6,396.5 627.4,398.6 627.5,399.5 627.6,401.5 627.5,404.6 627.5,409.5 627.5,415.5 628.5,379.4 628.6,380.6 628.5,382.5 628.5,383.4 628.4,384.5 628.5,385.6 628.5,386.5 628.4,387.5 628.6,391.5 628.5,393.5 628.6,394.4 628.5,395.5 628.5,398.5 628.5,399.4 628.5,400.5 628.6,401.5 628.5,402.5 628.6,403.6 628.5,405.4 628.6,407.5 628.4,408.5 628.5,409.5 628.5,410.6 629.5,379.5 629.4,380.5 629.6,389.5 629.5,390.4 629.5,395.5 629.5,405.4 629.4,407.5 629.6,408.5 629.4,409.5 629.4,413.5 630.5,377.5 630.5,382.5 630.5,383.6 630.5,384.5 630.5,385.6 630.5,386.6 630.5,389.5 630.4,390.5 630.4,391.5 630.6,392.5 630.5,394.4 630.6,395.5 630.5,397.5 630.5,399.5 630.6,400.6 630.5,401.6 630.5,402.6 630.5,403.6 630.4,405.5 630.6,407.5 630.5,408.4 630.5,409.5 630.5,412.5 630.5,413.6 630.6,414.5 630.6,416.6 630.5,418.4 631.5,385.6 631.4,387.5 631.5,388.5 631.6,389.5 631.5,390.6 631.5,391.6 631.4,392.4 631.5,394.5 631.6,395.5 631.5,396.5 631.4,397.6 631.6,398.5 631.5,399.6 631.5,400.5 631.5,401.4 631.5,403.4 631.4,405.6 631.4,406.5 631.4,407.4 631.5,408.6 631.5,409.6 631.5,410.5 631.5,411.4 631.5,412.5 632.5,381.5 632.6,388.5 632.5,390.4 632.5,391.6 632.6,392.5 632.5,395.6 632.4,399.5 632.5,404.4 632.4,405.4 632.4,406.5 632.5,407.5 632.5,409.5 633.5,379.5 633.5,380.5 633.4,386.5 633.5,387.5 633.5,388.5 633.4,389.5 633.5,390.5 633.6,393.5 633.6,394.5 633.6,395.6 633.4,396.4 633.4,397.5 633.4,398.5 633.5,400.5 633.5,402.5 633.4,403.6 633.6,404.5 633.5,406.6 633.6,407.4 633.5,408.5 633.6,409.4 633.6,410.5 633.5,413.5 634.5,377.5 634.5,382.6 634.5,383.6 634.5,384.5 634.6,385.5 634.5,386.5 634.5,388.5 634.4,390.5 634.5,391.5 634.5,396.5 634.5,397.5 634.5,400.5 634.5,401.5 634.6,402.6 634.5,403.5 634.5,404.4 634.5,407.6 634.4,408.5 634.5,410.5 634.4,411.6 634.5,412.4 634.4,413.5 634.6,415.5 634.5,416.5 634.4,417.5 634.5,419.5 635.4,379.5 635.5,383.5 635.4,388.4 635.5,389.5 635.6,390.5 635.5,393.5 635.5,396.4 635.6,398.4 635.5,400.5 635.5,401.6 635.5,403.5 635.5,404.5 635.5,406.5 635.5,407.5 635.4,409.6 635.5,410.6 635.6,417.6 635.6,418.6 635.5,419.5 635.5,420.4 635.5,421.5 636.4,382.5 636.4,383.5 636.5,384.5 636.5,385.5 636.5,386.5 636.6,387.5 636.5,389.6 636.5,391.5 636.4,392.5 636.5,394.5 636.6,396.4 636.5,399.5 636.4,400.4 636.6,401.5 636.5,402.4 636.5,405.5 636.4,406.6 636.4,408.5 636.5,409.6 636.4,410.6 636.5,412.5 636.6,415.5 636.5,416.5 636.6,417.4 636.5,418.6 636.4,420.4 636.5,422.5 637.4,383.6 637.5,384.5 637.5,385.4 637.5,387.6 637.6,389.6 637.5,390.5 637.5,391.4 637.4,393.6 637.5,395.6 637.6,396.5 637.5,397.5 637.4,398.6 637.5,399.5 637.5,402.5 637.4,403.5 637.5,404.5 637.5,405.5 637.5,407.6 637.4,408.5 637.6,410.5 637.5,411.6 637.5,413.5 637.5,414.5 637.5,416.5 637.5,417.5 637.5,420.4 637.5,421.6 637.6,422.4 638.5,385.4 638.5,387.5 638.6,389.5 638.5,394.5 638.5,399.6 638.5,406.4 638.5,413.5 638.4,416.5 638.5,417.4 638.4,418.5 638.6,423.5 639.5,381.5 639.6,382.5 639.6,386.5 639.5,387.6 639.5,388.6 639.6,389.5 639.5,390.5 639.5,391.5 639.5,392.5 639.4,395.4 639.5,396.6 639.4,399.5 639.5,400.5 639.5,401.5 639.5,403.5 639.5,404.5 639.5,406.5 639.5,407.5 639.4,415.5 639.4,419.6 640.6,363.6 640.5,365.5 640.5,368.5 640.4,369.5 640.5,370.5 640.5,371.5 640.4,372.6 640.5,373.5 640.5,374.6 640.6,377.5 640.5,378.4 640.5,384.5 640.4,385.5 640.6,388.5 640.5,390.6 640.5,391.6 640.5,392.5 640.5,394.5 640.5,395.5 640.5,398.5 640.4,401.4 641.4,363.4 641.5,364.6 641.5,365.5 641.5,366.6 641.6,367.6 641.5,368.5 641.4,369.4 641.4,370.5 641.5,371.5 641.6,372.5 641.6,373.5 641.5,374.4 641.5,377.6 641.5,379.4 641.5,381.5 641.5,383.5 641.5,384.5 641.5,386.4 641.4,387.5 641.5,389.6 641.5,390.4 641.6,393.5 641.5,394.5 642.5,354.5 642.4,359.5 642.5,360.5 642.5,363.5 642.6,364.5 642.5,365.6 642.5,366.5 642.5,369.5 642.4,370.6 642.5,372.5 642.5,373.5 642.5,375.4 642.4,377.4 642.5,378.4 642.5,379.5 642.6,380.6 642.5,381.5 642.5,383.6 642.5,384.4 642.6,385.4 642.4,388.5 642.5,389.4 643.5,366.5 643.4,367.6 643.5,369.5 643.5,370.5 643.5,371.5 643.5,372.5 643.4,373.6 643.5,374.6 643.6,376.5 643.5,381.6 643.5,382.6 643.6,385.4 643.6,386.4 644.5,357.4 644.5,361.5 644.5,364.5 644.5,366.5 644.5,369.5 644.6,371.4 644.6,372.5 644.5,373.5 644.5,375.5 644.4,379.5 644.4,381.6 645.4,359.4 645.5,360.4 645.5,362.5 645.6,363.5 645.5,365.6 645.5,366.4 645.6,367.5 645.5,368.5 645.5,369.4 645.5,372.4 645.5,374.5 645.5,375.6 645.5,376.4 645.5,378.5 645.6,379.5 645.4,380.5 645.5,381.5 645.4,382.5 645.4,383.5 645.6,384.5 645.4,386.5 645.5,387.5 645.6,389.5 645.4,390.5 646.5,365.6 646.5,367.5 646.5,373.5 646.6,375.6 646.4,376.6 646.5,383.5 646.4,385.5 646.5,388.5 647.5,356.6 647.6,358.5 647.4,360.5 647.5,365.5 647.5,366.5 647.6,367.6 647.5,368.5 647.5,369.5 647.5,370.5 647.4,372.5 647.6,373.5 647.5,376.5 647.5,377.5 647.5,382.6 647.6,385.5 648.5,359.5 648.4,360.5 648.5,362.5 648.6,365.5 648.4,366.4 648.4,367.4 648.5,368.4 648.6,369.4 648.5,370.6 648.5,371.5 648.5,372.5 648.5,373.5 648.5,375.4 648.5,376.6 648.5,377.5 648.5,378.5 648.6,380.5 648.5,381.4 648.5,382.5 649.5,357.4 649.5,359.5 649.6,361.5 649.5,362.5 649.6,364.4 649.5,369.5 649.6,370.5 649.5,371.5 649.5,372.5 649.5,375.5 649.6,376.5 649.5,377.4 649.5,378.4 649.5,380.5 649.6,381.6 649.5,382.5 649.4,384.6 649.5,385.5 650.5,368.6 650.5,369.5 650.4,371.5 650.5,373.5 650.5,376.4 650.4,379.5 650.5,380.5 650.5,382.5 650.5,384.4 650.6,385.5 651.6,363.5 651.5,368.4 651.6,369.5 651.5,371.5 651.5,372.4 651.6,377.5 651.5,378.4 651.5,379.5 651.5,380.6 651.5,381.4 651.6,383.5 651.5,384.4 651.5,387.5 651.5,388.4 652.5,361.6 652.6,362.6 652.6,364.5 652.5,365.4 652.5,366.6 652.5,367.5 652.5,368.4 652.4,369.5 652.4,371.6 652.6,372.5 652.5,373.4 652.5,375.5 652.6,376.5 652.4,377.5 652.5,382.5 652.5,387.6 652.5,390.6 653.5,368.5 653.5,369.6 653.4,370.5 653.4,371.5 653.6,372.5 653.5,374.5 653.5,376.5 653.4,377.4 653.5,379.6 653.5,380.5 653.5,381.4 653.6,382.5 653.5,386.5 653.5,388.5 653.6,389.6 653.6,390.5 654.5,360.5 654.5,362.6 654.6,363.5 654.4,364.6 654.5,365.6 654.4,367.5 654.5,369.5 654.5,372.6 654.5,373.4 654.5,374.5 654.4,376.5 654.5,377.5 654.5,380.5 654.5,381.5 654.5,382.6 654.5,383.4 654.6,384.6 654.5,386.6 654.6,387.5 654.4,389.5 654.6,391.6 654.5,393.5 654.6,395.5 655.6,359.5 655.5,360.4 655.6,361.5 655.5,363.4 655.5,364.5 655.4,365.5 655.5,367.5 655.5,368.5 655.5,369.6 655.6,371.5 655.6,372.6 655.4,374.5 655.5,375.5 655.6,376.6 655.6,379.5 655.5,381.5 655.4,382.4 655.4,383.5 655.5,384.4 655.5,385.5 655.4,387.6 655.5,389.4 656.5,361.5 656.5,364.5 656.5,366.5 656.5,368.5 656.5,371.5 656.5,372.5 656.4,378.4 656.5,381.4 657.5,362.6 657.5,363.4 657.5,364.5 657.4,365.5 657.5,366.5 657.5,368.6 657.5,370.4 657.6,372.5 657.5,373.6 657.6,374.4 657.6,375.4 657.5,377.5 657.4,378.6 657.4,379.4 657.5,382.5 657.4,383.6 657.5,387.4 658.6,365.5 658.5,366.5 658.5,367.4 658.5,368.5 658.4,369.5 658.5,370.5 658.5,371.5 658.6,372.5 658.5,373.6 658.6,374.5 658.5,376.5 658.6,377.6 658.5,378.5 658.5,379.5 658.4,380.6 658.5,381.5 658.6,382.6 658.5,383.4 658.4,384.5 658.4,385.5 659.5,362.5 659.5,365.4 659.6,366.6 659.5,369.6 659.5,370.6 659.5,371.6 659.5,372.5 659.5,373.6 659.5,374.5 659.6,376.5 659.5,377.5 659.6,379.4 659.4,380.4 659.5,381.5 659.5,382.6 659.4,383.6 659.4,384.4 659.5,388.4 660.6,355.4 660.6,357.5 660.5,358.5 660.4,359.4 660.6,361.5 660.5,362.5 660.6,363.5 660.5,364.6 660.5,365.5 660.5,366.5 660.5,367.5 660.5,368.4 660.4,369.5 660.4,370.6 660.5,373.6 660.5,374.4 660.5,375.6 660.5,377.5 660.5,378.4 660.4,379.5 660.6,381.5 660.5,383.6 660.5,384.5 660.4,386.4 660.5,387.5 660.5,388.5 660.5,389.6 660.6,391.5 661.5,359.6 661.6,360.4 661.4,361.5 661.4,362.5 661.4,364.5 661.5,368.6 661.5,370.5 661.6,371.5 661.6,372.5 661.5,374.5 661.6,375.5 661.6,376.4 661.5,382.5 661.5,384.5 661.5,385.4 662.5,357.6 662.5,360.5 662.5,362.4 662.5,363.5 662.5,364.6 662.5,366.4 662.6,369.5 662.5,371.6 662.6,372.4 662.6,373.6 662.5,375.5 662.5,379.5 662.5,380.5 662.4,382.5 663.4,357.6 663.5,361.5 663.5,362.5 663.4,363.6 663.5,365.5 663.6,366.4 663.6,367.5 663.5,368.6 663.5,369.5 663.6,370.5 663.4,371.6 663.5,372.5 663.5,373.6 663.4,374.6 663.5,375.5 663.5,376.5 663.5,377.4 663.5,378.4 663.5,380.5 663.5,381.5 663.4,383.5 663.5,387.6 664.5,355.5 664.5,356.5 664.6,361.6 664.5,365.5 664.6,367.6 664.5,368.5 664.6,370.6 664.5,371.5 664.4,372.4 664.6,373.5 664.4,374.5 664.5,375.6 664.5,376.5 664.5,377.5 664.5,378.5 664.6,379.6 664.5,382.4 664.5,388.4 665.5,351.5 665.4,354.5 665.5,355.5 665.6,356.5 665.6,358.5 665.5,360.5 665.5,361.5 665.5,363.4 665.6,364.5 665.5,367.6 665.5,368.5 665.4,369.6 665.6,370.5 665.5,372.4 665.6,373.5 665.4,374.5 665.5,375.5 665.6,376.5 665.5,377.4 665.5,378.4 665.6,380.5 665.5,381.5 665.6,382.5 665.5,383.5 665.6,385.5 665.6,386.5 665.5,387.6 665.4,388.6 665.4,389.4 665.5,390.5 665.4,391.6 666.6,362.5 666.5,363.5 666.5,364.4 666.5,366.4 666.5,367.4 666.5,368.5 666.6,369.5 666.4,370.4 666.5,371.5 666.6,375.5 666.6,376.6 666.5,377.5 666.5,378.6 666.5,379.5 666.6,381.5 666.5,382.5 666.6,383.5 666.5,384.6 666.6,386.5 666.5,387.4 666.6,388.5 666.5,389.6 666.5,390.5 666.5,391.4 666.4,392.6 666.4,393.5 666.5,394.4 666.5,395.4 666.5,396.5 666.4,397.5 666.4,398.5 667.5,371.5 667.5,372.5 667.5,375.6 667.4,376.5 667.4,377.5 667.5,378.5 667.5,379.6 667.5,380.4 667.6,381.6 667.6,391.5 667.5,392.5 667.5,393.4 667.5,394.6 667.5,395.5 667.4,396.6 667.6,397.6 667.4,398.5 667.6,401.5 667.5,403.5 668.5,377.4 668.4,379.5 668.5,382.5 668.6,383.5 668.4,385.6 668.4,389.5 668.6,391.5 668.6,392.6 668.6,393.5 668.5,394.6 668.4,399.5 669.4,375.6 669.5,379.4 669.6,380.5 669.6,382.5 669.6,384.5 669.5,385.6 669.6,386.5 669.5,387.5 669.5,388.5 669.5,389.6 669.4,390.5 669.5,395.5 669.5,396.5 669.5,397.5 669.5,399.5 669.5,400.6 669.4,401.4 669.4,403.6 670.5,389.5 670.5,390.5 670.4,392.5 670.5,395.5 670.5,402.5 670.5,403.5 671.5,374.5 671.5,375.5 671.5,376.5 671.4,377.5 671.6,379.5 671.6,383.5 671.5,384.4 671.5,386.5 671.4,387.5 671.5,388.5 671.5,390.5 671.4,392.5 671.5,393.5 671.5,395.5 671.5,396.5 671.5,397.5 672.4,368.5 672.6,369.6 672.5,370.5 672.5,371.5 672.5,373.5 672.4,374.5 672.4,375.5 672.6,378.5 672.6,382.5 672.4,383.5 672.5,384.5 672.5,385.5 672.6,386.6 672.6,388.5 672.5,390.4 672.4,393.4 672.5,395.5 673.6,357.5 673.5,358.5 673.5,359.4 673.6,363.5 673.4,364.5 673.5,365.5 673.6,366.5 673.5,367.4 673.4,368.5 673.5,370.5 673.5,372.5 673.5,373.5 673.4,376.5 673.4,377.5 673.6,378.5 673.4,379.5 673.5,381.6 673.5,382.5 673.4,383.6 673.5,384.5 673.5,386.5 673.5,387.5 673.5,388.4 673.5,389.6 673.6,390.5 673.5,393.5 674.5,359.4 674.5,361.5 674.5,362.4 674.4,363.5 674.5,364.5 674.4,366.5 674.5,367.5 674.6,368.5 674.5,371.5 674.4,372.4 674.5,373.5 674.6,374.5 674.5,375.5 674.5,376.5 674.6,377.5 674.5,378.5 674.5,379.5 674.4,381.5 674.5,382.5 674.4,386.5 674.5,390.5 675.4,356.5 675.5,357.4 675.5,358.5 675.6,359.5 675.6,360.4 675.4,361.5 675.5,363.5 675.6,370.5 675.6,373.6 675.5,374.5 675.4,376.5 675.5,377.6 675.5,378.4 675.4,379.4 675.5,382.6 675.5,384.4 675.6,385.5 675.4,387.4 676.4,358.5 676.5,361.5 676.5,362.6 676.5,364.5 676.4,365.6 676.5,366.5 676.5,368.4 676.6,369.5 676.4,370.5 676.4,371.5 676.5,372.5 676.5,373.5 676.4,374.4 676.5,375.4 676.6,383.5 676.5,384.5 676.4,385.6 676.4,386.4 676.5,387.5 676.6,389.5 677.4,354.4 677.4,356.5 677.6,357.6 677.6,359.6 677.5,360.5 677.4,361.5 677.5,362.6 677.4,365.5 677.6,366.4 677.4,369.5 677.5,371.4 677.5,372.5 677.5,373.5 677.6,374.6 677.5,375.5 677.5,377.5 677.5,379.5 677.6,382.5 677.5,383.5 677.5,384.5 677.5,386.5 677.6,388.4 677.5,389.5 677.6,394.5 678.4,351.5 678.5,353.4 678.5,363.5 678.4,365.4 679.4,352.5 679.6,355.5 679.5,356.5 679.6,357.5 679.5,358.5 679.6,359.5 679.6,360.5 679.6,361.5 679.5,362.5 679.5,363.6 679.5,366.4 679.5,367.6 679.5,368.5 679.5,369.5 679.5,370.5 679.5,371.5 679.5,372.5 679.5,373.6 679.5,374.4 679.5,375.5 679.5,376.6 679.5,377.5 679.4,378.5 679.5,379.5 679.5,381.5 679.6,382.5 679.5,383.4 679.5,384.5 679.4,385.5 679.6,387.6 679.5,388.6 680.5,363.4 680.6,365.5 680.5,368.5 680.4,377.5 680.4,381.4 680.5,382.4 681.5,355.5 681.5,356.5 681.4,357.6 681.5,358.5 681.5,359.5 681.5,361.4 681.5,363.5 681.6,365.4 681.4,367.5 681.5,368.6 681.5,370.5 681.5,372.5 681.5,373.5 681.5,374.6 681.5,375.6 681.6,376.4 681.4,379.4 681.6,380.5 681.6,381.4 681.5,382.5 681.6,384.5 681.5,385.5 681.5,386.6 682.5,355.5 682.4,356.5 682.5,359.4 682.5,360.5 682.5,361.5 682.4,362.5 682.5,364.5 682.5,365.4 682.5,366.5 682.6,367.5 682.6,371.5 682.4,372.6 682.6,374.4 682.5,376.4 682.5,377.5 682.4,379.5 682.5,380.5 682.5,381.5 682.5,384.5 682.5,385.4 683.5,355.5 683.4,356.5 683.5,360.5 683.4,361.6 683.5,363.5 683.5,364.5 683.4,365.5 683.5,366.5 683.5,367.6 683.5,368.4 683.5,369.5 683.5,370.4 683.6,371.4 683.5,372.5 683.5,373.4 683.5,374.6 683.5,375.5 683.6,376.5 683.4,377.5 683.6,378.5 683.6,379.5 683.6,380.5 683.4,382.4 683.5,383.5 683.5,384.5 683.5,385.5 683.5,386.4 683.5,387.5 683.4,390.5 683.5,391.6 683.5,393.5 683.5,394.5 684.5,358.5 684.6,361.6 684.5,362.6 684.5,363.5 684.5,365.5 684.5,368.5 684.5,369.5 684.5,370.4 684.5,371.4 684.4,374.6 684.5,375.5 684.5,377.5 684.6,378.5 684.5,382.5 684.6,383.5 684.4,386.6 684.5,387.4 684.4,391.5 684.5,392.4 684.6,393.5 684.6,396.4 684.5,397.5 684.4,398.5 684.5,400.4 684.5,401.5 684.5,402.6 685.4,358.6 685.6,363.5 685.5,369.5 685.4,370.5 685.5,371.4 685.5,382.5 685.5,386.5 685.5,392.5 685.5,394.6 685.6,398.5 685.5,400.5 685.5,401.5 685.5,402.5 685.5,405.5 685.6,406.5 685.4,411.5 686.6,359.6 686.6,364.5 686.4,365.5 686.4,366.4 686.4,367.4 686.4,369.6 686.6,370.5 686.6,371.5 686.4,372.5 686.6,373.5 686.4,374.5 686.5,378.5 686.5,380.4 686.5,381.4 686.5,383.5 686.5,384.4 686.6,385.6 686.5,386.4 686.5,387.5 686.6,389.5 686.5,390.4 686.6,393.5 686.5,394.6 686.4,398.5 686.5,400.5 686.5,402.5 686.5,404.5 686.5,407.6 686.6,411.6 686.6,412.5 686.6,413.5 686.4,417.5 687.6,366.4 687.5,367.5 687.6,368.5 687.5,370.5 687.5,371.4 687.6,372.5 687.5,373.5 687.5,374.6 687.5,375.5 687.5,378.5 687.6,379.6 687.5,380.4 687.5,381.5 687.5,383.6 687.6,386.5 687.5,388.6 687.4,389.6 687.5,391.5 687.6,393.5 687.5,394.5 687.4,395.4 687.5,396.6 687.6,398.4 687.5,402.5 687.4,403.4 687.5,404.5 687.5,405.5 687.4,406.5 687.5,407.5 687.4,408.5 687.5,409.5 687.6,410.5 687.4,411.5 687.5,413.5 688.4,361.5 688.6,364.5 688.5,365.5 688.6,366.4 688.4,368.5 688.5,369.5 688.6,371.6 688.5,372.6 688.5,375.4 688.5,377.5 688.5,378.6 688.6,379.5 688.5,382.5 688.5,385.5 688.5,387.4 688.5,392.5 688.5,393.6 688.5,395.4 688.5,396.5 688.6,397.5 688.5,400.5 688.5,401.5 688.5,402.5 688.4,403.5 688.4,404.6 688.6,406.6 688.4,407.5 688.6,409.5 688.5,410.6 688.6,411.6 688.5,412.6 688.4,413.5 688.5,415.6 688.5,416.5 688.5,417.5 689.5,370.5 689.5,372.5 689.5,375.4 689.6,376.5 689.5,380.4 689.6,383.5 689.5,384.5 689.6,386.5 689.6,391.5 689.5,393.4 689.6,394.6 689.5,396.5 689.5,401.6 689.4,402.4 689.5,404.5 689.5,406.6 689.5,407.5 689.5,409.5 689.5,411.5 689.5,412.5 689.5,413.5 689.4,414.5 689.6,415.4 689.5,416.5 689.4,418.5 689.4,420.5 690.5,367.4 690.4,372.4 690.5,373.5 690.4,376.5 690.6,377.6 690.5,379.5 690.5,381.4 690.4,382.4 690.4,383.5 690.6,384.5 690.5,385.5 690.5,386.6 690.6,387.6 690.5,388.4 690.6,389.4 690.4,390.4 690.4,392.4 690.5,393.5 690.5,394.5 690.6,395.6 690.6,398.6 690.4,399.4 690.5,400.5 690.5,401.5 690.5,402.6 690.6,403.5 690.5,404.4 690.4,405.6 690.6,406.5 690.5,408.5 690.4,409.4 690.5,410.6 690.6,411.5 690.5,412.6 690.5,413.6 690.4,415.4 690.5,416.4 690.4,417.4 690.4,420.5 690.4,421.5 691.5,376.4 691.6,379.6 691.5,380.6 691.4,383.5 691.5,384.5 691.4,385.5 691.5,387.5 691.5,388.5 691.4,389.4 691.5,390.5 691.5,391.5 691.5,393.5 691.4,394.5 691.6,395.5 691.5,398.5 691.5,399.5 691.5,401.6 691.5,403.5 691.5,405.5 691.5,406.5 691.4,411.5 691.5,412.4 691.5,413.5 691.5,415.6 691.6,416.5 691.5,419.6 692.6,370.5 692.5,372.5 692.5,373.4 692.6,374.5 692.6,378.5 692.6,380.5 692.5,381.6 692.4,383.5 692.6,385.6 692.5,386.5 692.5,388.5 692.5,390.5 692.5,393.6 692.5,394.5 692.5,395.5 692.4,397.4 692.6,398.5 692.5,402.6 692.5,404.5 692.4,405.4 692.5,406.5 692.5,408.5 692.5,410.5 692.4,411.5 692.6,412.4 692.6,414.5 692.5,417.4 693.6,377.5 693.5,378.5 693.5,380.5 693.6,381.4 693.5,382.6 693.5,383.5 693.6,385.5 693.5,386.5 693.5,387.4 693.6,388.5 693.4,389.5 693.6,390.5 693.4,391.5 693.5,393.5 693.4,394.5 693.5,396.5 693.5,398.6 693.6,399.4 693.6,400.5 693.6,401.5 693.5,404.5 693.5,406.5 694.5,367.5 694.5,369.5 694.5,370.5 694.5,371.4 694.5,372.5 694.5,373.5 694.4,374.5 694.4,375.5 694.4,376.5 694.5,377.5 694.4,378.4 694.5,380.4 694.5,381.6 694.5,382.5 694.5,383.5 694.5,384.5 694.5,385.6 694.4,386.5 694.4,387.5 694.4,388.4 694.5,390.5 694.5,395.5 694.6,396.5 695.6,361.5 695.4,364.5 695.5,366.5 695.6,367.5 695.5,370.5 695.5,374.5 695.5,375.5 695.6,378.4 695.5,379.5 695.4,380.5 695.4,381.4 695.5,384.5 695.5,385.5 695.4,388.4 695.6,389.6 695.6,391.6 695.5,392.5 695.5,393.5 696.5,361.4 696.5,363.6 696.6,364.5 696.5,365.6 696.4,366.5 696.5,368.5 696.5,371.5 696.5,372.5 696.5,374.5 696.4,375.5 696.5,377.5 696.5,378.6 696.5,380.5 696.4,381.4 696.5,382.5 696.5,383.5 696.4,384.5 696.4,389.6 696.6,392.5 696.5,394.5 697.5,353.5 697.5,354.5 697.4,356.5 697.5,357.6 697.6,359.4 697.6,360.5 697.5,361.4 697.5,362.6 697.4,363.4 697.5,367.5 697.5,368.6 697.5,370.5 697.6,371.6 697.6,375.5 697.4,376.5 697.5,378.5 697.4,379.4 697.5,381.4 697.5,382.4 697.6,383.5 697.6,384.4 697.5,385.5 697.4,388.5 697.4,389.5 697.6,390.5 698.4,359.5 698.4,360.5 698.5,363.5 698.5,364.5 698.5,365.4 698.5,366.5 698.5,368.5 698.5,369.5 698.5,371.5 698.4,373.5 698.5,375.5 698.4,377.4 698.5,380.6 698.5,381.5 698.6,382.5 698.5,384.5 698.5,386.6 698.5,387.5 698.5,390.5 698.5,392.5 698.5,393.5 698.6,394.5 698.5,395.5 698.4,396.5 698.4,398.5 698.4,399.5 698.6,400.5 698.5,404.6 699.5,370.5 699.5,373.4 699.4,374.4 699.4,377.5 699.5,379.5 699.5,381.6 699.4,382.5 699.6,384.4 699.5,385.6 699.6,387.5 699.5,388.6 699.5,390.5 699.4,391.5 699.5,393.4 699.5,395.4 699.5,397.4 699.5,398.4 699.5,399.5 699.5,400.5 699.5,401.5 699.5,402.5 699.4,404.5 699.5,405.5 699.5,407.5 699.5,408.5 699.6,409.5 699.5,411.6 699.5,412.5 699.4,413.5 699.5,414.5 699.5,415.5 700.6,377.6 700.4,381.4 700.4,382.5 700.5,383.5 700.4,384.6 700.6,385.5 700.5,386.5 700.6,391.5 700.4,392.5 700.4,393.6 700.6,394.5 700.5,396.5 700.5,398.5 700.5,399.5 700.4,400.6 700.5,401.5 700.5,402.6 700.4,403.5 700.5,404.5 700.4,405.5 700.6,406.5 700.5,407.5 700.5,411.5 700.4,414.6 700.4,417.4 700.5,419.5 701.4,376.6 701.5,377.5 701.5,378.5 701.4,379.5 701.5,380.5 701.5,383.5 701.4,384.5 701.5,385.5 701.4,386.4 701.5,387.6 701.5,389.5 701.5,390.5 701.5,392.5 701.5,393.5 701.5,395.5 701.5,397.5 701.6,398.6 701.4,400.5 701.5,401.5 701.5,403.4 701.5,407.6 701.5,408.5 701.5,409.6 701.5,410.4 701.5,411.5 701.6,412.4 701.4,413.5 701.4,415.5 701.5,416.4 702.4,383.5 702.5,385.6 702.4,388.5 702.6,389.5 702.5,390.5 702.5,391.6 702.5,392.5 702.6,394.5 702.5,399.5 702.4,400.5 702.5,404.4 702.4,405.4 702.5,406.5 702.5,408.6 702.6,415.5 702.5,418.5 703.5,382.5 703.5,386.5 703.5,390.5 703.5,392.5 703.4,395.6 703.5,399.4 703.5,400.5 703.5,401.5 703.4,405.6 703.4,408.6 703.4,409.5 703.5,410.5 703.6,411.5 704.5,381.5 704.4,382.5 704.5,383.5 704.4,384.5 704.5,385.5 704.5,386.5 704.5,389.5 704.5,393.5 704.5,394.4 704.4,397.5 704.5,398.5 704.5,400.6 704.5,401.4 704.5,402.4 704.5,403.5 704.4,404.5 704.6,406.5 704.5,407.6 704.6,409.5 704.4,411.4 704.5,416.5 704.4,418.5 705.5,381.5 705.5,382.4 705.6,385.4 705.4,387.4 705.4,388.6 705.5,389.6 705.5,391.5 705.5,392.5 705.5,393.5 705.4,395.4 705.4,396.6 705.5,397.4 705.5,398.6 705.5,399.5 705.5,400.5 705.5,401.5 705.5,402.6 705.5,404.4 705.5,405.6 705.4,406.5 705.5,407.5 705.5,408.5 705.4,410.4 705.4,413.5 705.4,415.6 706.4,380.4 706.4,381.5 706.5,383.4 706.5,384.6 706.6,385.6 706.5,386.5 706.5,387.6 706.5,389.4 706.5,390.5 706.5,391.4 706.5,393.5 706.5,395.4 706.5,397.5 706.6,398.6 706.5,399.5 706.4,400.5 706.5,401.6 706.5,402.4 706.6,403.5 706.4,404.6 706.5,405.4 706.5,406.5 706.4,407.5 706.5,408.5 706.6,409.4 706.4,411.5 707.5,374.5 707.4,376.5 707.5,377.5 707.5,378.4 707.5,379.4 707.5,380.5 707.5,381.5 707.4,382.4 707.6,384.5 707.4,385.4 707.5,386.5 707.6,387.5 707.5,388.5 707.4,389.6 707.4,392.5 707.6,393.5 707.6,394.5 707.4,395.5 707.4,398.4 707.5,399.6 707.5,400.6 707.4,401.5 707.5,403.4 707.5,405.5 707.5,407.6 707.5,408.5 707.5,409.5 707.5,411.5 708.5,380.5 708.4,383.5 708.5,384.6 708.5,385.5 708.5,386.5 708.5,387.4 708.4,388.5 708.5,389.4 708.5,390.5 708.5,391.6 708.4,393.4 708.6,394.5 708.6,395.6 708.6,396.6 708.5,397.4 708.5,398.5 708.6,399.5 708.5,400.5 708.4,401.5 708.5,402.5 708.5,403.6 708.5,405.5 708.5,406.5 708.5,407.5 708.5,408.6 709.5,373.5 709.5,374.5 709.5,375.5 709.5,376.5 709.5,377.4 709.5,378.6 709.5,380.5 709.5,382.4 709.5,383.5 709.5,384.4 709.6,385.5 709.5,387.4 709.5,388.4 709.4,389.4 709.6,390.5 709.5,392.5 709.4,393.5 709.4,394.6 709.5,395.4 709.5,397.5 709.5,398.5 709.5,399.5 709.5,402.5 709.5,403.5 709.5,404.6 710.5,379.6 710.5,381.5 710.5,390.5 710.5,391.5 710.5,392.6 710.5,406.5 711.5,375.6 711.6,376.6 711.4,378.5 711.6,379.6 711.4,381.5 711.4,382.5 711.5,383.5 711.5,387.5 711.4,388.6 711.6,391.6 711.5,392.5 711.5,399.5 711.4,400.5 711.5,401.4 711.5,402.5 711.5,404.5 711.5,405.6 712.4,376.5 712.5,378.5 712.5,379.5 712.5,383.5 712.4,384.5 712.5,385.5 712.6,386.5 712.6,389.6 712.5,392.6 712.6,393.4 712.5,398.5 712.5,399.5 712.4,400.5 712.4,402.5 713.5,380.5 713.5,381.5 713.5,383.5 713.5,384.5 713.5,386.5 713.6,387.5 713.5,389.5 713.5,390.4 713.5,391.4 713.5,392.5 713.6,393.5 713.5,394.6 713.5,395.5 713.4,396.6 713.5,397.5 713.5,398.5 713.5,399.5 713.4,400.5 713.4,401.5 713.5,403.5 713.5,406.6 714.5,378.5 714.4,380.5 714.4,384.5 714.4,385.5 714.5,388.5 714.6,389.5 714.6,391.5 714.5,392.5 714.4,396.6 714.5,399.5 714.4,401.5 714.5,403.5 714.5,410.6 715.5,378.5 715.6,380.4 715.5,381.5 715.5,384.6 715.5,385.4 715.6,386.6 715.4,388.5 715.5,391.5 715.4,392.6 715.5,393.4 715.5,394.5 715.5,395.4 715.5,397.5 715.5,398.4 715.5,399.5 715.5,400.4 715.5,401.4 715.5,402.5 715.5,403.4 715.5,404.5 715.6,405.5 715.5,407.5 715.4,409.6 716.5,372.5 716.5,375.6 716.5,376.6 716.4,378.4 716.5,381.5 716.5,383.5 716.6,384.4 716.6,385.5 716.4,386.5 716.6,387.4 716.5,388.5 716.5,389.5 716.6,390.6 716.5,392.6 716.6,393.5 716.5,394.6 716.5,395.5 716.5,396.4 716.5,398.4 716.5,400.5 716.4,401.5 716.4,402.5 716.6,403.5 716.5,404.5 716.6,406.5 716.5,408.5 716.4,411.5 716.5,413.5 717.5,378.6 717.5,385.5 717.6,387.5 717.5,388.5 717.4,392.6 717.5,394.6 717.5,395.5 717.5,397.5 717.5,398.6 717.5,399.5 717.5,401.5 717.5,402.5 717.5,404.5 717.4,405.6 717.5,406.6 717.6,409.4 717.5,412.5 717.5,414.5 717.5,418.6 718.6,383.4 718.5,385.5 718.5,386.4 718.5,388.5 718.5,390.5 718.6,391.5 718.5,394.5 718.5,395.5 718.5,397.5 718.5,398.6 718.4,400.4 718.5,401.5 718.5,402.5 718.5,403.5 718.5,404.6 718.5,408.5 718.4,409.4 718.5,412.4 718.5,413.5 718.4,414.6 718.5,415.5 719.5,378.5 719.5,381.5 719.6,387.5 719.5,390.5 719.6,391.6 719.5,392.5 719.5,394.5 719.5,396.5 719.5,397.6 719.5,398.5 719.6,399.4 719.5,400.6 719.5,402.5 719.5,407.5 719.5,411.5 719.4,412.6 719.5,413.5 719.5,414.5 719.4,417.6 719.5,418.5 720.4,380.5 720.5,381.6 720.5,384.5 720.5,388.6 720.5,391.4 720.5,392.5 720.5,393.5 720.5,394.5 720.6,396.5 720.4,397.5 720.5,398.5 720.6,399.5 720.5,401.5 720.5,403.5 720.5,404.4 720.5,405.6 720.5,406.6 720.5,408.6 720.5,409.6 720.5,410.6 720.6,411.6 720.6,415.5 721.5,379.5 721.5,382.5 721.6,383.5 721.5,384.4 721.5,385.6 721.5,387.4 721.6,389.4 721.5,390.5 721.5,391.6 721.5,395.6 721.4,396.5 721.4,397.5 721.5,398.5 721.5,400.6 721.4,401.6 721.6,402.5 721.5,403.5 721.4,404.5 721.5,405.5 721.5,406.5 721.5,407.4 721.5,408.5 721.4,409.5 721.4,410.6 721.5,413.5 721.5,414.6 721.6,416.5 722.4,380.6 722.5,387.5 722.5,388.5 722.5,389.5 722.4,391.5 722.5,392.5 722.5,393.5 722.4,394.5 722.5,396.5 722.5,398.5 722.5,399.5 722.6,400.5 722.6,403.5 722.5,405.4 722.6,406.5 722.5,407.4 722.6,408.6 722.5,413.5 723.6,381.5 723.5,386.5 723.5,387.6 723.5,388.5 723.4,390.5 723.5,394.5 723.5,396.5 723.4,398.5 723.5,399.5 723.5,401.5 723.6,403.6 723.5,404.5 723.4,406.4 723.5,407.4 723.5,408.5 723.5,410.5 723.5,411.5 723.5,413.5 723.4,414.5 723.5,415.5 723.5,416.5 723.5,418.6 723.5,421.5 724.4,383.5 724.4,386.5 724.5,388.5 724.5,391.5 724.6,392.4 724.4,393.5 724.5,394.5 724.5,396.5 724.5,398.5 724.5,399.5 724.5,400.5 724.4,401.4 724.6,404.6 724.5,405.5 724.4,407.5 724.4,408.6 724.6,409.5 724.6,410.5 724.6,414.5 725.5,380.4 725.5,383.5 725.5,385.4 725.5,386.5 725.5,387.6 725.5,388.6 725.5,389.5 725.5,390.5 725.4,391.5 725.6,395.5 725.6,396.6 725.5,397.4 725.5,398.4 725.5,399.5 725.6,400.6 725.5,402.5 725.5,403.4 725.4,405.6 725.5,406.5 725.5,407.5 725.6,409.6 725.5,410.4 725.5,411.5 725.6,412.6 725.6,415.4 725.5,417.6 725.4,418.5 725.5,419.4 726.5,381.4 726.6,386.5 726.5,388.5 726.4,389.4 726.5,390.4 726.4,391.5 726.6,392.5 726.6,393.5 726.5,396.4 726.6,398.5 726.5,399.5 726.5,400.5 726.5,402.5 726.5,403.5 726.5,405.5 726.5,409.5 726.5,414.4 727.5,381.5 727.5,382.5 727.6,383.4 727.5,386.4 727.6,390.5 727.4,391.4 727.5,392.6 727.5,394.4 727.4,395.5 727.5,396.5 727.5,397.4 727.5,399.5 727.5,401.5 727.6,403.5 727.5,404.5 727.5,405.6 727.5,406.5 727.5,408.4 727.5,409.5 727.4,410.5 727.5,411.5 727.5,412.5 727.6,413.5 727.4,414.6 727.5,415.5 727.5,416.5 727.5,417.4 728.6,380.5 728.4,381.4 728.4,384.5 728.5,385.5 728.5,386.5 728.5,387.5 728.5,388.5 728.6,389.4 728.5,390.5 728.5,391.6 728.4,394.5 728.4,395.5 728.5,396.6 728.4,398.5 728.6,401.6 728.4,402.5 728.4,404.5 728.5,405.5 728.4,406.5 728.4,407.5 728.4,408.5 728.4,409.6 728.6,410.5 728.5,413.6 728.5,414.5 728.5,415.5 728.5,417.4 728.5,418.5 728.5,419.4 728.4,420.5 728.4,421.5 729.4,382.5 729.4,383.5 729.5,384.6 729.4,385.5 729.5,388.6 729.5,389.6 729.5,391.5 729.4,393.6 729.5,406.5 729.6,407.5 729.5,408.5 729.4,410.5 729.5,411.6 729.5,413.4 730.4,381.6 730.6,383.5 730.4,389.6 730.6,392.6 730.5,397.5 730.5,402.5 730.5,403.6 730.5,412.4 731.4,374.5 731.5,375.5 731.5,379.4 731.5,380.5 731.5,382.5 731.5,383.5 731.5,384.5 731.5,385.5 731.4,386.6 731.5,387.4 731.5,389.6 731.5,390.5 731.4,391.4 731.4,393.5 731.5,395.5 731.6,398.6 731.5,399.5 731.5,400.4 731.4,401.5 731.5,402.5 731.6,403.6 731.5,405.5 731.4,408.4 731.4,409.5 731.5,410.5 731.5,411.5 731.5,413.5 731.4,414.5 731.5,416.4 732.5,370.5 732.4,373.6 732.5,374.6 732.5,375.5 732.5,376.5 732.5,377.5 732.4,379.5 732.5,383.5 732.6,384.4 732.6,385.5 732.5,390.5 732.4,391.6 732.6,392.5 732.5,395.6 732.5,396.6 732.5,397.4 732.5,399.4 732.6,400.5 732.6,401.5 732.5,403.5 732.5,404.5 732.4,405.6 732.4,407.5 732.6,408.5 732.6,409.5 732.5,414.6 733.5,370.6 733.5,371.5 733.5,372.5 733.5,375.5 733.5,377.5 733.5,378.4 733.4,379.5 733.5,380.4 733.6,381.5 733.5,382.5 733.6,384.5 733.5,385.5 733.4,386.4 733.5,387.5 733.5,388.6 733.5,389.5 733.5,390.4 733.5,391.6 733.5,392.4 733.5,393.5 733.4,395.5 733.5,397.5 733.5,398.5 733.5,399.4 733.6,401.5 733.6,402.6 733.4,403.6 733.6,404.5 733.5,406.5 733.4,407.5 733.4,408.5 733.5,410.5 733.4,411.5 733.5,413.5 733.5,416.6 733.6,418.6 733.5,419.5 734.5,373.4 734.5,374.4 734.5,375.5 734.4,376.6 734.4,378.6 734.5,379.4 734.4,381.5 734.5,382.5 734.6,383.5 734.6,386.5 734.6,389.5 734.5,390.5 734.5,391.5 734.5,392.4 734.6,395.5 734.5,397.5 734.5,398.5 734.6,399.5 734.6,400.4 734.6,401.4 734.5,402.5 734.6,404.5 734.4,406.5 734.6,407.5 734.5,408.6 734.5,410.6 734.4,411.5 734.5,412.4 734.5,413.5 734.5,414.5 735.5,366.6 735.5,367.6 735.5,368.4 735.5,369.5 735.5,370.4 735.5,373.5 735.6,374.5 735.5,375.5 735.5,376.5 735.5,377.6 735.5,378.5 735.6,379.5 735.4,380.5 735.5,383.5 735.5,385.4 735.5,386.5 735.5,388.5 735.4,389.5 735.5,390.5 735.6,391.6 735.5,393.4 735.5,394.5 735.6,395.4 735.5,396.4 735.6,398.5 735.4,399.6 735.5,401.5 735.5,402.6 735.5,404.5 735.5,407.5 736.6,365.5 736.4,366.5 736.6,372.5 736.6,383.5 736.6,386.6 736.4,387.5 736.6,389.5 736.5,390.5 736.5,393.4 736.5,398.5 736.6,401.4 736.5,406.5 736.5,408.5 737.6,363.4 737.6,364.6 737.4,369.5 737.6,370.5 737.5,371.5 737.5,373.5 737.5,377.5 737.5,378.6 737.4,379.5 737.5,380.4 737.5,381.6 737.6,382.5 737.4,383.6 737.6,384.6 737.6,385.6 737.5,389.4 737.5,392.4 737.5,393.5 737.6,394.6 737.6,395.4 737.4,396.6 737.4,397.5 737.5,399.6 737.5,401.6 737.4,402.5 737.4,403.4 737.6,404.5 737.5,405.5 737.4,409.4 738.6,363.4 738.5,365.5 738.5,366.5 738.6,367.5 738.4,368.5 738.5,369.5 738.5,370.5 738.5,372.4 738.5,373.4 738.4,374.5 738.5,375.4 738.5,376.4 738.6,378.6 738.5,379.6 738.4,380.4 738.5,381.6 738.5,382.5 738.5,383.5 738.6,384.5 738.6,386.5 738.5,388.5 738.5,389.4 738.5,390.5 738.6,391.5 738.5,394.5 738.5,396.5 738.5,397.5 738.4,398.5 738.5,399.5 738.5,400.6 738.5,401.5 738.4,402.6 738.5,403.6 738.5,404.6 738.6,405.5 738.4,407.5 356.5,399.5 356.5,400.5 356.5,402.5 356.5,403.5 356.4,404.5 356.6,406.5 356.6,407.5 356.6,408.4 356.4,409.5 356.4,410.6 356.6,411.5 356.5,415.4 356.5,416.5 356.5,419.5 375.5,391.5 375.5,394.5 375.6,396.5 375.5,397.4 375.5,398.5 375.5,399.6 375.5,400.5 375.5,401.5 375.4,402.6 375.5,403.6 380.5,400.4 380.5,401.5 380.4,402.5 380.4,408.5 380.5,411.5 380.5,412.6 380.5,413.6 380.5,415.4 380.5,417.5 380.4,419.6 380.5,420.6 380.5,421.5 380.6,425.5 380.5,426.4 380.5,427.6 380.5,429.5 402.5,403.4 402.5,404.4 402.4,405.4 402.6,407.5 420.5,399.5 420.4,400.5 420.5,402.5 420.5,404.5 420.5,405.5 420.5,406.6 420.4,407.5 438.6,398.5 438.5,399.6 438.5,400.5 438.5,401.5 438.4,402.5 438.5,403.5 438.6,405.5 438.5,407.5 438.5,408.5 438.4,409.5 438.5,411.6 438.5,413.5 438.5,414.5 438.5,415.6 437.5,402.6 437.6,404.5 437.5,405.5 437.6,407.5 437.5,409.5 437.6,410.5 441.5,394.4 441.5,396.6 441.5,398.5 476.5,397.5 476.6,398.5 476.5,399.5 476.5,405.5 476.5,406.5 476.4,407.6 476.5,408.5 476.5,411.4 476.5,414.5 476.5,415.5 508.5,399.4 508.5,400.5 508.5,401.5 508.4,405.5 516.5,393.4 516.5,394.5 516.5,397.5 516.4,398.4 516.6,399.4 516.5,400.5 516.5,402.5 516.5,403.5 516.4,405.4 516.4,408.4 516.4,409.5 522.5,392.5 522.6,393.4 522.5,397.6 534.5,393.5 534.5,394.5 534.5,399.6 534.5,400.6 534.6,401.5 534.6,402.6 534.5,403.5 534.6,405.6 534.5,406.5 534.6,407.4 533.6,398.4 533.5,400.5 533.5,403.5 171.7,350.6 171.6,352.5 171.7,359.6 171.4,361.5 171.3,362.4 171.7,366.5 171.6,369.4 171.7,370.4 171.5,371.5 171.5,376.6 171.3,378.4 171.3,379.5 171.3,380.4 171.7,381.5 171.4,384.5 171.4,385.4 171.5,386.5 171.6,387.6 171.7,389.4 171.7,390.5 171.7,391.5 171.4,393.5 171.7,394.5 171.4,395.6 171.8,397.6 171.7,399.5 171.5,401.5 171.3,404.4 171.3,405.5 171.3,406.5 171.3,407.5 171.8,408.4 171.6,409.5 171.5,410.6 171.8,413.6 171.5,415.5 171.3,416.5 171.7,419.5 171.3,422.4 171.7,425.5 171.8,426.6 171.6,428.5 171.4,429.5 171.3,431.4 171.8,433.4 171.6,434.5 171.8,436.4 171.8,437.5 171.4,439.6 171.6,440.5 171.4,441.5 171.8,442.5 171.5,445.5 171.5,448.4 171.4,450.6 171.5,456.6 171.7,457.5 171.3,460.5 171.4,461.5 171.3,464.5 171.5,465.6 171.3,467.6 171.8,469.5 171.7,472.5 171.3,473.6 171.8,477.5 176.4,352.4 187.4,365.5 202.4,379.5 204.5,428.6 207.5,376.4 217.6,381.5 232.6,361.5 234.6,371.5 239.5,421.6 240.6,418.5 247.5,345.6 247.6,394.5 257.5,360.4 258.4,373.5 271.6,414.5 272.4,409.6 276.6,403.6 283.5,434.5 294.5,421.6 296.6,404.4 297.5,403.5 298.5,368.5 298.5,404.5 304.5,376.5 332.6,403.5 344.5,412.4 346.5,437.6 368.6,357.5 378.5,349.5 379.5,350.5 387.5,407.5 389.5,428.5 394.6,356.6 396.5,406.5 404.5,363.5 404.5,403.5 411.5,371.5 411.4,406.5 413.5,421.6 423.6,399.5 424.5,366.6 424.5,398.5 434.5,396.5 441.5,403.5 444.5,341.5 452.6,393.5 456.6,406.5 462.6,401.6 468.5,353.5 469.4,401.4 471.4,400.5 472.5,401.5 482.5,394.6 487.5,341.5 487.5,390.5 504.5,344.6 504.5,384.5 515.6,330.5 516.5,333.4 518.6,398.6 523.5,326.5 524.6,396.6 534.6,332.5 546.4,389.5 553.5,393.6 560.4,404.5 564.5,332.5 576.5,390.5 579.6,329.4 580.6,406.4 589.5,383.5 591.4,333.5 591.5,390.5 594.6,357.5 601.5,357.5 615.5,413.5 637.5,377.5 637.5,428.5 661.6,391.6 663.5,396.4 670.6,414.4 674.4,352.5 675.5,353.4 685.5,421.5 690.6,364.4 692.5,356.5 692.5,417.4 694.5,410.5 696.4,396.5 698.5,352.5 699.5,422.5 700.4,368.5 707.4,365.5 717.5,374.4 718.4,421.5 720.4,374.4 720.4,424.6 721.6,431.5 729.6,433.5 733.4,424.4 734.6,362.5 178.6,130.1 202.4,119.7 226.3,131.7 216.5,140.5 256.7,113.9 283.7,140.5 302.7,133.5 304.5,135.3 315.2,149.6 347.4,119.7 346.4,124.7 314.6,172.4 248.9,175.8 251.3,186.6 299.5,182.6 342.8,182.6 256.1,196.8 340.6,189.8 338.2,191.6 336.4,196.8 349.8,198.6 176.4,202.4 209.8,204.0 241.9,207.6 246.5,205.6 253.5,205.6 277.1,204.0 260.3,210.8 272.3,212.8 276.3,214.6 331.2,202.4 335.6,202.4 341.8,204.0 345.4,205.6 333.4,214.6 352.2,216.2 354.8,213.4 202.2,218.2 201.8,221.4 310.0,218.4 274.7,221.4 291.3,221.4 293.5,219.8 321.4,221.4 345.4,223.6 234.9,225.0 239.5,225.0 218.5,226.6 220.9,228.6 203.4,228.6 244.3,228.4 244.5,230.6 287.1,228.6 295.7,228.4 298.1,230.4 305.1,226.6 307.6,225.0 310.2,228.6 312.6,226.6 319.2,225.0 321.6,230.4 326.4,228.4 328.8,226.6 336.0,225.0 190.0,232.2 209.4,235.6 300.3,233.8 255.7,237.4 267.7,238.8 324.2,237.4 347.2,238.8 414.9,128.5 415.5,140.5 359.4,186.6 368.4,186.6 378.0,177.6 364.0,195.2 366.4,202.4 371.0,196.8 373.4,191.6 375.8,189.8 355.6,212.8 357.0,214.8 385.0,196.8 387.4,200.4 382.4,212.8 379.6,219.8 396.6,204.0 406.3,193.4 403.7,209.4 408.5,207.6 401.4,212.8 404.5,212.8 410.9,221.4 413.3,221.4 422.5,207.6 424.9,207.6 427.3,207.6 429.5,200.4 431.9,193.4 434.3,195.2 436.5,191.6 439.1,209.4 441.3,196.8 443.5,184.6 446.1,188.2 448.3,181.2 450.7,196.8 453.1,176.0 455.5,174.0 457.7,165.4 462.3,195.2 464.7,205.6 467.1,189.8 469.5,200.4 471.7,195.2 476.5,207.6 478.9,195.2 481.3,189.8 483.5,172.4 485.9,175.8 488.3,167.0 490.3,159.8 492.9,175.8 495.3,179.4 497.6,172.4 500.0,181.2 502.4,172.4 504.6,177.6 507.0,184.6 509.4,191.6 511.4,154.8 513.8,154.8 518.6,153.0 516.4,163.6 521.0,172.4 523.4,167.0 525.6,182.6 528.0,165.4 530.4,174.0 532.6,168.8 535.0,172.4 537.4,181.2 539.6,158.6 544.2,172.4 542.0,204.0 474.3,228.6 542.0,230.4 420.3,232.2 380.4,235.6 394.4,235.6 393.2,237.6 417.9,238.8 572.4,121.1 602.7,119.7 705.6,121.1 574.8,142.5 591.4,145.7 546.6,170.8 565.4,170.6 570.2,163.6 577.4,167.0 579.4,174.0 584.2,161.8 586.6,161.8 588.8,163.6 593.5,172.4 581.8,186.6 549.4,186.6 551.4,193.4 553.8,191.8 556.2,191.8 558.4,198.6 560.8,205.6 563.2,212.8 567.8,218.4 614.5,165.4 605.5,177.6 607.5,184.6 612.5,182.6 610.1,196.8 611.3,202.4 617.3,204.0 600.7,207.6 596.1,219.8 603.1,223.6 640.5,182.6 642.9,186.6 647.5,188.0 649.9,189.8 652.3,179.4 656.9,193.4 661.1,193.4 664.1,191.6 666.3,188.0 645.3,200.4 661.7,205.6 654.5,210.8 659.3,210.8 633.5,216.2 649.3,218.4 675.5,168.8 675.5,181.2 697.4,172.4 682.5,189.8 685.1,193.4 692.4,191.6 675.1,193.4 676.5,193.4 678.1,198.6 680.5,196.8 675.5,210.8 696.8,205.6 694.4,209.4 734.2,195.2 711.0,216.2 730.4,214.6 668.5,221.4 713.2,225.0 725.0,225.0 629.9,232.2 598.5,237.4 629.1,237.4 174.0,242.9 200.4,241.3 216.5,244.7 225.5,242.9 228.1,244.7 237.5,246.5 257.3,244.7 265.5,242.9 267.9,239.5 281.9,242.9 280.7,244.7 319.2,244.7 314.2,246.5 345.0,244.7 346.2,240.3 348.6,239.5 352.2,248.3 354.2,246.5 179.4,248.3 185.4,250.1 190.4,251.7 188.0,253.5 183.6,253.5 179.4,253.5 174.0,253.5 183.6,256.5 171.2,256.9 195.6,251.7 195.6,255.3 202.6,251.7 206.6,250.1 209.0,248.9 207.8,250.1 213.5,248.3 217.1,250.1 206.2,253.5 202.2,255.3 200.0,256.9 206.6,256.9 211.4,255.3 215.5,253.5 230.1,253.5 230.5,258.7 258.5,248.3 260.7,248.3 262.5,248.3 256.7,251.7 255.3,253.5 263.1,253.5 260.1,255.3 288.7,251.7 303.5,255.3 185.4,263.9 190.4,263.9 192.0,262.3 197.4,263.9 200.0,263.9 202.2,263.9 204.2,260.5 207.2,262.3 207.2,265.7 198.0,265.7 216.5,260.5 216.5,265.7 219.5,265.7 217.7,267.5 225.5,262.3 232.5,263.9 257.1,265.7 264.1,267.5 270.3,262.3 280.3,258.7 282.3,262.3 284.7,262.3 287.5,265.7 304.1,262.3 347.2,258.7 347.2,260.5 346.2,262.3 347.2,267.5 354.8,262.3 313.6,267.5 193.0,271.3 204.2,272.7 209.2,271.3 216.5,271.3 225.5,271.3 226.7,271.3 231.7,269.3 195.0,276.1 195.6,277.9 205.6,276.1 226.9,276.1 230.5,277.9 284.3,269.3 286.3,271.3 304.5,269.3 313.4,271.3 314.8,272.7 318.4,269.3 345.0,269.3 279.5,274.5 279.5,276.1 178.2,276.1 180.6,276.1 217.1,279.7 217.5,281.3 280.1,279.7 280.1,281.7 284.3,279.7 303.1,277.9 303.1,279.7 313.6,279.7 316.0,279.7 318.4,279.7 316.6,283.4 178.6,285.0 217.1,285.0 217.1,286.8 217.1,288.4 217.1,290.2 206.2,288.4 202.6,290.2 203.4,292.0 225.7,285.0 223.3,288.4 314.2,286.8 346.4,286.8 347.4,290.2 178.6,292.0 192.4,292.0 192.4,293.6 283.3,290.2 317.6,293.6 179.0,300.4 218.1,299.4 171.6,302.4 192.4,304.4 287.1,300.4 317.6,299.4 314.2,304.4 178.6,307.4 178.6,309.4 346.4,311.4 289.1,315.0 179.0,320.4 202.4,323.6 314.2,331.0 181.4,336.6 217.1,337.8 260.1,337.8 289.1,339.4 336.2,337.8 181.4,343.4 260.1,343.4 328.6,345.0 171.2,348.4 177.4,353.8 260.1,348.4 260.1,350.4 265.1,352.0 289.1,350.4 344.6,348.4 346.2,350.4 320.2,353.8 171.2,357.4 181.4,357.0 181.4,359.0 260.1,357.4 260.1,360.4 287.5,360.4 302.1,359.4 299.5,362.4 298.1,364.4 316.6,360.4 327.2,359.0 272.7,362.4 266.5,364.4 185.0,364.4 190.0,369.4 202.4,369.4 230.1,365.8 231.5,369.4 349.2,360.4 349.2,364.4 276.5,365.8 276.5,369.4 353.6,369.4 299.5,373.0 418.1,239.5 418.7,244.7 415.5,248.3 392.2,244.7 355.4,246.5 460.3,246.5 476.5,250.1 399.0,255.3 401.6,255.3 355.6,262.3 355.6,267.5 390.0,263.9 390.0,265.7 389.4,267.5 416.5,258.7 414.3,260.5 415.5,265.7 416.5,269.3 415.5,271.3 398.4,276.1 416.1,277.9 476.5,316.8 512.6,315.0 517.0,316.8 527.6,322.0 471.5,323.6 471.5,329.0 476.5,327.4 513.2,322.0 512.0,323.6 455.1,332.6 513.8,327.4 516.4,329.0 524.8,329.0 522.8,332.6 531.8,332.6 358.2,339.4 362.4,337.8 371.4,339.4 358.2,345.0 362.4,343.4 377.8,345.0 457.5,337.8 457.5,341.4 462.7,339.4 462.7,344.4 471.5,336.6 475.1,336.6 482.5,341.4 405.9,353.8 405.9,360.4 394.6,360.4 383.8,362.4 442.3,352.0 438.5,357.4 430.1,367.8 494.5,346.8 497.6,348.4 539.6,339.4 541.2,343.4 574.4,241.3 593.9,244.7 602.7,248.3 593.9,251.7 597.5,253.5 597.5,260.5 602.7,260.5 602.7,263.9 602.7,274.5 602.7,285.0 619.5,241.3 619.5,248.3 619.5,253.5 626.5,248.3 629.1,251.7 631.1,255.3 633.5,253.5 636.1,253.5 638.5,250.1 636.5,242.9 624.3,260.5 626.5,265.7 624.3,267.5 621.9,267.5 607.5,307.8 607.5,325.8 613.7,323.6 570.4,311.4 691.6,304.4 700.2,316.8 715.6,315.0 700.8,332.6 722.6,336.6 730.6,336.6 697.6,341.4 697.6,346.8 697.6,350.4 730.6,346.8 730.6,353.8 724.6,355.6 633.5,339.4 633.5,348.4 633.5,350.4 633.5,352.0 668.5,350.4 646.1,348.4 646.1,353.8 653.1,355.6 681.9,352.0 604.7,343.4 607.5,348.4 604.7,350.4 629.1,362.4 629.1,365.4 629.1,368.4 636.5,365.8 633.5,360.4 640.7,360.4 710.2,360.4 713.2,362.4 710.2,365.8 703.2,365.8 705.2,365.8 724.6,369.4 720.2,371.4 710.2,373.0 730.6,371.4 546.0,350.4 555.0,355.6 561.4,353.8 670.4,228.8 674.4,232.4 670.4,234.2 671.1,235.6 668.8,237.9 670.4,237.9 675.1,237.9 668.6,241.2 673.3,241.2 671.4,246.6 669.6,248.2 668.6,253.6 690.7,230.3 690.7,232.3 689.6,237.9 689.6,243.2 690.7,244.9 687.6,246.6 689.6,246.6 691.7,246.6 687.3,248.2 690.1,251.9 691.7,251.9 690.1,255.4 690.1,257.2 691.7,257.2 691.7,260.7 690.1,262.7 691.7,262.7 690.7,264.0 699.9,237.9 699.7,239.6 700.7,243.2 699.7,246.6 701.4,246.6 702.2,248.4 702.7,250.2 700.2,253.6 699.7,257.2 701.4,257.2 699.7,262.7 700.7,262.7 699.9,264.0 699.9,268.0 700.7,269.5 700.2,271.5 699.7,274.5 700.0,276.5 706.7,230.6 708.7,230.6 704.2,233.8 706.7,234.3 705.5,235.8 704.2,239.6 705.2,241.2 704.5,244.9 703.7,251.9 705.7,251.9 707.7,249.9 705.2,257.2 704.5,258.9 704.5,262.7 704.9,264.0 704.5,269.5 706.7,269.5 705.5,273.0 705.2,281.7 713.2,225.8 713.5,232.4 715.3,237.9 713.5,239.6 714.2,241.2 715.3,244.9 715.3,246.6 714.2,248.2 715.6,251.9 714.2,253.6 716.5,264.0 718.0,234.2 725.0,225.8 723.0,230.6 727.5,230.6 722.5,235.6 723.5,244.9 720.8,248.4 722.8,248.4 725.3,249.9 722.5,251.9 721.3,253.6 723.8,255.4 722.5,257.2 724.5,257.2 726.0,264.0 723.5,267.8 729.5,239.6 728.3,243.2 729.5,244.9 730.8,246.6 732.8,244.9 736.6,244.9 733.5,248.2 731.8,246.6 737.1,249.9 732.1,253.6 731.3,255.4 732.0,260.7 179.0,429.3 179.0,432.9 179.0,436.5 179.0,440.1 179.0,443.5 179.0,445.3 192.0,432.9 193.4,441.7 202.4,432.9 205.0,432.9 202.4,440.1 217.5,429.3 217.5,432.9 217.5,434.7 225.5,434.7 225.5,436.5 210.6,429.3 262.1,432.9 263.5,432.9 275.5,429.3 280.1,432.9 280.7,436.5 286.5,436.5 283.1,441.7 298.5,434.7 303.5,432.9 303.5,436.5 336.6,432.9 342.6,434.7 347.2,434.7 353.2,438.3 313.6,440.1 317.6,440.1 217.1,445.7 256.1,445.7 274.7,445.7 277.5,445.7 304.5,445.7 313.6,445.3 191.4,452.3 196.4,455.7 207.2,455.7 259.1,452.3 284.1,449.3 299.5,449.3 324.6,449.3 316.6,452.3 320.8,455.7 202.4,461.3 202.4,462.7 216.5,459.3 216.5,464.5 255.5,462.7 281.7,459.3 284.1,459.3 284.1,461.3 304.5,462.7 313.6,459.3 313.6,461.3 315.2,457.5 316.6,457.5 347.2,457.5 346.2,459.3 346.2,461.3 192.4,466.1 191.4,467.9 231.5,466.5 260.5,466.5 313.6,466.1 313.6,467.9 202.4,473.4 210.6,471.7 258.5,471.7 280.1,471.7 280.7,473.4 284.1,470.3 304.5,473.4 316.6,470.3 313.6,473.4 317.6,473.4 316.6,475.0 255.5,477.4 283.7,477.4 255.5,482.6 316.6,482.6 346.2,482.6 346.2,484.6 346.2,486.4 179.0,484.4 280.7,484.4 281.7,486.4 284.1,486.4 284.1,488.0 274.7,488.0 304.5,489.4 316.6,489.4 255.5,491.4 258.5,493.4 210.6,493.4 215.5,493.4 231.5,493.4 280.1,493.4 280.7,495.0 284.1,495.0 202.4,496.8 316.6,495.0 328.2,498.6 280.7,498.6 284.1,500.4 277.5,501.6 256.5,503.8 196.4,505.6 191.4,506.8 191.4,508.4 192.4,508.4 202.4,508.4 202.4,510.4 179.0,510.4 179.0,514.8 202.4,514.8 207.2,514.8 216.5,512.4 217.1,515.8 258.5,510.4 284.1,509.4 283.1,510.4 287.1,512.4 298.5,506.8 304.5,510.4 304.5,512.4 313.6,505.6 316.6,505.6 313.6,509.4 313.6,511.0 316.6,512.4 324.6,515.8 336.6,506.8 342.6,505.6 346.2,506.8 346.2,510.4 347.2,512.4 347.2,515.8 341.6,515.8 303.1,540.6 371.4,438.7 380.4,431.3 390.0,431.3 390.0,434.7 391.4,429.3 415.5,431.3 398.4,427.7 414.5,427.7 512.6,426.3 415.5,466.5 393.0,475.6 398.6,480.8 414.5,484.6 398.4,486.4 393.0,491.6 597.5,434.7 602.5,429.3 602.5,427.7 602.5,440.1 619.5,431.3 638.5,427.7 668.5,429.3 691.2,431.3 692.2,440.1 699.8,436.5 710.2,429.3 710.2,434.7 720.2,440.1 714.2,443.5 700.2,427.7 732.2,429.3 723.2,426.3 714.8,426.3 616.5,450.5 602.7,456.1 634.1,457.5 673.1,449.3 691.2,450.5 691.2,452.3 691.2,456.1 690.8,457.5 699.8,457.5 699.8,459.3 704.2,461.3 705.2,449.3 714.6,447.3 725.0,452.3 722.6,456.1 730.6,454.3 623.7,466.5 597.5,470.3 700.8,466.5 704.2,466.5 704.6,468.3 700.8,473.4 669.5,475.6 722.6,475.6 700.8,479.0 616.5,484.4 700.8,488.0 700.8,491.4 700.2,493.4 715.6,491.4 714.6,495.0 602.7,496.8 597.5,501.6 623.7,503.8 634.1,503.8 700.8,500.4 704.6,501.6 714.2,500.4 673.1,509.0 691.2,505.6 700.2,505.6 722.6,505.6 691.2,510.4 691.2,512.4 691.2,514.4 700.2,510.4 700.8,515.8 704.2,515.8 710.2,515.8 714.6,517.4 720.2,514.4 720.2,515.8 725.0,514.4 366.4,398.4 356.4,406.4 356.4,410.4 356.4,414.4 356.4,419.4 398.4,424.4 408.5,404.4 441.5,403.4 476.5,414.4 476.5,410.4 481.5,403.4 508.2,403.4 516.2,407.4 534.6,406.4 542.6,404.4 438.1,410.4 438.1,414.4 668.5,412.3 673.1,413.9 670.7,417.3 673.1,417.3 668.5,420.9 670.7,426.3 649.7,403.3 659.7,401.3 659.7,404.9 654.1,398.3 607.5,413.7 564.4,422.7 710.2,427.7 714.6,426.3 724.6,425.3 732.2,424.3 613.7,334.9 613.1,337.3 614.1,340.3 613.1,342.3 614.5,346.9 616.1,347.3 604.7,343.3 607.5,348.3 605.1,351.3 633.1,339.7 633.1,348.3 633.1,352.3 633.7,360.4 629.1,363.4 629.1,366.4 629.1,369.4 628.1,375.4 633.1,376.4 636.1,365.4 636.5,369.4" fill="none" stroke="none" marker-start="url(#m)" marker-mid="url(#m)" marker-end="url(#m)"/>
<text transform="translate(158.4,564.8) scale(1,1)" font-size="17.9" text-anchor="end">0.0</text>
<text transform="translate(158.4,451.8) scale(1,1)" font-size="17.9" text-anchor="end">0.5</text>
<text transform="translate(158.4,338.8) scale(1,1)" font-size="17.9" text-anchor="end">1.0</text>
<text transform="translate(158.4,225.8) scale(1,1)" font-size="17.9" text-anchor="end">1.5</text>
<text transform="translate(158.4,112.8) scale(1,1)" font-size="17.9" text-anchor="end">2.0</text>
<text transform="translate(171.3,585) scale(1,1)" font-size="17.9" text-anchor="middle">0</text>
<text transform="translate(312.3,585) scale(1,1)" font-size="17.9" text-anchor="middle">5</text>
<text transform="translate(453.3,585) scale(1,1)" font-size="17.9" text-anchor="middle">10</text>
<text transform="translate(593.3,585) scale(1,1)" font-size="17.9" text-anchor="middle">15</text>
<text transform="translate(734.3,585) scale(1,1)" font-size="17.9" text-anchor="middle">20</text>
<text transform="translate(487.7,70.7) scale(1,0.94)" font-size="19.9" text-anchor="middle" xml:space="preserve" style="white-space:pre">Record:  e234b</text>
<text transform="translate(488.5,635.9) scale(1,0.925)" font-size="20.2" text-anchor="middle">Time (hour)</text>
<text transform="translate(100.1,332.4) rotate(-90) scale(1,0.9)" font-size="20.2" text-anchor="middle">RR Interval (second)</text>
</svg></body></html>
